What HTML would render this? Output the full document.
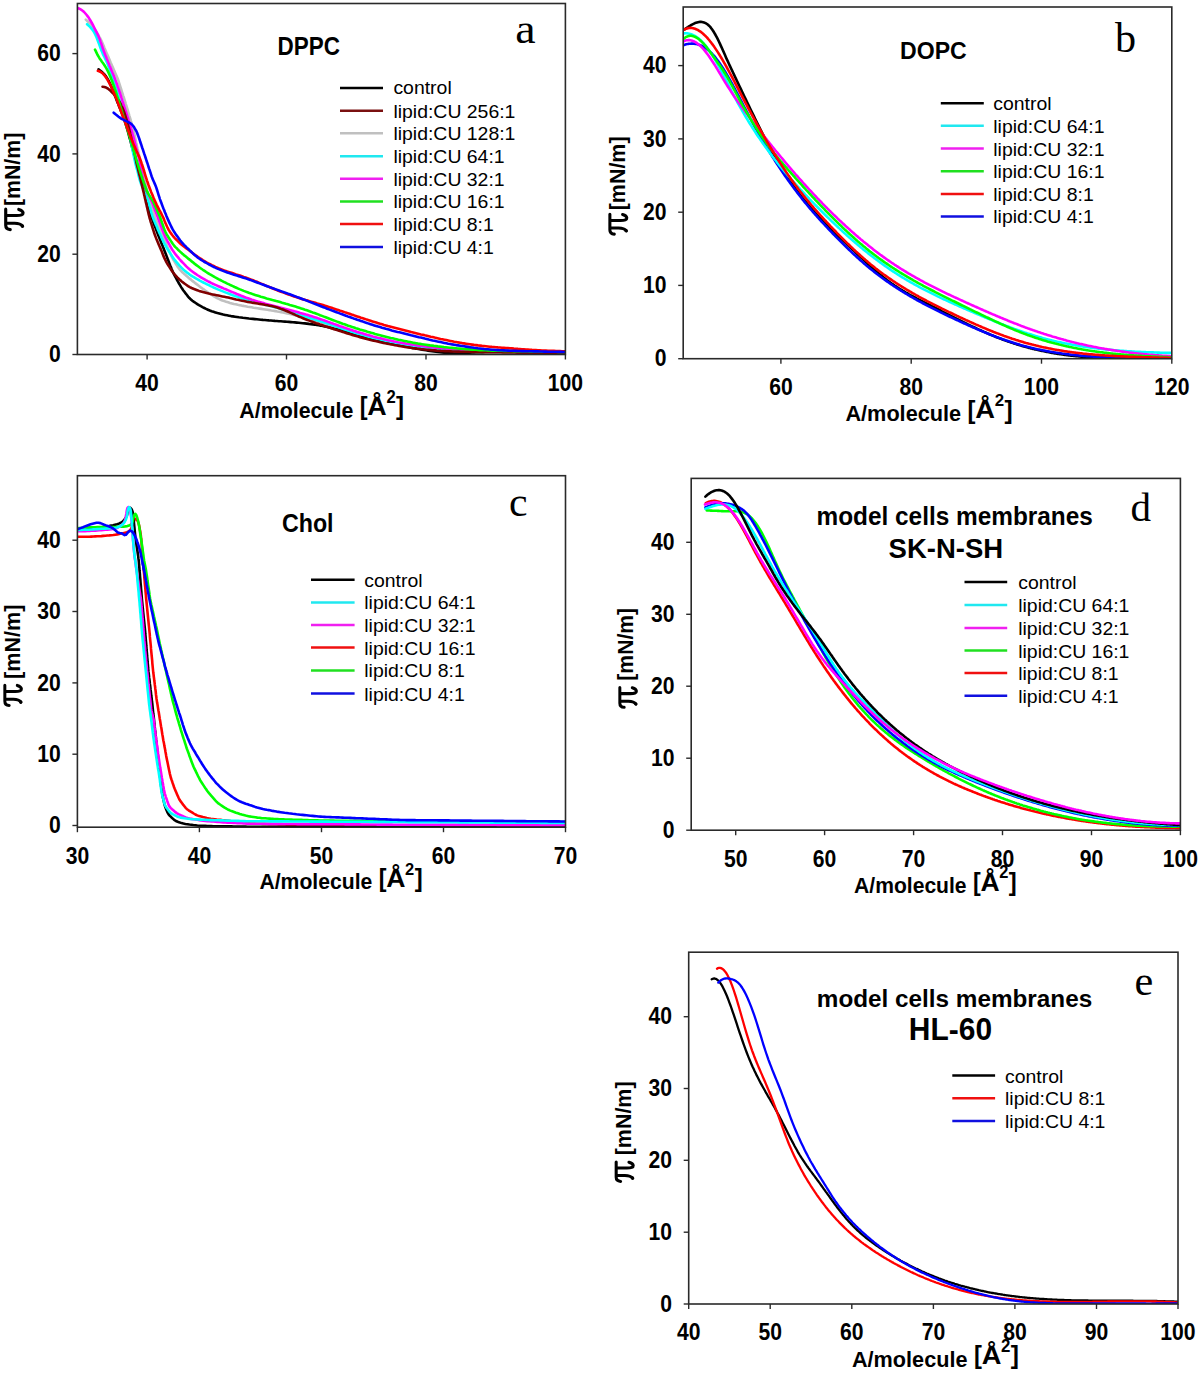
<!DOCTYPE html>
<html><head><meta charset="utf-8"><style>
html,body{margin:0;padding:0;background:#fff;}
svg{display:block;}
text{font-family:"Liberation Sans", sans-serif;fill:#000;}
</style></head><body>
<svg width="1200" height="1376" viewBox="0 0 1200 1376">
<rect width="1200" height="1376" fill="#fff"/>
<clipPath id="clipa"><rect x="77.4" y="3.5" width="488.0" height="351.0"/></clipPath>
<g clip-path="url(#clipa)" fill="none" stroke-width="2.6" stroke-linejoin="round" stroke-linecap="round">
<path d="M85.8,19.6 L87.3,21.0 L88.7,22.3 L90.2,23.7 L91.5,25.2 L92.8,26.7 L94.0,28.3 L95.2,29.9 L96.3,31.6 L97.3,33.3 L98.3,35.0 L99.3,36.8 L100.3,38.5 L101.2,40.3 L102.0,42.1 L102.8,44.0 L103.6,45.8 L104.3,47.7 L105.1,49.5 L105.9,51.4 L106.7,53.2 L107.5,55.1 L108.3,56.9 L109.1,58.7 L109.9,60.6 L110.6,62.4 L111.4,64.3 L112.2,66.1 L113.0,67.9 L113.8,69.8 L114.6,71.6 L115.4,73.5 L116.2,75.3 L117.0,77.1 L117.8,79.0 L118.5,80.9 L119.1,82.8 L119.7,84.7 L120.3,86.6 L120.9,88.5 L121.5,90.4 L122.1,92.3 L122.7,94.2 L123.3,96.1 L124.0,98.0 L124.6,100.0 L125.2,101.9 L125.7,103.8 L126.3,105.7 L126.9,107.6 L127.5,109.5 L128.1,111.5 L128.7,113.4 L129.2,115.3 L129.8,117.2 L130.4,119.1 L130.9,121.1 L131.5,123.0 L132.1,124.9 L132.6,126.8 L133.1,128.8 L133.6,130.7 L134.1,132.7 L134.5,134.6 L134.9,136.6 L135.3,138.5 L135.7,140.5 L136.1,142.5 L136.6,144.4 L137.0,146.4 L137.4,148.3 L137.9,150.3 L138.4,152.2 L138.8,154.2 L139.3,156.1 L139.7,158.1 L140.2,160.0 L140.6,162.0 L141.0,164.0 L141.5,165.9 L141.9,167.9 L142.3,169.8 L142.7,171.8 L143.1,173.8 L143.5,175.7 L144.0,177.7 L144.4,179.6 L144.9,181.6 L145.4,183.5 L145.9,185.5 L146.4,187.4 L146.9,189.4 L147.4,191.3 L147.9,193.2 L148.4,195.2 L148.9,197.1 L149.4,199.1 L149.9,201.0 L150.5,202.9 L151.0,204.8 L151.6,206.8 L152.2,208.7 L152.8,210.6 L153.4,212.5 L154.0,214.4 L154.6,216.3 L155.3,218.2 L156.1,220.0 L156.8,221.9 L157.6,223.7 L158.4,225.6 L159.2,227.4 L160.0,229.3 L160.8,231.1 L161.5,233.0 L162.3,234.8 L163.1,236.6 L163.9,238.5 L164.7,240.3 L165.4,242.2 L166.2,244.0 L167.0,245.9 L167.8,247.7 L168.6,249.6 L169.4,251.4 L170.2,253.2 L171.1,255.0 L171.9,256.9 L172.8,258.6 L173.7,260.4 L174.8,262.1 L175.8,263.8 L176.9,265.5 L178.0,267.2 L179.2,268.8 L180.5,270.3 L181.8,271.7 L183.3,273.1 L184.8,274.4 L186.3,275.8 L187.8,277.1 L189.3,278.4 L190.9,279.6 L192.4,280.9 L194.0,282.1 L195.6,283.4 L197.2,284.6 L198.7,285.8 L200.3,287.1 L202.0,288.2 L203.6,289.4 L205.2,290.6 L206.9,291.7 L208.5,292.8 L210.2,293.9 L211.9,295.0 L213.6,296.1 L215.3,297.1 L217.0,298.0 L218.8,298.9 L220.6,299.7 L222.4,300.5 L224.3,301.1 L226.2,301.8 L228.1,302.3 L230.0,302.9 L231.9,303.4 L233.9,303.9 L235.8,304.3 L237.8,304.8 L239.7,305.2 L241.7,305.6 L243.7,305.9 L245.6,306.3 L247.6,306.7 L249.6,307.0 L251.6,307.3 L253.5,307.7 L255.5,308.0 L257.5,308.3 L259.5,308.6 L261.5,308.9 L263.4,309.2 L265.4,309.5 L267.4,309.8 L269.4,310.1 L271.4,310.5 L273.3,310.8 L275.3,311.1 L277.3,311.5 L279.2,311.8 L281.2,312.2 L283.2,312.6 L285.1,313.0 L287.1,313.4 L289.1,313.8 L291.0,314.3 L293.0,314.7 L294.9,315.2 L296.9,315.7 L298.8,316.2 L300.7,316.7 L302.7,317.2 L304.6,317.7 L306.5,318.2 L308.5,318.8 L310.4,319.3 L312.3,319.9 L314.3,320.4 L316.2,321.0 L318.1,321.5 L320.0,322.1 L322.0,322.6 L323.9,323.2 L325.8,323.8 L327.7,324.3 L329.6,324.9 L331.6,325.5 L333.5,326.0 L335.4,326.6 L337.3,327.2 L339.2,327.8 L341.2,328.3 L343.1,328.9 L345.0,329.5 L346.9,330.1 L348.9,330.6 L350.8,331.2 L352.7,331.8 L354.6,332.3 L356.6,332.9 L358.5,333.4 L360.4,333.9 L362.3,334.5 L364.3,335.0 L366.2,335.5 L368.2,336.0 L370.1,336.5 L372.0,337.0 L374.0,337.5 L375.9,338.0 L377.9,338.5 L379.8,338.9 L381.8,339.4 L383.7,339.9 L385.7,340.4 L387.6,340.9 L389.5,341.3 L391.5,341.8 L393.4,342.3 L395.4,342.7 L397.4,343.1 L399.3,343.6 L401.3,344.0 L403.2,344.4 L405.2,344.7 L407.2,345.1 L409.1,345.5 L411.1,345.8 L413.1,346.2 L415.1,346.5 L417.0,346.8 L419.0,347.1 L421.0,347.4 L423.0,347.8 L425.0,348.1 L426.9,348.3 L428.9,348.6 L430.9,348.9 L432.9,349.1 L434.9,349.4 L436.9,349.6 L438.9,349.8 L440.9,350.1 L442.9,350.3 L444.8,350.5 L446.8,350.7 L448.8,350.9 L450.8,351.0 L452.8,351.2 L454.8,351.4 L456.8,351.5 L458.8,351.7 L460.8,351.8 L462.8,352.0 L464.8,352.1 L466.8,352.2 L468.8,352.3 L470.8,352.4 L472.8,352.5 L474.8,352.5 L476.8,352.6 L478.8,352.7 L480.8,352.8 L482.8,352.9 L484.8,352.9 L486.8,353.0 L488.8,353.1 L490.8,353.1 L492.9,353.2 L494.9,353.3 L496.9,353.3 L498.9,353.4 L500.9,353.4 L502.9,353.5 L504.9,353.5 L506.9,353.5 L508.9,353.5 L510.9,353.6 L512.9,353.6 L514.9,353.6 L516.9,353.6 L518.9,353.6 L520.9,353.7 L522.9,353.7 L524.9,353.7 L526.9,353.7 L528.9,353.7 L530.9,353.7 L532.9,353.8 L534.9,353.8 L536.9,353.8 L538.9,353.8 L540.9,353.8 L543.0,353.8 L545.0,353.8 L547.0,353.9 L549.0,353.9 L551.0,353.9 L553.0,353.9 L555.0,353.9 L557.0,353.9 L559.0,354.0 L561.0,354.0 L563.0,354.0 L565.0,354.0" stroke="#c0c0c0" stroke-width="2.6"/>
<path d="M98.5,69.3 L100.1,70.5 L101.7,71.7 L103.1,73.1 L104.5,74.5 L105.7,76.1 L106.8,77.7 L107.8,79.4 L108.8,81.2 L109.7,83.0 L110.5,84.8 L111.3,86.6 L112.1,88.5 L112.9,90.3 L113.6,92.2 L114.3,94.1 L115.0,95.9 L115.8,97.8 L116.5,99.7 L117.2,101.6 L118.0,103.4 L118.7,105.3 L119.4,107.2 L120.2,109.0 L120.9,110.9 L121.7,112.7 L122.4,114.6 L123.1,116.5 L123.8,118.4 L124.5,120.2 L125.1,122.2 L125.7,124.1 L126.3,126.0 L126.8,127.9 L127.4,129.8 L128.0,131.8 L128.5,133.7 L129.0,135.6 L129.5,137.6 L130.1,139.5 L130.6,141.4 L131.1,143.4 L131.6,145.3 L132.1,147.3 L132.7,149.2 L133.2,151.1 L133.7,153.1 L134.2,155.0 L134.8,156.9 L135.3,158.9 L135.9,160.8 L136.5,162.7 L137.0,164.6 L137.6,166.6 L138.2,168.5 L138.7,170.4 L139.3,172.3 L139.9,174.2 L140.5,176.2 L141.1,178.1 L141.6,180.0 L142.2,181.9 L142.7,183.9 L143.2,185.8 L143.7,187.8 L144.2,189.7 L144.6,191.7 L145.1,193.6 L145.6,195.6 L146.1,197.5 L146.6,199.4 L147.1,201.4 L147.6,203.3 L148.1,205.3 L148.7,207.2 L149.2,209.1 L149.7,211.1 L150.3,213.0 L150.8,214.9 L151.4,216.8 L152.1,218.7 L152.7,220.6 L153.4,222.5 L154.1,224.4 L154.8,226.2 L155.6,228.1 L156.3,230.0 L157.0,231.9 L157.7,233.7 L158.4,235.6 L159.2,237.5 L159.9,239.3 L160.7,241.2 L161.4,243.1 L162.2,244.9 L162.9,246.8 L163.7,248.6 L164.4,250.5 L165.1,252.4 L165.9,254.2 L166.6,256.1 L167.3,258.0 L168.0,259.9 L168.8,261.7 L169.5,263.6 L170.2,265.5 L171.0,267.3 L171.7,269.2 L172.5,271.0 L173.3,272.9 L174.2,274.7 L175.1,276.4 L176.1,278.2 L177.0,280.0 L178.0,281.7 L179.0,283.5 L180.0,285.2 L181.0,286.9 L182.1,288.6 L183.2,290.2 L184.4,291.8 L185.6,293.4 L186.9,295.0 L188.1,296.6 L189.4,298.1 L190.9,299.4 L192.4,300.7 L194.0,301.9 L195.7,303.0 L197.3,304.1 L199.0,305.2 L200.8,306.2 L202.5,307.1 L204.3,308.0 L206.1,308.9 L207.9,309.7 L209.8,310.5 L211.6,311.2 L213.5,311.8 L215.4,312.4 L217.4,313.0 L219.3,313.5 L221.2,314.0 L223.2,314.5 L225.1,314.9 L227.1,315.3 L229.0,315.7 L231.0,316.1 L233.0,316.4 L235.0,316.7 L237.0,317.0 L238.9,317.3 L240.9,317.5 L242.9,317.8 L244.9,318.0 L246.9,318.2 L248.9,318.5 L250.9,318.7 L252.9,318.9 L254.9,319.1 L256.9,319.3 L258.9,319.5 L260.9,319.7 L262.9,319.9 L264.9,320.0 L266.9,320.2 L268.9,320.4 L270.9,320.5 L272.9,320.7 L274.9,320.9 L276.9,321.0 L278.9,321.2 L280.9,321.3 L282.9,321.5 L284.9,321.6 L286.9,321.8 L288.9,321.9 L290.9,322.1 L292.9,322.3 L294.8,322.4 L296.8,322.6 L298.8,322.8 L300.8,323.0 L302.8,323.2 L304.8,323.4 L306.8,323.6 L308.8,323.9 L310.8,324.1 L312.8,324.4 L314.8,324.6 L316.7,325.0 L318.7,325.3 L320.7,325.6 L322.7,326.0 L324.6,326.4 L326.6,326.8 L328.5,327.3 L330.5,327.7 L332.4,328.2 L334.4,328.7 L336.3,329.1 L338.3,329.6 L340.2,330.1 L342.2,330.7 L344.1,331.2 L346.0,331.7 L348.0,332.2 L349.9,332.7 L351.8,333.2 L353.8,333.8 L355.7,334.3 L357.7,334.8 L359.6,335.3 L361.5,335.8 L363.5,336.3 L365.4,336.8 L367.4,337.3 L369.3,337.8 L371.3,338.3 L373.2,338.8 L375.1,339.3 L377.1,339.8 L379.0,340.3 L381.0,340.7 L382.9,341.2 L384.9,341.7 L386.8,342.2 L388.8,342.7 L390.7,343.1 L392.7,343.6 L394.6,344.1 L396.6,344.5 L398.5,345.0 L400.5,345.4 L402.4,345.9 L404.4,346.3 L406.4,346.7 L408.3,347.1 L410.3,347.5 L412.3,347.9 L414.2,348.3 L416.2,348.6 L418.2,349.0 L420.1,349.3 L422.1,349.7 L424.1,350.0 L426.1,350.3 L428.1,350.6 L430.0,350.9 L432.0,351.2 L434.0,351.5 L436.0,351.7 L438.0,352.0 L440.0,352.2 L442.0,352.4 L444.0,352.6 L446.0,352.8 L448.0,353.0 L450.0,353.2 L452.0,353.3 L454.0,353.5 L456.0,353.6 L458.0,353.8 L460.0,353.9 L462.0,354.0 L464.0,354.1 L466.0,354.2 L468.0,354.3 L470.0,354.4 L472.0,354.5 L474.0,354.6 L476.0,354.7 L478.0,354.7 L480.0,354.8 L482.0,354.9 L484.0,355.0" stroke="#000000" stroke-width="2.6"/>
<path d="M87.1,24.2 L88.6,25.6 L90.0,26.9 L91.3,28.4 L92.6,30.0 L93.7,31.6 L94.7,33.3 L95.6,35.1 L96.4,36.9 L97.1,38.8 L97.8,40.7 L98.5,42.6 L99.2,44.4 L99.9,46.3 L100.6,48.2 L101.3,50.1 L102.1,51.9 L102.8,53.8 L103.7,55.6 L104.6,57.4 L105.4,59.2 L106.3,61.0 L107.1,62.8 L107.9,64.7 L108.6,66.5 L109.3,68.4 L110.0,70.3 L110.7,72.2 L111.3,74.1 L112.0,76.0 L112.6,77.9 L113.3,79.8 L113.9,81.7 L114.6,83.6 L115.2,85.5 L115.8,87.4 L116.4,89.3 L117.0,91.2 L117.6,93.1 L118.1,95.0 L118.7,97.0 L119.2,98.9 L119.8,100.8 L120.4,102.7 L120.9,104.7 L121.5,106.6 L122.0,108.5 L122.6,110.4 L123.1,112.4 L123.7,114.3 L124.3,116.2 L124.9,118.1 L125.5,120.0 L126.1,122.0 L126.6,123.9 L127.2,125.8 L127.8,127.7 L128.4,129.6 L129.0,131.5 L129.5,133.5 L129.9,135.4 L130.3,137.4 L130.6,139.4 L131.0,141.3 L131.3,143.3 L131.7,145.3 L132.0,147.3 L132.4,149.2 L132.8,151.2 L133.2,153.2 L133.6,155.1 L134.0,157.1 L134.4,159.0 L134.9,161.0 L135.3,162.9 L135.8,164.9 L136.3,166.8 L136.8,168.8 L137.4,170.7 L137.9,172.6 L138.3,174.6 L138.8,176.5 L139.3,178.5 L139.9,180.4 L140.5,182.3 L141.2,184.2 L141.9,186.0 L142.7,187.9 L143.5,189.7 L144.3,191.5 L145.1,193.4 L145.9,195.2 L146.6,197.1 L147.4,199.0 L148.0,200.8 L148.6,202.7 L149.2,204.7 L149.7,206.6 L150.3,208.5 L150.8,210.5 L151.3,212.4 L151.9,214.3 L152.5,216.2 L153.2,218.1 L153.9,220.0 L154.7,221.8 L155.5,223.7 L156.3,225.5 L157.1,227.3 L157.8,229.2 L158.6,231.0 L159.4,232.9 L160.3,234.7 L161.1,236.5 L161.9,238.3 L162.8,240.1 L163.6,242.0 L164.5,243.8 L165.5,245.5 L166.5,247.3 L167.5,249.0 L168.5,250.7 L169.6,252.4 L170.7,254.1 L171.8,255.8 L172.9,257.4 L174.0,259.0 L175.3,260.6 L176.5,262.2 L177.8,263.7 L179.1,265.2 L180.5,266.7 L181.9,268.1 L183.3,269.5 L184.8,270.8 L186.4,272.1 L188.0,273.3 L189.6,274.5 L191.2,275.6 L192.9,276.7 L194.6,277.7 L196.3,278.7 L198.1,279.7 L199.8,280.7 L201.6,281.6 L203.4,282.5 L205.2,283.4 L207.0,284.3 L208.8,285.2 L210.6,286.1 L212.4,286.9 L214.2,287.8 L216.1,288.6 L217.9,289.4 L219.7,290.1 L221.6,290.9 L223.5,291.6 L225.3,292.4 L227.2,293.1 L229.1,293.8 L230.9,294.5 L232.8,295.2 L234.7,295.9 L236.6,296.5 L238.5,297.1 L240.4,297.8 L242.3,298.4 L244.2,299.0 L246.1,299.6 L248.1,300.1 L250.0,300.7 L251.9,301.2 L253.9,301.7 L255.8,302.2 L257.7,302.7 L259.7,303.2 L261.6,303.7 L263.6,304.2 L265.5,304.7 L267.4,305.2 L269.4,305.7 L271.3,306.2 L273.3,306.7 L275.2,307.2 L277.1,307.8 L279.1,308.3 L281.0,308.9 L282.9,309.4 L284.8,310.0 L286.7,310.6 L288.6,311.2 L290.6,311.8 L292.5,312.4 L294.4,313.0 L296.3,313.6 L298.2,314.2 L300.1,314.9 L302.0,315.5 L303.9,316.1 L305.8,316.7 L307.7,317.3 L309.6,317.9 L311.6,318.5 L313.5,319.1 L315.4,319.7 L317.3,320.3 L319.2,320.8 L321.1,321.5 L323.0,322.1 L324.9,322.7 L326.8,323.3 L328.7,323.9 L330.6,324.6 L332.5,325.2 L334.4,325.9 L336.3,326.6 L338.2,327.2 L340.1,327.9 L342.0,328.5 L343.9,329.2 L345.8,329.8 L347.7,330.4 L349.6,331.1 L351.5,331.7 L353.4,332.3 L355.3,332.9 L357.2,333.4 L359.2,334.0 L361.1,334.6 L363.0,335.1 L364.9,335.6 L366.9,336.2 L368.8,336.7 L370.8,337.2 L372.7,337.7 L374.6,338.2 L376.6,338.7 L378.5,339.1 L380.5,339.6 L382.4,340.1 L384.4,340.5 L386.3,340.9 L388.3,341.3 L390.3,341.7 L392.2,342.1 L394.2,342.5 L396.2,342.9 L398.1,343.2 L400.1,343.6 L402.1,344.0 L404.1,344.3 L406.0,344.6 L408.0,345.0 L410.0,345.3 L412.0,345.6 L413.9,345.9 L415.9,346.2 L417.9,346.5 L419.9,346.8 L421.9,347.0 L423.9,347.3 L425.8,347.5 L427.8,347.7 L429.8,347.9 L431.8,348.1 L433.8,348.3 L435.8,348.5 L437.8,348.7 L439.8,348.8 L441.8,349.0 L443.8,349.1 L445.8,349.3 L447.8,349.4 L449.8,349.5 L451.8,349.7 L453.8,349.8 L455.8,349.9 L457.8,350.0 L459.8,350.1 L461.8,350.2 L463.8,350.3 L465.8,350.4 L467.8,350.4 L469.8,350.5 L471.8,350.6 L473.8,350.7 L475.8,350.7 L477.8,350.8 L479.8,350.8 L481.8,350.9 L483.8,350.9 L485.8,351.0 L487.8,351.0 L489.9,351.1 L491.9,351.1 L493.9,351.2 L495.9,351.2 L497.9,351.2 L499.9,351.3 L501.9,351.3 L503.9,351.4 L505.9,351.4 L507.9,351.4 L509.9,351.5 L511.9,351.5 L513.9,351.6 L515.9,351.6 L517.9,351.6 L519.9,351.7 L521.9,351.7 L523.9,351.8 L525.9,351.8 L527.9,351.8 L529.9,351.9 L531.9,351.9 L533.9,351.9 L535.9,352.0 L537.9,352.0 L540.0,352.0 L542.0,352.1 L544.0,352.1 L546.0,352.2 L548.0,352.2 L550.0,352.2 L552.0,352.3 L554.0,352.3 L556.0,352.3 L558.0,352.4 L560.0,352.4 L562.0,352.4 L564.0,352.5 L565.0,352.5" stroke="#00ffff" stroke-width="2.6"/>
<path d="M77.5,7.9 L79.3,8.7 L81.0,9.6 L82.6,10.7 L84.1,12.0 L85.4,13.5 L86.7,15.0 L87.9,16.6 L89.1,18.3 L90.1,20.0 L91.1,21.7 L92.1,23.5 L93.0,25.2 L93.9,27.0 L94.8,28.8 L95.7,30.6 L96.6,32.4 L97.5,34.2 L98.4,36.0 L99.1,37.8 L99.9,39.7 L100.5,41.6 L101.2,43.5 L101.8,45.4 L102.4,47.3 L103.1,49.2 L103.8,51.1 L104.5,53.0 L105.2,54.8 L106.0,56.7 L106.7,58.5 L107.5,60.4 L108.2,62.3 L109.0,64.1 L109.7,66.0 L110.5,67.8 L111.3,69.7 L112.0,71.5 L112.8,73.4 L113.6,75.2 L114.3,77.1 L115.0,79.0 L115.7,80.9 L116.4,82.7 L117.1,84.6 L117.7,86.5 L118.4,88.4 L119.0,90.3 L119.7,92.2 L120.3,94.1 L120.9,96.0 L121.5,98.0 L122.1,99.9 L122.7,101.8 L123.3,103.7 L123.9,105.6 L124.5,107.5 L125.1,109.4 L125.7,111.3 L126.4,113.2 L127.0,115.1 L127.6,117.1 L128.2,119.0 L128.7,120.9 L129.3,122.8 L129.9,124.7 L130.5,126.7 L131.0,128.6 L131.6,130.5 L132.1,132.4 L132.6,134.4 L133.2,136.3 L133.7,138.3 L134.2,140.2 L134.7,142.1 L135.2,144.1 L135.7,146.0 L136.2,148.0 L136.7,149.9 L137.2,151.8 L137.7,153.8 L138.2,155.7 L138.7,157.7 L139.1,159.6 L139.6,161.6 L140.0,163.6 L140.3,165.5 L140.7,167.5 L141.1,169.5 L141.5,171.4 L141.8,173.4 L142.2,175.4 L142.7,177.3 L143.1,179.3 L143.6,181.2 L144.2,183.2 L144.7,185.1 L145.2,187.0 L145.9,188.9 L146.6,190.8 L147.4,192.6 L148.3,194.4 L149.2,196.2 L150.1,197.9 L151.0,199.8 L151.8,201.6 L152.5,203.4 L153.2,205.3 L153.9,207.2 L154.6,209.1 L155.3,211.0 L156.1,212.8 L156.8,214.7 L157.5,216.6 L158.2,218.5 L158.9,220.3 L159.6,222.2 L160.3,224.1 L161.0,226.0 L161.7,227.9 L162.4,229.7 L163.1,231.6 L163.8,233.5 L164.6,235.3 L165.4,237.2 L166.3,238.9 L167.2,240.7 L168.2,242.5 L169.2,244.2 L170.1,246.0 L171.1,247.7 L172.1,249.5 L173.2,251.1 L174.4,252.8 L175.6,254.4 L176.8,255.9 L178.1,257.4 L179.4,259.0 L180.7,260.5 L182.1,262.0 L183.5,263.4 L184.9,264.8 L186.3,266.3 L187.7,267.7 L189.2,269.0 L190.7,270.3 L192.3,271.5 L193.9,272.7 L195.6,273.8 L197.2,275.0 L198.9,276.0 L200.6,277.1 L202.3,278.1 L204.1,279.1 L205.8,280.1 L207.6,281.1 L209.4,282.0 L211.1,282.9 L212.9,283.8 L214.8,284.6 L216.6,285.4 L218.4,286.2 L220.3,287.0 L222.1,287.8 L224.0,288.6 L225.8,289.3 L227.7,290.1 L229.5,290.9 L231.4,291.7 L233.2,292.4 L235.1,293.2 L236.9,294.0 L238.8,294.7 L240.6,295.5 L242.5,296.2 L244.4,297.0 L246.2,297.7 L248.1,298.3 L250.0,299.0 L251.9,299.7 L253.8,300.3 L255.7,300.9 L257.6,301.5 L259.5,302.0 L261.5,302.6 L263.4,303.1 L265.3,303.7 L267.3,304.2 L269.2,304.7 L271.1,305.2 L273.1,305.7 L275.0,306.2 L277.0,306.7 L278.9,307.2 L280.9,307.7 L282.8,308.2 L284.7,308.7 L286.7,309.2 L288.6,309.7 L290.6,310.2 L292.5,310.7 L294.4,311.3 L296.4,311.8 L298.3,312.3 L300.2,312.9 L302.2,313.4 L304.1,314.0 L306.0,314.6 L307.9,315.1 L309.8,315.7 L311.8,316.3 L313.7,316.9 L315.6,317.5 L317.5,318.1 L319.4,318.8 L321.3,319.4 L323.2,320.1 L325.1,320.7 L327.0,321.4 L328.8,322.1 L330.7,322.8 L332.6,323.4 L334.5,324.1 L336.4,324.8 L338.3,325.5 L340.2,326.2 L342.1,326.8 L344.0,327.5 L345.8,328.1 L347.7,328.8 L349.6,329.4 L351.6,330.1 L353.5,330.7 L355.4,331.3 L357.3,331.9 L359.2,332.5 L361.1,333.1 L363.0,333.6 L365.0,334.2 L366.9,334.8 L368.8,335.3 L370.7,335.8 L372.7,336.4 L374.6,336.9 L376.6,337.4 L378.5,337.9 L380.4,338.3 L382.4,338.8 L384.3,339.3 L386.3,339.7 L388.3,340.2 L390.2,340.6 L392.2,341.0 L394.1,341.4 L396.1,341.8 L398.1,342.2 L400.0,342.5 L402.0,342.9 L404.0,343.2 L406.0,343.6 L408.0,343.9 L409.9,344.2 L411.9,344.5 L413.9,344.8 L415.9,345.1 L417.9,345.4 L419.9,345.7 L421.8,345.9 L423.8,346.2 L425.8,346.4 L427.8,346.7 L429.8,346.9 L431.8,347.1 L433.8,347.4 L435.8,347.6 L437.8,347.8 L439.8,348.0 L441.8,348.2 L443.8,348.3 L445.8,348.5 L447.8,348.7 L449.8,348.8 L451.8,348.9 L453.8,349.1 L455.8,349.2 L457.8,349.3 L459.8,349.4 L461.8,349.5 L463.8,349.6 L465.8,349.7 L467.8,349.8 L469.8,349.9 L471.8,350.0 L473.8,350.1 L475.8,350.2 L477.8,350.2 L479.8,350.3 L481.8,350.4 L483.8,350.4 L485.8,350.5 L487.8,350.5 L489.8,350.6 L491.8,350.6 L493.8,350.7 L495.8,350.7 L497.8,350.7 L499.8,350.8 L501.8,350.8 L503.8,350.9 L505.9,350.9 L507.9,351.0 L509.9,351.0 L511.9,351.1 L513.9,351.1 L515.9,351.1 L517.9,351.2 L519.9,351.2 L521.9,351.3 L523.9,351.3 L525.9,351.4 L527.9,351.4 L529.9,351.5 L531.9,351.5 L533.9,351.6 L535.9,351.6 L537.9,351.7 L539.9,351.7 L541.9,351.8 L543.9,351.8 L546.0,351.8 L548.0,351.9 L550.0,351.9 L552.0,352.0 L554.0,352.0 L556.0,352.1 L558.0,352.1 L560.0,352.2 L562.0,352.2 L564.0,352.3 L565.0,352.3" stroke="#ff00ff" stroke-width="2.6"/>
<path d="M102.5,86.7 L104.4,87.0 L106.1,87.6 L107.8,88.5 L109.3,89.7 L110.8,91.0 L112.2,92.5 L113.6,93.9 L114.9,95.4 L116.2,97.0 L117.4,98.5 L118.5,100.2 L119.6,101.9 L120.5,103.6 L121.3,105.5 L122.2,107.3 L123.0,109.1 L123.7,111.0 L124.4,112.8 L125.0,114.7 L125.6,116.6 L126.2,118.6 L126.8,120.5 L127.4,122.4 L127.9,124.3 L128.4,126.3 L128.9,128.2 L129.4,130.1 L129.9,132.1 L130.3,134.0 L130.8,136.0 L131.3,137.9 L131.7,139.9 L132.2,141.8 L132.6,143.8 L133.0,145.8 L133.4,147.7 L133.8,149.7 L134.2,151.7 L134.6,153.6 L135.0,155.6 L135.4,157.5 L135.8,159.5 L136.2,161.5 L136.6,163.4 L137.1,165.4 L137.6,167.3 L138.1,169.3 L138.5,171.2 L139.0,173.1 L139.5,175.1 L140.0,177.0 L140.5,179.0 L140.9,180.9 L141.4,182.9 L141.9,184.8 L142.3,186.8 L142.8,188.7 L143.2,190.7 L143.7,192.6 L144.1,194.6 L144.6,196.5 L145.0,198.5 L145.5,200.4 L145.9,202.4 L146.4,204.3 L146.8,206.3 L147.3,208.2 L147.7,210.2 L148.2,212.2 L148.6,214.1 L149.1,216.0 L149.6,218.0 L150.2,219.9 L150.7,221.8 L151.3,223.7 L151.9,225.7 L152.5,227.6 L153.1,229.5 L153.7,231.4 L154.3,233.3 L155.0,235.2 L155.7,237.1 L156.4,238.9 L157.2,240.8 L157.9,242.6 L158.7,244.5 L159.5,246.3 L160.3,248.1 L161.1,250.0 L161.9,251.8 L162.6,253.7 L163.3,255.6 L164.1,257.4 L164.9,259.2 L165.8,261.0 L166.8,262.8 L167.8,264.5 L168.9,266.2 L169.9,267.9 L171.0,269.6 L172.1,271.2 L173.3,272.8 L174.6,274.4 L175.9,275.8 L177.3,277.3 L178.7,278.7 L180.2,280.1 L181.7,281.4 L183.2,282.6 L184.8,283.8 L186.5,285.0 L188.1,286.1 L189.8,287.1 L191.6,288.0 L193.4,288.8 L195.3,289.5 L197.2,290.2 L199.1,290.9 L201.0,291.5 L202.9,292.1 L204.8,292.6 L206.7,293.1 L208.7,293.6 L210.6,294.0 L212.6,294.4 L214.6,294.8 L216.5,295.2 L218.5,295.6 L220.4,296.0 L222.4,296.4 L224.4,296.8 L226.3,297.2 L228.3,297.6 L230.2,298.1 L232.2,298.5 L234.1,298.9 L236.1,299.4 L238.1,299.8 L240.0,300.3 L242.0,300.7 L243.9,301.1 L245.9,301.5 L247.8,301.9 L249.8,302.2 L251.8,302.6 L253.8,302.9 L255.7,303.2 L257.7,303.5 L259.7,303.9 L261.7,304.2 L263.6,304.5 L265.6,304.9 L267.6,305.3 L269.5,305.7 L271.5,306.1 L273.4,306.6 L275.3,307.1 L277.2,307.6 L279.1,308.2 L281.0,308.9 L282.9,309.5 L284.7,310.3 L286.5,311.0 L288.4,311.8 L290.2,312.6 L292.0,313.4 L293.9,314.2 L295.7,315.1 L297.5,315.9 L299.3,316.7 L301.2,317.4 L303.0,318.2 L304.9,319.0 L306.7,319.7 L308.6,320.4 L310.5,321.1 L312.4,321.8 L314.2,322.5 L316.1,323.2 L318.0,323.8 L319.9,324.5 L321.8,325.1 L323.7,325.7 L325.6,326.4 L327.5,327.0 L329.4,327.6 L331.3,328.2 L333.2,328.9 L335.1,329.5 L337.0,330.1 L339.0,330.7 L340.9,331.3 L342.8,331.9 L344.7,332.6 L346.6,333.2 L348.5,333.8 L350.4,334.3 L352.3,334.9 L354.2,335.5 L356.2,336.1 L358.1,336.6 L360.0,337.2 L361.9,337.7 L363.9,338.2 L365.8,338.7 L367.8,339.2 L369.7,339.7 L371.6,340.2 L373.6,340.7 L375.5,341.1 L377.5,341.6 L379.4,342.0 L381.4,342.5 L383.4,342.9 L385.3,343.3 L387.3,343.7 L389.2,344.1 L391.2,344.5 L393.2,344.8 L395.1,345.2 L397.1,345.5 L399.1,345.9 L401.1,346.2 L403.0,346.5 L405.0,346.9 L407.0,347.2 L409.0,347.5 L411.0,347.8 L412.9,348.1 L414.9,348.3 L416.9,348.6 L418.9,348.8 L420.9,349.1 L422.9,349.3 L424.9,349.5 L426.9,349.7 L428.8,349.9 L430.8,350.1 L432.8,350.3 L434.8,350.4 L436.8,350.6 L438.8,350.7 L440.8,350.9 L442.8,351.0 L444.8,351.1 L446.8,351.2 L448.8,351.3 L450.8,351.4 L452.8,351.5 L454.8,351.5 L456.8,351.6 L458.8,351.6 L460.8,351.7 L462.8,351.7 L464.8,351.8 L466.8,351.8 L468.8,351.8 L470.8,351.9 L472.9,351.9 L474.9,351.9 L476.9,352.0 L478.9,352.0 L480.9,352.0 L482.9,352.1 L484.9,352.1 L486.9,352.1 L488.9,352.2 L490.9,352.2 L492.9,352.2 L494.9,352.3 L496.9,352.3 L498.9,352.3 L500.9,352.3 L502.9,352.4 L504.9,352.4 L506.9,352.4 L508.9,352.5 L510.9,352.5 L512.9,352.5 L514.9,352.5 L516.9,352.6 L518.9,352.6 L520.9,352.6 L522.9,352.6 L524.9,352.6 L526.9,352.7 L528.9,352.7 L530.9,352.7 L532.9,352.7 L535.0,352.7 L537.0,352.7 L539.0,352.8 L541.0,352.8 L543.0,352.8 L545.0,352.8 L547.0,352.8 L549.0,352.9 L551.0,352.9 L553.0,352.9 L555.0,352.9 L557.0,352.9 L559.0,352.9 L561.0,353.0 L563.0,353.0 L565.0,353.0" stroke="#800000" stroke-width="2.6"/>
<path d="M95.0,49.6 L95.9,51.4 L96.7,53.2 L97.6,55.0 L98.6,56.7 L99.6,58.4 L100.8,60.1 L101.9,61.7 L103.1,63.3 L104.3,65.0 L105.3,66.6 L106.4,68.4 L107.3,70.1 L108.2,71.9 L109.0,73.7 L109.8,75.6 L110.6,77.4 L111.3,79.3 L112.1,81.1 L112.7,83.0 L113.4,84.9 L114.1,86.8 L114.7,88.7 L115.4,90.6 L116.0,92.5 L116.6,94.4 L117.2,96.3 L117.8,98.2 L118.4,100.1 L119.0,102.1 L119.6,104.0 L120.2,105.9 L120.8,107.8 L121.4,109.7 L122.0,111.6 L122.6,113.6 L123.1,115.5 L123.7,117.4 L124.3,119.3 L124.9,121.2 L125.5,123.1 L126.1,125.1 L126.7,127.0 L127.3,128.9 L127.9,130.8 L128.5,132.7 L129.0,134.6 L129.6,136.5 L130.2,138.5 L130.8,140.4 L131.4,142.3 L131.9,144.2 L132.5,146.2 L133.0,148.1 L133.6,150.0 L134.1,151.9 L134.7,153.9 L135.3,155.8 L135.8,157.7 L136.4,159.6 L137.0,161.5 L137.6,163.5 L138.2,165.4 L138.8,167.3 L139.4,169.2 L140.0,171.1 L140.6,173.0 L141.2,174.9 L141.8,176.8 L142.4,178.7 L143.1,180.6 L143.7,182.5 L144.4,184.4 L145.1,186.3 L145.8,188.2 L146.5,190.0 L147.3,191.9 L148.2,193.6 L149.2,195.3 L150.3,197.0 L151.4,198.7 L152.4,200.4 L153.4,202.2 L154.2,204.0 L155.0,205.8 L155.9,207.6 L156.7,209.5 L157.5,211.3 L158.3,213.1 L159.1,214.9 L159.9,216.8 L160.6,218.7 L161.3,220.6 L161.9,222.5 L162.6,224.4 L163.2,226.3 L163.9,228.1 L164.6,230.0 L165.4,231.8 L166.3,233.6 L167.3,235.3 L168.3,237.0 L169.4,238.7 L170.5,240.4 L171.6,242.1 L172.7,243.7 L173.9,245.3 L175.2,246.8 L176.6,248.2 L178.0,249.7 L179.5,251.1 L180.9,252.4 L182.4,253.8 L183.9,255.1 L185.5,256.3 L187.0,257.6 L188.6,258.9 L190.2,260.1 L191.7,261.4 L193.3,262.6 L194.8,263.9 L196.4,265.1 L198.0,266.3 L199.6,267.5 L201.3,268.7 L202.9,269.8 L204.6,270.9 L206.2,272.0 L207.9,273.1 L209.6,274.2 L211.4,275.2 L213.1,276.2 L214.8,277.2 L216.6,278.1 L218.4,279.1 L220.2,280.0 L221.9,280.9 L223.7,281.8 L225.5,282.7 L227.3,283.6 L229.1,284.4 L230.9,285.3 L232.8,286.1 L234.6,287.0 L236.4,287.8 L238.2,288.6 L240.1,289.4 L241.9,290.1 L243.8,290.9 L245.7,291.6 L247.5,292.3 L249.4,293.0 L251.3,293.6 L253.2,294.3 L255.1,294.9 L257.0,295.5 L258.9,296.1 L260.8,296.7 L262.8,297.2 L264.7,297.8 L266.6,298.4 L268.5,298.9 L270.5,299.4 L272.4,300.0 L274.3,300.5 L276.3,301.1 L278.2,301.6 L280.1,302.1 L282.1,302.7 L284.0,303.2 L285.9,303.8 L287.8,304.3 L289.8,304.9 L291.7,305.4 L293.6,306.0 L295.5,306.6 L297.4,307.2 L299.3,307.8 L301.2,308.4 L303.1,309.0 L305.0,309.7 L306.9,310.3 L308.8,311.0 L310.7,311.7 L312.6,312.4 L314.5,313.0 L316.4,313.7 L318.2,314.4 L320.1,315.2 L322.0,315.9 L323.9,316.6 L325.7,317.3 L327.6,318.0 L329.5,318.8 L331.3,319.5 L333.2,320.2 L335.1,320.9 L337.0,321.6 L338.8,322.3 L340.7,323.0 L342.6,323.7 L344.5,324.3 L346.4,325.0 L348.3,325.7 L350.2,326.3 L352.1,326.9 L354.0,327.5 L355.9,328.2 L357.8,328.8 L359.7,329.4 L361.6,329.9 L363.6,330.5 L365.5,331.1 L367.4,331.7 L369.3,332.2 L371.2,332.8 L373.2,333.3 L375.1,333.9 L377.0,334.4 L379.0,334.9 L380.9,335.4 L382.8,335.9 L384.8,336.4 L386.7,336.9 L388.7,337.4 L390.6,337.9 L392.6,338.3 L394.5,338.8 L396.5,339.2 L398.4,339.7 L400.4,340.1 L402.4,340.5 L404.3,340.9 L406.3,341.3 L408.2,341.7 L410.2,342.1 L412.2,342.5 L414.1,342.9 L416.1,343.2 L418.1,343.6 L420.1,343.9 L422.0,344.2 L424.0,344.5 L426.0,344.8 L428.0,345.1 L430.0,345.4 L432.0,345.6 L433.9,345.9 L435.9,346.1 L437.9,346.4 L439.9,346.6 L441.9,346.8 L443.9,347.1 L445.9,347.3 L447.9,347.5 L449.9,347.7 L451.9,347.9 L453.9,348.1 L455.9,348.3 L457.9,348.5 L459.8,348.6 L461.8,348.8 L463.8,349.0 L465.8,349.1 L467.8,349.3 L469.8,349.4 L471.8,349.6 L473.8,349.7 L475.8,349.8 L477.8,349.9 L479.8,350.1 L481.8,350.2 L483.8,350.2 L485.8,350.3 L487.8,350.4 L489.9,350.5 L491.9,350.6 L493.9,350.6 L495.9,350.7 L497.9,350.7 L499.9,350.8 L501.9,350.8 L503.9,350.9 L505.9,350.9 L507.9,351.0 L509.9,351.0 L511.9,351.0 L513.9,351.1 L515.9,351.1 L517.9,351.1 L519.9,351.2 L521.9,351.2 L523.9,351.3 L525.9,351.3 L527.9,351.3 L529.9,351.4 L531.9,351.4 L533.9,351.4 L535.9,351.5 L537.9,351.5 L539.9,351.5 L542.0,351.6 L544.0,351.6 L546.0,351.7 L548.0,351.7 L550.0,351.7 L552.0,351.8 L554.0,351.8 L556.0,351.8 L558.0,351.9 L560.0,351.9 L562.0,351.9 L564.0,352.0 L565.0,352.0" stroke="#00ff00" stroke-width="2.6"/>
<path d="M97.9,70.8 L99.7,71.5 L101.4,72.4 L102.9,73.6 L104.2,75.0 L105.4,76.6 L106.5,78.2 L107.6,79.9 L108.5,81.7 L109.5,83.4 L110.4,85.2 L111.3,87.0 L112.1,88.8 L113.0,90.7 L113.8,92.5 L114.6,94.3 L115.3,96.2 L116.1,98.1 L116.8,99.9 L117.5,101.8 L118.2,103.7 L118.9,105.6 L119.6,107.4 L120.3,109.3 L121.0,111.2 L121.7,113.1 L122.4,115.0 L123.1,116.9 L123.8,118.7 L124.5,120.6 L125.2,122.5 L125.9,124.4 L126.6,126.2 L127.3,128.1 L128.0,130.0 L128.7,131.9 L129.4,133.8 L130.1,135.6 L130.8,137.5 L131.6,139.4 L132.3,141.2 L133.0,143.1 L133.8,145.0 L134.6,146.8 L135.4,148.6 L136.2,150.5 L137.1,152.3 L137.9,154.1 L138.8,155.9 L139.6,157.7 L140.3,159.6 L141.0,161.5 L141.6,163.4 L142.3,165.3 L142.9,167.2 L143.5,169.1 L144.1,171.0 L144.6,173.0 L145.2,174.9 L145.8,176.8 L146.4,178.7 L147.0,180.6 L147.7,182.5 L148.3,184.4 L149.0,186.3 L149.7,188.2 L150.4,190.0 L151.1,191.9 L151.9,193.8 L152.7,195.6 L153.4,197.5 L154.2,199.3 L155.0,201.2 L155.9,203.0 L156.7,204.8 L157.6,206.6 L158.5,208.4 L159.4,210.2 L160.4,211.9 L161.3,213.7 L162.2,215.5 L163.1,217.3 L163.9,219.1 L164.6,221.0 L165.4,222.9 L166.2,224.7 L167.0,226.5 L167.9,228.3 L168.8,230.1 L169.9,231.8 L171.0,233.4 L172.2,235.0 L173.5,236.6 L174.8,238.1 L176.2,239.5 L177.6,240.9 L179.0,242.3 L180.5,243.7 L182.0,245.0 L183.6,246.3 L185.2,247.5 L186.8,248.7 L188.4,249.8 L190.0,251.0 L191.6,252.3 L193.2,253.5 L194.8,254.7 L196.4,255.9 L198.0,257.1 L199.7,258.2 L201.4,259.2 L203.1,260.3 L204.8,261.3 L206.5,262.3 L208.3,263.3 L210.1,264.2 L211.8,265.1 L213.6,266.0 L215.4,266.9 L217.3,267.7 L219.1,268.5 L221.0,269.2 L222.8,269.9 L224.7,270.6 L226.6,271.3 L228.5,271.9 L230.4,272.5 L232.3,273.1 L234.2,273.7 L236.1,274.4 L238.0,275.0 L240.0,275.6 L241.9,276.2 L243.7,276.9 L245.6,277.5 L247.5,278.2 L249.4,278.9 L251.3,279.6 L253.1,280.3 L255.0,281.1 L256.9,281.8 L258.7,282.6 L260.6,283.4 L262.4,284.1 L264.3,284.9 L266.1,285.7 L268.0,286.4 L269.8,287.2 L271.7,288.0 L273.5,288.7 L275.4,289.5 L277.3,290.2 L279.1,291.0 L281.0,291.7 L282.9,292.4 L284.8,293.1 L286.6,293.8 L288.5,294.5 L290.4,295.1 L292.3,295.8 L294.2,296.5 L296.1,297.1 L298.0,297.7 L299.9,298.3 L301.8,298.9 L303.7,299.5 L305.7,300.1 L307.6,300.6 L309.5,301.2 L311.4,301.8 L313.4,302.3 L315.3,302.8 L317.2,303.4 L319.1,303.9 L321.1,304.5 L323.0,305.1 L324.9,305.7 L326.8,306.3 L328.7,306.9 L330.6,307.5 L332.5,308.1 L334.4,308.8 L336.3,309.4 L338.2,310.0 L340.1,310.7 L342.0,311.3 L343.9,311.9 L345.8,312.6 L347.7,313.2 L349.6,313.8 L351.5,314.5 L353.4,315.1 L355.3,315.8 L357.2,316.4 L359.1,317.0 L361.0,317.7 L362.9,318.3 L364.9,318.9 L366.8,319.6 L368.7,320.2 L370.6,320.8 L372.5,321.4 L374.4,322.0 L376.3,322.6 L378.2,323.2 L380.2,323.8 L382.1,324.3 L384.0,324.9 L385.9,325.4 L387.9,326.0 L389.8,326.5 L391.7,327.0 L393.7,327.5 L395.6,328.0 L397.6,328.5 L399.5,329.0 L401.4,329.5 L403.4,330.0 L405.3,330.5 L407.3,331.0 L409.2,331.5 L411.2,332.0 L413.1,332.4 L415.1,332.9 L417.0,333.4 L419.0,333.9 L420.9,334.4 L422.9,334.8 L424.8,335.3 L426.8,335.7 L428.7,336.2 L430.7,336.7 L432.6,337.1 L434.6,337.6 L436.5,338.0 L438.5,338.4 L440.5,338.9 L442.4,339.3 L444.4,339.7 L446.3,340.1 L448.3,340.5 L450.3,340.9 L452.2,341.3 L454.2,341.7 L456.2,342.0 L458.2,342.4 L460.1,342.7 L462.1,343.1 L464.1,343.4 L466.1,343.7 L468.0,344.0 L470.0,344.3 L472.0,344.6 L474.0,344.9 L476.0,345.1 L478.0,345.4 L480.0,345.6 L482.0,345.9 L484.0,346.1 L485.9,346.3 L487.9,346.5 L489.9,346.7 L491.9,346.9 L493.9,347.0 L495.9,347.2 L497.9,347.4 L499.9,347.5 L501.9,347.7 L503.9,347.8 L505.9,348.0 L507.9,348.1 L509.9,348.3 L511.9,348.4 L513.9,348.6 L515.9,348.7 L517.9,348.9 L519.9,349.0 L521.9,349.2 L523.9,349.3 L525.9,349.5 L527.9,349.6 L529.9,349.7 L531.9,349.9 L533.9,350.0 L535.9,350.1 L537.9,350.2 L539.9,350.3 L542.0,350.5 L544.0,350.5 L546.0,350.6 L548.0,350.7 L550.0,350.8 L552.0,350.9 L554.0,350.9 L556.0,351.0 L558.0,351.1 L560.0,351.1 L562.0,351.2 L564.0,351.3 L565.0,351.3" stroke="#ff0000" stroke-width="2.6"/>
<path d="M113.7,112.7 L115.2,114.0 L116.8,115.3 L118.3,116.5 L119.9,117.7 L121.6,118.8 L123.3,119.7 L125.1,120.6 L126.9,121.4 L128.7,122.3 L130.4,123.3 L131.9,124.5 L133.2,126.0 L134.3,127.6 L135.3,129.3 L136.3,131.0 L137.1,132.8 L137.8,134.7 L138.5,136.6 L139.2,138.5 L139.8,140.4 L140.4,142.3 L141.1,144.2 L141.7,146.1 L142.3,148.0 L143.0,149.9 L143.6,151.8 L144.2,153.7 L144.9,155.6 L145.5,157.5 L146.1,159.4 L146.7,161.3 L147.4,163.2 L148.0,165.1 L148.6,167.0 L149.2,168.9 L149.9,170.8 L150.5,172.7 L151.1,174.6 L151.7,176.5 L152.4,178.4 L153.2,180.2 L154.0,182.1 L154.8,183.9 L155.6,185.7 L156.3,187.6 L156.9,189.5 L157.5,191.4 L158.1,193.3 L158.7,195.3 L159.3,197.2 L159.9,199.1 L160.6,201.0 L161.3,202.8 L162.0,204.7 L162.7,206.6 L163.4,208.5 L164.2,210.3 L164.9,212.2 L165.7,214.0 L166.4,215.9 L167.2,217.8 L168.0,219.6 L168.8,221.4 L169.6,223.2 L170.5,225.0 L171.4,226.8 L172.3,228.6 L173.3,230.4 L174.3,232.1 L175.4,233.7 L176.6,235.4 L177.8,237.0 L178.9,238.6 L180.1,240.2 L181.4,241.8 L182.7,243.3 L184.0,244.8 L185.4,246.2 L186.8,247.6 L188.3,249.0 L189.7,250.4 L191.2,251.8 L192.6,253.1 L194.1,254.5 L195.6,255.8 L197.2,257.1 L198.8,258.3 L200.4,259.4 L202.1,260.5 L203.8,261.5 L205.6,262.5 L207.3,263.5 L209.0,264.5 L210.8,265.4 L212.6,266.4 L214.4,267.2 L216.2,268.1 L218.0,268.9 L219.9,269.6 L221.7,270.4 L223.6,271.1 L225.5,271.8 L227.3,272.5 L229.2,273.1 L231.1,273.7 L233.0,274.4 L235.0,275.0 L236.9,275.6 L238.8,276.2 L240.7,276.8 L242.6,277.4 L244.5,278.0 L246.4,278.6 L248.3,279.3 L250.2,279.9 L252.1,280.6 L253.9,281.3 L255.8,282.0 L257.7,282.7 L259.6,283.4 L261.4,284.1 L263.3,284.8 L265.2,285.5 L267.1,286.2 L269.0,286.9 L270.8,287.6 L272.7,288.2 L274.6,288.9 L276.5,289.6 L278.4,290.3 L280.3,290.9 L282.2,291.6 L284.1,292.3 L286.0,292.9 L287.8,293.6 L289.7,294.3 L291.6,295.0 L293.5,295.7 L295.4,296.4 L297.2,297.1 L299.1,297.8 L301.0,298.5 L302.9,299.2 L304.7,299.9 L306.6,300.6 L308.5,301.4 L310.3,302.1 L312.2,302.8 L314.1,303.6 L315.9,304.3 L317.8,305.0 L319.7,305.7 L321.5,306.5 L323.4,307.2 L325.3,307.9 L327.1,308.7 L329.0,309.4 L330.9,310.1 L332.7,310.8 L334.6,311.5 L336.5,312.2 L338.4,312.9 L340.2,313.6 L342.1,314.3 L344.0,315.0 L345.9,315.7 L347.8,316.4 L349.7,317.0 L351.6,317.7 L353.5,318.4 L355.4,319.0 L357.2,319.7 L359.1,320.3 L361.0,321.0 L362.9,321.6 L364.8,322.3 L366.7,322.9 L368.6,323.6 L370.5,324.2 L372.4,324.8 L374.3,325.4 L376.3,326.0 L378.2,326.6 L380.1,327.1 L382.0,327.7 L384.0,328.2 L385.9,328.8 L387.8,329.3 L389.7,329.8 L391.7,330.4 L393.6,330.9 L395.6,331.4 L397.5,331.9 L399.4,332.3 L401.4,332.8 L403.3,333.3 L405.3,333.8 L407.2,334.3 L409.2,334.8 L411.1,335.3 L413.1,335.7 L415.0,336.2 L417.0,336.7 L418.9,337.2 L420.9,337.6 L422.8,338.1 L424.8,338.6 L426.7,339.0 L428.7,339.5 L430.6,339.9 L432.6,340.4 L434.5,340.8 L436.5,341.3 L438.4,341.7 L440.4,342.1 L442.4,342.5 L444.3,342.9 L446.3,343.3 L448.2,343.7 L450.2,344.0 L452.2,344.4 L454.2,344.7 L456.1,345.1 L458.1,345.4 L460.1,345.7 L462.1,346.0 L464.1,346.3 L466.0,346.6 L468.0,346.9 L470.0,347.2 L472.0,347.5 L474.0,347.8 L476.0,348.0 L477.9,348.3 L479.9,348.5 L481.9,348.7 L483.9,349.0 L485.9,349.2 L487.9,349.3 L489.9,349.5 L491.9,349.7 L493.9,349.8 L495.9,350.0 L497.9,350.1 L499.9,350.2 L501.9,350.3 L503.9,350.4 L505.9,350.5 L507.9,350.6 L509.9,350.7 L511.9,350.8 L513.9,350.8 L515.9,350.9 L517.9,351.0 L519.9,351.0 L521.9,351.1 L523.9,351.1 L525.9,351.2 L527.9,351.2 L529.9,351.3 L531.9,351.3 L533.9,351.4 L535.9,351.4 L537.9,351.4 L540.0,351.5 L542.0,351.5 L544.0,351.6 L546.0,351.6 L548.0,351.7 L550.0,351.7 L552.0,351.7 L554.0,351.8 L556.0,351.8 L558.0,351.9 L560.0,351.9 L562.0,351.9 L564.0,352.0 L565.0,352.0" stroke="#0000ff" stroke-width="2.6"/>
</g>
<rect x="77.4" y="3.5" width="488.0" height="351.0" fill="none" stroke="#2a2a2a" stroke-width="1.6"/>
<line x1="147.1" y1="354.5" x2="147.1" y2="359.5" stroke="#2a2a2a" stroke-width="1.4"/>
<text transform="translate(147.1,390.9) scale(0.92,1)" font-size="23" font-weight="bold" text-anchor="middle">40</text>
<line x1="286.5" y1="354.5" x2="286.5" y2="359.5" stroke="#2a2a2a" stroke-width="1.4"/>
<text transform="translate(286.5,390.9) scale(0.92,1)" font-size="23" font-weight="bold" text-anchor="middle">60</text>
<line x1="426.0" y1="354.5" x2="426.0" y2="359.5" stroke="#2a2a2a" stroke-width="1.4"/>
<text transform="translate(426.0,390.9) scale(0.92,1)" font-size="23" font-weight="bold" text-anchor="middle">80</text>
<line x1="565.4" y1="354.5" x2="565.4" y2="359.5" stroke="#2a2a2a" stroke-width="1.4"/>
<text transform="translate(565.4,390.9) scale(0.92,1)" font-size="23" font-weight="bold" text-anchor="middle">100</text>
<line x1="72.4" y1="354.5" x2="77.4" y2="354.5" stroke="#2a2a2a" stroke-width="1.4"/>
<text transform="translate(60.8,362.1) scale(0.92,1)" font-size="23" font-weight="bold" text-anchor="end">0</text>
<line x1="72.4" y1="254.2" x2="77.4" y2="254.2" stroke="#2a2a2a" stroke-width="1.4"/>
<text transform="translate(60.8,261.8) scale(0.92,1)" font-size="23" font-weight="bold" text-anchor="end">20</text>
<line x1="72.4" y1="153.9" x2="77.4" y2="153.9" stroke="#2a2a2a" stroke-width="1.4"/>
<text transform="translate(60.8,161.5) scale(0.92,1)" font-size="23" font-weight="bold" text-anchor="end">40</text>
<line x1="72.4" y1="53.6" x2="77.4" y2="53.6" stroke="#2a2a2a" stroke-width="1.4"/>
<text transform="translate(60.8,61.2) scale(0.92,1)" font-size="23" font-weight="bold" text-anchor="end">60</text>
<text transform="translate(277.54,54.75) scale(0.9009,1)" style="font-size:24.93px;font-weight:bold;font-family:'Liberation Sans', sans-serif">DPPC</text>
<text transform="translate(515.30,42.67) scale(1.0677,1)" style="font-size:42.92px;font-weight:normal;font-family:'Liberation Serif', serif">a</text>
<line x1="340.0" y1="87.9" x2="383.0" y2="87.9" stroke="#000" stroke-width="2.5"/>
<text transform="translate(393.40,93.70) scale(1.010,1)" style="font-size:19.25px">control</text>
<line x1="340.0" y1="110.8" x2="383.0" y2="110.8" stroke="#7a1010" stroke-width="2.5"/>
<text transform="translate(393.40,117.80) scale(1.010,1)" style="font-size:19.25px">lipid:CU 256:1</text>
<line x1="340.0" y1="133.3" x2="383.0" y2="133.3" stroke="#c0c0c0" stroke-width="2.5"/>
<text transform="translate(393.40,140.30) scale(1.010,1)" style="font-size:19.25px">lipid:CU 128:1</text>
<line x1="340.0" y1="156.3" x2="383.0" y2="156.3" stroke="#20e8f0" stroke-width="2.5"/>
<text transform="translate(393.40,163.30) scale(1.010,1)" style="font-size:19.25px">lipid:CU 64:1</text>
<line x1="340.0" y1="178.8" x2="383.0" y2="178.8" stroke="#f020f0" stroke-width="2.5"/>
<text transform="translate(393.40,185.80) scale(1.010,1)" style="font-size:19.25px">lipid:CU 32:1</text>
<line x1="340.0" y1="201.4" x2="383.0" y2="201.4" stroke="#20e020" stroke-width="2.5"/>
<text transform="translate(393.40,208.40) scale(1.010,1)" style="font-size:19.25px">lipid:CU 16:1</text>
<line x1="340.0" y1="223.9" x2="383.0" y2="223.9" stroke="#f01010" stroke-width="2.5"/>
<text transform="translate(393.40,230.90) scale(1.010,1)" style="font-size:19.25px">lipid:CU 8:1</text>
<line x1="340.0" y1="246.9" x2="383.0" y2="246.9" stroke="#1010e0" stroke-width="2.5"/>
<text transform="translate(393.40,253.90) scale(1.010,1)" style="font-size:19.25px">lipid:CU 4:1</text>
<text transform="translate(19.51,205.97) rotate(-90) scale(0.9940,1)" style="font-size:21.39px;font-weight:bold">[mN/m]</text>
<g transform="matrix(0,-1.0194,1.0101,0,4.00,230.00)"><path d="M0.4,6.2 C0.6,3.2 2.2,1.7 4.6,1.7 L20.4,1.7 M6.6,1.8 L6.6,10.5 C6.6,14.8 5.6,17 3.6,18.4 M14.2,1.8 L14.2,12.5 C14.2,17 15,19 16.8,18.9 C18.6,18.7 19.6,16.8 20.2,14.6" fill="none" stroke="#000" stroke-width="3.1" stroke-linecap="round"/><circle cx="3.9" cy="18.2" r="1.7" fill="#000"/></g>
<text transform="translate(239.37,417.57) scale(0.9886,1)" style="font-size:21.61px;font-weight:bold;font-family:'Liberation Sans', sans-serif">A/molecule</text>
<text transform="translate(359.71,415.23) scale(0.8821,1)" style="font-size:26.52px;font-weight:bold;font-family:'Liberation Sans', sans-serif">[</text>
<text transform="translate(367.33,415.00) scale(1.0710,1)" style="font-size:25.08px;font-weight:bold;font-family:'Liberation Sans', sans-serif">Å</text>
<text transform="translate(386.42,402.70) scale(0.9563,1)" style="font-size:17.43px;font-weight:bold;font-family:'Liberation Sans', sans-serif">2</text>
<text transform="translate(396.06,415.23) scale(0.9105,1)" style="font-size:26.52px;font-weight:bold;font-family:'Liberation Sans', sans-serif">]</text>
<clipPath id="clipb"><rect x="683.2" y="7.0" width="488.6" height="351.7"/></clipPath>
<g clip-path="url(#clipb)" fill="none" stroke-width="2.6" stroke-linejoin="round" stroke-linecap="round">
<path d="M684.0,29.8 L685.0,29.1 L686.0,28.4 L687.0,27.7 L688.0,27.1 L689.0,26.4 L690.0,25.8 L691.0,25.2 L692.0,24.6 L693.0,24.1 L694.0,23.6 L695.0,23.1 L696.0,22.8 L697.0,22.5 L698.0,22.2 L699.0,22.0 L700.0,21.9 L701.0,21.9 L702.0,22.0 L703.0,22.2 L704.0,22.5 L705.0,22.9 L706.0,23.4 L707.0,24.0 L708.0,24.8 L709.0,25.7 L710.0,26.7 L711.0,27.9 L712.0,29.3 L713.0,30.7 L714.0,32.3 L715.0,34.0 L716.0,35.8 L717.0,37.7 L718.0,39.7 L719.0,41.8 L720.0,43.9 L721.0,46.1 L722.0,48.3 L723.0,50.6 L724.0,52.8 L725.0,55.1 L726.0,57.4 L727.0,59.6 L728.0,61.8 L729.0,64.0 L730.0,66.1 L731.0,68.3 L732.0,70.4 L733.0,72.5 L734.0,74.6 L735.0,76.8 L736.0,78.9 L737.0,81.0 L738.0,83.1 L739.0,85.2 L740.0,87.3 L741.0,89.4 L742.0,91.5 L743.0,93.6 L744.0,95.7 L745.0,97.8 L746.0,99.9 L747.0,102.0 L748.0,104.1 L749.0,106.1 L750.0,108.2 L751.0,110.3 L752.0,112.3 L753.0,114.4 L754.0,116.4 L755.0,118.5 L756.0,120.5 L757.0,122.5 L758.0,124.6 L759.0,126.6 L760.0,128.6 L761.0,130.5 L762.0,132.5 L763.0,134.5 L764.0,136.4 L765.0,138.4 L766.0,140.3 L767.0,142.2 L768.0,144.1 L769.0,145.9 L770.0,147.8 L771.0,149.6 L772.0,151.5 L773.0,153.3 L774.0,155.1 L775.0,156.8 L776.0,158.6 L777.0,160.3 L778.0,162.0 L779.0,163.7 L780.0,165.4 L781.0,167.1 L782.0,168.7 L783.0,170.3 L784.0,171.9 L785.0,173.4 L786.0,175.0 L787.0,176.5 L788.0,178.0 L789.0,179.5 L790.0,181.0 L791.0,182.4 L792.0,183.9 L793.0,185.3 L794.0,186.7 L795.0,188.0 L796.0,189.4 L797.0,190.8 L798.0,192.1 L799.0,193.4 L800.0,194.7 L801.0,196.0 L802.0,197.3 L803.0,198.5 L804.0,199.7 L805.0,201.0 L806.0,202.2 L807.0,203.4 L808.0,204.6 L809.0,205.7 L810.0,206.9 L811.0,208.1 L812.0,209.2 L813.0,210.3 L814.0,211.4 L815.0,212.5 L816.0,213.6 L817.0,214.7 L818.0,215.8 L819.0,216.9 L820.0,217.9 L821.0,219.0 L822.0,220.0 L823.0,221.1 L824.0,222.1 L825.0,223.1 L826.0,224.1 L827.0,225.1 L828.0,226.1 L829.0,227.1 L830.0,228.1 L831.0,229.1 L832.0,230.0 L833.0,231.0 L834.0,232.0 L835.0,233.0 L836.0,233.9 L837.0,234.9 L838.0,235.8 L839.0,236.8 L840.0,237.7 L841.0,238.7 L842.0,239.6 L843.0,240.6 L844.0,241.5 L845.0,242.4 L846.0,243.4 L847.0,244.3 L848.0,245.3 L849.0,246.2 L850.0,247.1 L851.0,248.1 L852.0,249.0 L853.0,250.0 L854.0,250.9 L855.0,251.9 L856.0,252.8 L857.0,253.8 L858.0,254.7 L859.0,255.6 L860.0,256.6 L861.0,257.5 L862.0,258.4 L863.0,259.4 L864.0,260.3 L865.0,261.2 L866.0,262.2 L867.0,263.1 L868.0,264.0 L869.0,264.9 L870.0,265.8 L871.0,266.7 L872.0,267.6 L873.0,268.5 L874.0,269.4 L875.0,270.2 L876.0,271.1 L877.0,272.0 L878.0,272.8 L879.0,273.7 L880.0,274.5 L881.0,275.3 L882.0,276.1 L883.0,276.9 L884.0,277.7 L885.0,278.5 L886.0,279.3 L887.0,280.1 L888.0,280.8 L889.0,281.6 L890.0,282.3 L891.0,283.0 L892.0,283.7 L893.0,284.4 L894.0,285.1 L895.0,285.8 L896.0,286.4 L897.0,287.1 L898.0,287.7 L899.0,288.4 L900.0,289.0 L901.0,289.6 L902.0,290.2 L903.0,290.8 L904.0,291.4 L905.0,292.0 L906.0,292.6 L907.0,293.1 L908.0,293.7 L909.0,294.3 L910.0,294.8 L911.0,295.4 L912.0,295.9 L913.0,296.4 L914.0,297.0 L915.0,297.5 L916.0,298.0 L917.0,298.6 L918.0,299.1 L919.0,299.6 L920.0,300.1 L921.0,300.6 L922.0,301.1 L923.0,301.6 L924.0,302.1 L925.0,302.6 L926.0,303.1 L927.0,303.6 L928.0,304.1 L929.0,304.6 L930.0,305.1 L931.0,305.6 L932.0,306.2 L933.0,306.7 L934.0,307.2 L935.0,307.7 L936.0,308.2 L937.0,308.7 L938.0,309.2 L939.0,309.7 L940.0,310.2 L941.0,310.7 L942.0,311.3 L943.0,311.8 L944.0,312.3 L945.0,312.8 L946.0,313.3 L947.0,313.8 L948.0,314.3 L949.0,314.8 L950.0,315.3 L951.0,315.9 L952.0,316.4 L953.0,316.9 L954.0,317.4 L955.0,317.9 L956.0,318.4 L957.0,318.9 L958.0,319.4 L959.0,319.9 L960.0,320.4 L961.0,320.9 L962.0,321.4 L963.0,321.9 L964.0,322.4 L965.0,322.9 L966.0,323.4 L967.0,323.9 L968.0,324.4 L969.0,324.8 L970.0,325.3 L971.0,325.8 L972.0,326.3 L973.0,326.8 L974.0,327.2 L975.0,327.7 L976.0,328.2 L977.0,328.7 L978.0,329.1 L979.0,329.6 L980.0,330.0 L981.0,330.5 L982.0,331.0 L983.0,331.4 L984.0,331.9 L985.0,332.3 L986.0,332.7 L987.0,333.2 L988.0,333.6 L989.0,334.0 L990.0,334.5 L991.0,334.9 L992.0,335.3 L993.0,335.7 L994.0,336.1 L995.0,336.5 L996.0,337.0 L997.0,337.4 L998.0,337.7 L999.0,338.1 L1000.0,338.5 L1001.0,338.9 L1002.0,339.3 L1003.0,339.7 L1004.0,340.0 L1005.0,340.4 L1006.0,340.8 L1007.0,341.1 L1008.0,341.5 L1009.0,341.8 L1010.0,342.1 L1011.0,342.5 L1012.0,342.8 L1013.0,343.1 L1014.0,343.5 L1015.0,343.8 L1016.0,344.1 L1017.0,344.4 L1018.0,344.7 L1019.0,345.0 L1020.0,345.3 L1021.0,345.6 L1022.0,345.9 L1023.0,346.2 L1024.0,346.5 L1025.0,346.8 L1026.0,347.0 L1027.0,347.3 L1028.0,347.6 L1029.0,347.9 L1030.0,348.1 L1031.0,348.4 L1032.0,348.6 L1033.0,348.9 L1034.0,349.1 L1035.0,349.4 L1036.0,349.6 L1037.0,349.8 L1038.0,350.0 L1039.0,350.3 L1040.0,350.5 L1041.0,350.7 L1042.0,350.9 L1043.0,351.1 L1044.0,351.3 L1045.0,351.5 L1046.0,351.7 L1047.0,351.9 L1048.0,352.1 L1049.0,352.3 L1050.0,352.5 L1051.0,352.7 L1052.0,352.9 L1053.0,353.0 L1054.0,353.2 L1055.0,353.4 L1056.0,353.5 L1057.0,353.7 L1058.0,353.9 L1059.0,354.0 L1060.0,354.2 L1061.0,354.3 L1062.0,354.4 L1063.0,354.6 L1064.0,354.7 L1065.0,354.9 L1066.0,355.0 L1067.0,355.1 L1068.0,355.2 L1069.0,355.4 L1070.0,355.5 L1071.0,355.6 L1072.0,355.7 L1073.0,355.8 L1074.0,355.9 L1075.0,356.0 L1076.0,356.1 L1077.0,356.2 L1078.0,356.3 L1079.0,356.4 L1080.0,356.5 L1081.0,356.6 L1082.0,356.6 L1083.0,356.7 L1084.0,356.8 L1085.0,356.9 L1086.0,356.9 L1087.0,357.0 L1088.0,357.1 L1089.0,357.1 L1090.0,357.2 L1091.0,357.2 L1092.0,357.3 L1093.0,357.3 L1094.0,357.4 L1095.0,357.4 L1096.0,357.5 L1097.0,357.5 L1098.0,357.6 L1099.0,357.6 L1100.0,357.6 L1101.0,357.7 L1102.0,357.7 L1103.0,357.7 L1104.0,357.8 L1105.0,357.8 L1106.0,357.8 L1107.0,357.9 L1108.0,357.9 L1109.0,357.9 L1110.0,357.9 L1111.0,357.9 L1112.0,358.0 L1113.0,358.0 L1114.0,358.0 L1115.0,358.0 L1116.0,358.0 L1117.0,358.0 L1118.0,358.1 L1119.0,358.1 L1120.0,358.1 L1121.0,358.1 L1122.0,358.1 L1123.0,358.1 L1124.0,358.1 L1125.0,358.1 L1126.0,358.1 L1127.0,358.1 L1128.0,358.2 L1129.0,358.2 L1130.0,358.2 L1131.0,358.2 L1132.0,358.2 L1133.0,358.2 L1134.0,358.2 L1135.0,358.2 L1136.0,358.2 L1137.0,358.2 L1138.0,358.2 L1139.0,358.2 L1140.0,358.2 L1141.0,358.2 L1142.0,358.2 L1143.0,358.3 L1144.0,358.3 L1145.0,358.3 L1146.0,358.3 L1147.0,358.3 L1148.0,358.3 L1149.0,358.3 L1150.0,358.3 L1151.0,358.3 L1152.0,358.4 L1153.0,358.4 L1154.0,358.4 L1155.0,358.4 L1156.0,358.4 L1157.0,358.5 L1158.0,358.5 L1159.0,358.5 L1160.0,358.5 L1161.0,358.6 L1162.0,358.6 L1163.0,358.6 L1164.0,358.6 L1165.0,358.7 L1166.0,358.7 L1167.0,358.7 L1168.0,358.8 L1169.0,358.8 L1170.0,358.9 L1171.0,358.9 L1172.0,359.0" stroke="#000000" stroke-width="2.6"/>
<path d="M683.3,45.3 L684.3,44.9 L685.3,44.6 L686.3,44.3 L687.3,44.1 L688.3,43.9 L689.3,43.8 L690.3,43.7 L691.3,43.6 L692.3,43.6 L693.3,43.6 L694.3,43.7 L695.3,43.9 L696.3,44.1 L697.3,44.3 L698.3,44.6 L699.3,44.9 L700.3,45.3 L701.3,45.7 L702.3,46.2 L703.3,46.7 L704.3,47.3 L705.3,48.0 L706.3,48.7 L707.3,49.4 L708.3,50.2 L709.3,51.1 L710.3,52.0 L711.3,53.0 L712.3,54.0 L713.3,55.1 L714.3,56.2 L715.3,57.4 L716.3,58.7 L717.3,60.0 L718.3,61.3 L719.3,62.7 L720.3,64.2 L721.3,65.7 L722.3,67.2 L723.3,68.8 L724.3,70.4 L725.3,72.0 L726.3,73.7 L727.3,75.4 L728.3,77.1 L729.3,78.8 L730.3,80.6 L731.3,82.4 L732.3,84.2 L733.3,86.1 L734.3,87.9 L735.3,89.8 L736.3,91.7 L737.3,93.5 L738.3,95.4 L739.3,97.4 L740.3,99.3 L741.3,101.2 L742.3,103.1 L743.3,105.0 L744.3,107.0 L745.3,108.9 L746.3,110.8 L747.3,112.7 L748.3,114.6 L749.3,116.5 L750.3,118.4 L751.3,120.2 L752.3,122.1 L753.3,123.9 L754.3,125.8 L755.3,127.6 L756.3,129.4 L757.3,131.2 L758.3,133.0 L759.3,134.7 L760.3,136.5 L761.3,138.2 L762.3,139.9 L763.3,141.6 L764.3,143.3 L765.3,145.0 L766.3,146.7 L767.3,148.4 L768.3,150.0 L769.3,151.6 L770.3,153.3 L771.3,154.9 L772.3,156.5 L773.3,158.1 L774.3,159.6 L775.3,161.2 L776.3,162.7 L777.3,164.3 L778.3,165.8 L779.3,167.3 L780.3,168.8 L781.3,170.3 L782.3,171.8 L783.3,173.3 L784.3,174.7 L785.3,176.2 L786.3,177.6 L787.3,179.0 L788.3,180.4 L789.3,181.8 L790.3,183.2 L791.3,184.6 L792.3,186.0 L793.3,187.3 L794.3,188.7 L795.3,190.0 L796.3,191.3 L797.3,192.6 L798.3,193.9 L799.3,195.2 L800.3,196.5 L801.3,197.8 L802.3,199.1 L803.3,200.3 L804.3,201.6 L805.3,202.8 L806.3,204.0 L807.3,205.2 L808.3,206.4 L809.3,207.6 L810.3,208.8 L811.3,210.0 L812.3,211.1 L813.3,212.3 L814.3,213.4 L815.3,214.6 L816.3,215.7 L817.3,216.8 L818.3,218.0 L819.3,219.1 L820.3,220.2 L821.3,221.3 L822.3,222.4 L823.3,223.4 L824.3,224.5 L825.3,225.6 L826.3,226.6 L827.3,227.7 L828.3,228.8 L829.3,229.8 L830.3,230.9 L831.3,231.9 L832.3,233.0 L833.3,234.0 L834.3,235.0 L835.3,236.1 L836.3,237.1 L837.3,238.1 L838.3,239.1 L839.3,240.1 L840.3,241.1 L841.3,242.1 L842.3,243.1 L843.3,244.1 L844.3,245.1 L845.3,246.1 L846.3,247.1 L847.3,248.1 L848.3,249.0 L849.3,250.0 L850.3,250.9 L851.3,251.9 L852.3,252.8 L853.3,253.8 L854.3,254.7 L855.3,255.6 L856.3,256.5 L857.3,257.5 L858.3,258.4 L859.3,259.3 L860.3,260.2 L861.3,261.0 L862.3,261.9 L863.3,262.8 L864.3,263.7 L865.3,264.5 L866.3,265.4 L867.3,266.2 L868.3,267.1 L869.3,267.9 L870.3,268.7 L871.3,269.5 L872.3,270.3 L873.3,271.1 L874.3,271.9 L875.3,272.7 L876.3,273.5 L877.3,274.3 L878.3,275.0 L879.3,275.8 L880.3,276.5 L881.3,277.3 L882.3,278.0 L883.3,278.8 L884.3,279.5 L885.3,280.2 L886.3,280.9 L887.3,281.6 L888.3,282.3 L889.3,283.0 L890.3,283.7 L891.3,284.4 L892.3,285.0 L893.3,285.7 L894.3,286.4 L895.3,287.0 L896.3,287.7 L897.3,288.3 L898.3,289.0 L899.3,289.6 L900.3,290.2 L901.3,290.9 L902.3,291.5 L903.3,292.1 L904.3,292.7 L905.3,293.3 L906.3,293.9 L907.3,294.5 L908.3,295.1 L909.3,295.7 L910.3,296.3 L911.3,296.9 L912.3,297.4 L913.3,298.0 L914.3,298.6 L915.3,299.1 L916.3,299.7 L917.3,300.3 L918.3,300.8 L919.3,301.4 L920.3,301.9 L921.3,302.4 L922.3,303.0 L923.3,303.5 L924.3,304.0 L925.3,304.6 L926.3,305.1 L927.3,305.6 L928.3,306.1 L929.3,306.7 L930.3,307.2 L931.3,307.7 L932.3,308.2 L933.3,308.7 L934.3,309.2 L935.3,309.7 L936.3,310.2 L937.3,310.7 L938.3,311.2 L939.3,311.7 L940.3,312.2 L941.3,312.6 L942.3,313.1 L943.3,313.6 L944.3,314.1 L945.3,314.6 L946.3,315.1 L947.3,315.5 L948.3,316.0 L949.3,316.5 L950.3,317.0 L951.3,317.4 L952.3,317.9 L953.3,318.4 L954.3,318.8 L955.3,319.3 L956.3,319.8 L957.3,320.2 L958.3,320.7 L959.3,321.2 L960.3,321.6 L961.3,322.1 L962.3,322.6 L963.3,323.0 L964.3,323.5 L965.3,323.9 L966.3,324.4 L967.3,324.8 L968.3,325.3 L969.3,325.7 L970.3,326.2 L971.3,326.6 L972.3,327.0 L973.3,327.5 L974.3,327.9 L975.3,328.3 L976.3,328.8 L977.3,329.2 L978.3,329.6 L979.3,330.1 L980.3,330.5 L981.3,330.9 L982.3,331.3 L983.3,331.7 L984.3,332.1 L985.3,332.6 L986.3,333.0 L987.3,333.4 L988.3,333.8 L989.3,334.2 L990.3,334.6 L991.3,335.0 L992.3,335.3 L993.3,335.7 L994.3,336.1 L995.3,336.5 L996.3,336.9 L997.3,337.2 L998.3,337.6 L999.3,338.0 L1000.3,338.3 L1001.3,338.7 L1002.3,339.1 L1003.3,339.4 L1004.3,339.8 L1005.3,340.1 L1006.3,340.5 L1007.3,340.8 L1008.3,341.1 L1009.3,341.5 L1010.3,341.8 L1011.3,342.1 L1012.3,342.4 L1013.3,342.8 L1014.3,343.1 L1015.3,343.4 L1016.3,343.7 L1017.3,344.0 L1018.3,344.3 L1019.3,344.6 L1020.3,344.9 L1021.3,345.2 L1022.3,345.4 L1023.3,345.7 L1024.3,346.0 L1025.3,346.2 L1026.3,346.5 L1027.3,346.8 L1028.3,347.0 L1029.3,347.3 L1030.3,347.5 L1031.3,347.8 L1032.3,348.0 L1033.3,348.2 L1034.3,348.5 L1035.3,348.7 L1036.3,348.9 L1037.3,349.2 L1038.3,349.4 L1039.3,349.6 L1040.3,349.8 L1041.3,350.0 L1042.3,350.2 L1043.3,350.4 L1044.3,350.6 L1045.3,350.8 L1046.3,351.0 L1047.3,351.2 L1048.3,351.4 L1049.3,351.5 L1050.3,351.7 L1051.3,351.9 L1052.3,352.0 L1053.3,352.2 L1054.3,352.4 L1055.3,352.5 L1056.3,352.7 L1057.3,352.8 L1058.3,353.0 L1059.3,353.1 L1060.3,353.3 L1061.3,353.4 L1062.3,353.6 L1063.3,353.7 L1064.3,353.8 L1065.3,354.0 L1066.3,354.1 L1067.3,354.2 L1068.3,354.3 L1069.3,354.5 L1070.3,354.6 L1071.3,354.7 L1072.3,354.8 L1073.3,354.9 L1074.3,355.0 L1075.3,355.1 L1076.3,355.2 L1077.3,355.3 L1078.3,355.4 L1079.3,355.5 L1080.3,355.6 L1081.3,355.7 L1082.3,355.8 L1083.3,355.9 L1084.3,356.0 L1085.3,356.0 L1086.3,356.1 L1087.3,356.2 L1088.3,356.3 L1089.3,356.3 L1090.3,356.4 L1091.3,356.5 L1092.3,356.5 L1093.3,356.6 L1094.3,356.7 L1095.3,356.7 L1096.3,356.8 L1097.3,356.8 L1098.3,356.9 L1099.3,357.0 L1100.3,357.0 L1101.3,357.1 L1102.3,357.1 L1103.3,357.2 L1104.3,357.2 L1105.3,357.2 L1106.3,357.3 L1107.3,357.3 L1108.3,357.4 L1109.3,357.4 L1110.3,357.4 L1111.3,357.5 L1112.3,357.5 L1113.3,357.5 L1114.3,357.6 L1115.3,357.6 L1116.3,357.6 L1117.3,357.7 L1118.3,357.7 L1119.3,357.7 L1120.3,357.7 L1121.3,357.8 L1122.3,357.8 L1123.3,357.8 L1124.3,357.8 L1125.3,357.9 L1126.3,357.9 L1127.3,357.9 L1128.3,357.9 L1129.3,357.9 L1130.3,357.9 L1131.3,358.0 L1132.3,358.0 L1133.3,358.0 L1134.3,358.0 L1135.3,358.0 L1136.3,358.0 L1137.3,358.0 L1138.3,358.0 L1139.3,358.1 L1140.3,358.1 L1141.3,358.1 L1142.3,358.1 L1143.3,358.1 L1144.3,358.1 L1145.3,358.1 L1146.3,358.1 L1147.3,358.1 L1148.3,358.1 L1149.3,358.2 L1150.3,358.2 L1151.3,358.2 L1152.3,358.2 L1153.3,358.2 L1154.3,358.2 L1155.3,358.2 L1156.3,358.2 L1157.3,358.2 L1158.3,358.2 L1159.3,358.2 L1160.3,358.3 L1161.3,358.3 L1162.3,358.3 L1163.3,358.3 L1164.3,358.3 L1165.3,358.3 L1166.3,358.3 L1167.3,358.3 L1168.3,358.3 L1169.3,358.4 L1170.3,358.4 L1171.3,358.4" stroke="#0000ff" stroke-width="2.6"/>
<path d="M683.3,33.6 L684.3,33.4 L685.3,33.3 L686.3,33.3 L687.3,33.4 L688.3,33.5 L689.3,33.7 L690.3,33.9 L691.3,34.2 L692.3,34.6 L693.3,35.1 L694.3,35.6 L695.3,36.2 L696.3,36.8 L697.3,37.5 L698.3,38.3 L699.3,39.1 L700.3,40.0 L701.3,41.0 L702.3,42.0 L703.3,43.1 L704.3,44.2 L705.3,45.4 L706.3,46.6 L707.3,47.9 L708.3,49.3 L709.3,50.7 L710.3,52.1 L711.3,53.6 L712.3,55.2 L713.3,56.7 L714.3,58.4 L715.3,60.1 L716.3,61.8 L717.3,63.5 L718.3,65.3 L719.3,67.2 L720.3,69.0 L721.3,70.9 L722.3,72.8 L723.3,74.8 L724.3,76.7 L725.3,78.7 L726.3,80.6 L727.3,82.6 L728.3,84.6 L729.3,86.6 L730.3,88.5 L731.3,90.5 L732.3,92.5 L733.3,94.4 L734.3,96.3 L735.3,98.2 L736.3,100.1 L737.3,102.0 L738.3,103.8 L739.3,105.6 L740.3,107.4 L741.3,109.2 L742.3,110.9 L743.3,112.7 L744.3,114.4 L745.3,116.1 L746.3,117.8 L747.3,119.4 L748.3,121.1 L749.3,122.7 L750.3,124.3 L751.3,125.9 L752.3,127.5 L753.3,129.1 L754.3,130.6 L755.3,132.1 L756.3,133.7 L757.3,135.2 L758.3,136.7 L759.3,138.1 L760.3,139.6 L761.3,141.1 L762.3,142.5 L763.3,143.9 L764.3,145.3 L765.3,146.7 L766.3,148.1 L767.3,149.5 L768.3,150.8 L769.3,152.2 L770.3,153.5 L771.3,154.9 L772.3,156.2 L773.3,157.5 L774.3,158.8 L775.3,160.0 L776.3,161.3 L777.3,162.6 L778.3,163.8 L779.3,165.1 L780.3,166.3 L781.3,167.5 L782.3,168.7 L783.3,170.0 L784.3,171.1 L785.3,172.3 L786.3,173.5 L787.3,174.7 L788.3,175.8 L789.3,177.0 L790.3,178.1 L791.3,179.3 L792.3,180.4 L793.3,181.5 L794.3,182.7 L795.3,183.8 L796.3,184.9 L797.3,186.0 L798.3,187.1 L799.3,188.2 L800.3,189.3 L801.3,190.3 L802.3,191.4 L803.3,192.5 L804.3,193.5 L805.3,194.6 L806.3,195.6 L807.3,196.7 L808.3,197.7 L809.3,198.8 L810.3,199.8 L811.3,200.9 L812.3,201.9 L813.3,202.9 L814.3,203.9 L815.3,205.0 L816.3,206.0 L817.3,207.0 L818.3,208.0 L819.3,209.0 L820.3,210.0 L821.3,211.0 L822.3,212.0 L823.3,213.0 L824.3,214.0 L825.3,215.0 L826.3,216.0 L827.3,217.0 L828.3,217.9 L829.3,218.9 L830.3,219.9 L831.3,220.8 L832.3,221.8 L833.3,222.7 L834.3,223.7 L835.3,224.6 L836.3,225.6 L837.3,226.5 L838.3,227.5 L839.3,228.4 L840.3,229.3 L841.3,230.2 L842.3,231.2 L843.3,232.1 L844.3,233.0 L845.3,233.9 L846.3,234.8 L847.3,235.7 L848.3,236.6 L849.3,237.5 L850.3,238.3 L851.3,239.2 L852.3,240.1 L853.3,241.0 L854.3,241.8 L855.3,242.7 L856.3,243.5 L857.3,244.4 L858.3,245.2 L859.3,246.1 L860.3,246.9 L861.3,247.7 L862.3,248.6 L863.3,249.4 L864.3,250.2 L865.3,251.0 L866.3,251.8 L867.3,252.6 L868.3,253.4 L869.3,254.2 L870.3,255.0 L871.3,255.8 L872.3,256.5 L873.3,257.3 L874.3,258.1 L875.3,258.8 L876.3,259.6 L877.3,260.3 L878.3,261.1 L879.3,261.8 L880.3,262.6 L881.3,263.3 L882.3,264.0 L883.3,264.7 L884.3,265.4 L885.3,266.1 L886.3,266.8 L887.3,267.5 L888.3,268.2 L889.3,268.9 L890.3,269.6 L891.3,270.3 L892.3,270.9 L893.3,271.6 L894.3,272.2 L895.3,272.9 L896.3,273.5 L897.3,274.2 L898.3,274.8 L899.3,275.4 L900.3,276.1 L901.3,276.7 L902.3,277.3 L903.3,277.9 L904.3,278.5 L905.3,279.1 L906.3,279.7 L907.3,280.3 L908.3,280.9 L909.3,281.5 L910.3,282.0 L911.3,282.6 L912.3,283.2 L913.3,283.7 L914.3,284.3 L915.3,284.8 L916.3,285.4 L917.3,285.9 L918.3,286.5 L919.3,287.0 L920.3,287.6 L921.3,288.1 L922.3,288.6 L923.3,289.2 L924.3,289.7 L925.3,290.2 L926.3,290.7 L927.3,291.2 L928.3,291.7 L929.3,292.2 L930.3,292.7 L931.3,293.2 L932.3,293.7 L933.3,294.2 L934.3,294.7 L935.3,295.2 L936.3,295.7 L937.3,296.2 L938.3,296.6 L939.3,297.1 L940.3,297.6 L941.3,298.1 L942.3,298.5 L943.3,299.0 L944.3,299.5 L945.3,299.9 L946.3,300.4 L947.3,300.9 L948.3,301.3 L949.3,301.8 L950.3,302.2 L951.3,302.7 L952.3,303.1 L953.3,303.6 L954.3,304.0 L955.3,304.5 L956.3,304.9 L957.3,305.4 L958.3,305.8 L959.3,306.3 L960.3,306.7 L961.3,307.1 L962.3,307.6 L963.3,308.0 L964.3,308.5 L965.3,308.9 L966.3,309.3 L967.3,309.8 L968.3,310.2 L969.3,310.6 L970.3,311.1 L971.3,311.5 L972.3,311.9 L973.3,312.4 L974.3,312.8 L975.3,313.2 L976.3,313.7 L977.3,314.1 L978.3,314.5 L979.3,314.9 L980.3,315.4 L981.3,315.8 L982.3,316.2 L983.3,316.6 L984.3,317.0 L985.3,317.5 L986.3,317.9 L987.3,318.3 L988.3,318.7 L989.3,319.1 L990.3,319.5 L991.3,319.9 L992.3,320.4 L993.3,320.8 L994.3,321.2 L995.3,321.6 L996.3,322.0 L997.3,322.4 L998.3,322.8 L999.3,323.2 L1000.3,323.6 L1001.3,324.0 L1002.3,324.3 L1003.3,324.7 L1004.3,325.1 L1005.3,325.5 L1006.3,325.9 L1007.3,326.3 L1008.3,326.6 L1009.3,327.0 L1010.3,327.4 L1011.3,327.8 L1012.3,328.1 L1013.3,328.5 L1014.3,328.9 L1015.3,329.2 L1016.3,329.6 L1017.3,329.9 L1018.3,330.3 L1019.3,330.6 L1020.3,331.0 L1021.3,331.3 L1022.3,331.7 L1023.3,332.0 L1024.3,332.4 L1025.3,332.7 L1026.3,333.0 L1027.3,333.4 L1028.3,333.7 L1029.3,334.0 L1030.3,334.3 L1031.3,334.6 L1032.3,334.9 L1033.3,335.3 L1034.3,335.6 L1035.3,335.9 L1036.3,336.2 L1037.3,336.5 L1038.3,336.8 L1039.3,337.0 L1040.3,337.3 L1041.3,337.6 L1042.3,337.9 L1043.3,338.2 L1044.3,338.4 L1045.3,338.7 L1046.3,339.0 L1047.3,339.2 L1048.3,339.5 L1049.3,339.7 L1050.3,340.0 L1051.3,340.2 L1052.3,340.5 L1053.3,340.7 L1054.3,341.0 L1055.3,341.2 L1056.3,341.4 L1057.3,341.7 L1058.3,341.9 L1059.3,342.1 L1060.3,342.3 L1061.3,342.5 L1062.3,342.8 L1063.3,343.0 L1064.3,343.2 L1065.3,343.4 L1066.3,343.6 L1067.3,343.8 L1068.3,344.0 L1069.3,344.2 L1070.3,344.3 L1071.3,344.5 L1072.3,344.7 L1073.3,344.9 L1074.3,345.1 L1075.3,345.3 L1076.3,345.4 L1077.3,345.6 L1078.3,345.8 L1079.3,345.9 L1080.3,346.1 L1081.3,346.2 L1082.3,346.4 L1083.3,346.6 L1084.3,346.7 L1085.3,346.9 L1086.3,347.0 L1087.3,347.1 L1088.3,347.3 L1089.3,347.4 L1090.3,347.6 L1091.3,347.7 L1092.3,347.8 L1093.3,348.0 L1094.3,348.1 L1095.3,348.2 L1096.3,348.3 L1097.3,348.5 L1098.3,348.6 L1099.3,348.7 L1100.3,348.8 L1101.3,348.9 L1102.3,349.0 L1103.3,349.1 L1104.3,349.3 L1105.3,349.4 L1106.3,349.5 L1107.3,349.6 L1108.3,349.7 L1109.3,349.8 L1110.3,349.8 L1111.3,349.9 L1112.3,350.0 L1113.3,350.1 L1114.3,350.2 L1115.3,350.3 L1116.3,350.4 L1117.3,350.5 L1118.3,350.5 L1119.3,350.6 L1120.3,350.7 L1121.3,350.8 L1122.3,350.8 L1123.3,350.9 L1124.3,351.0 L1125.3,351.1 L1126.3,351.1 L1127.3,351.2 L1128.3,351.2 L1129.3,351.3 L1130.3,351.4 L1131.3,351.4 L1132.3,351.5 L1133.3,351.5 L1134.3,351.6 L1135.3,351.7 L1136.3,351.7 L1137.3,351.8 L1138.3,351.8 L1139.3,351.9 L1140.3,351.9 L1141.3,352.0 L1142.3,352.0 L1143.3,352.1 L1144.3,352.1 L1145.3,352.1 L1146.3,352.2 L1147.3,352.2 L1148.3,352.3 L1149.3,352.3 L1150.3,352.3 L1151.3,352.4 L1152.3,352.4 L1153.3,352.4 L1154.3,352.5 L1155.3,352.5 L1156.3,352.5 L1157.3,352.6 L1158.3,352.6 L1159.3,352.6 L1160.3,352.7 L1161.3,352.7 L1162.3,352.7 L1163.3,352.8 L1164.3,352.8 L1165.3,352.8 L1166.3,352.8 L1167.3,352.9 L1168.3,352.9 L1169.3,352.9 L1170.3,352.9 L1171.3,353.0" stroke="#00ffff" stroke-width="2.6"/>
<path d="M683.3,41.5 L684.3,41.0 L685.3,40.6 L686.3,40.3 L687.3,40.2 L688.3,40.1 L689.3,40.1 L690.3,40.2 L691.3,40.4 L692.3,40.7 L693.3,41.1 L694.3,41.5 L695.3,42.1 L696.3,42.7 L697.3,43.4 L698.3,44.2 L699.3,45.0 L700.3,45.9 L701.3,46.9 L702.3,47.9 L703.3,49.0 L704.3,50.2 L705.3,51.4 L706.3,52.7 L707.3,54.0 L708.3,55.3 L709.3,56.7 L710.3,58.2 L711.3,59.7 L712.3,61.2 L713.3,62.7 L714.3,64.3 L715.3,65.9 L716.3,67.5 L717.3,69.2 L718.3,70.9 L719.3,72.5 L720.3,74.2 L721.3,75.9 L722.3,77.5 L723.3,79.2 L724.3,80.8 L725.3,82.5 L726.3,84.1 L727.3,85.7 L728.3,87.3 L729.3,88.9 L730.3,90.4 L731.3,92.0 L732.3,93.5 L733.3,95.0 L734.3,96.5 L735.3,97.9 L736.3,99.4 L737.3,100.8 L738.3,102.2 L739.3,103.6 L740.3,105.0 L741.3,106.4 L742.3,107.8 L743.3,109.2 L744.3,110.5 L745.3,111.9 L746.3,113.2 L747.3,114.5 L748.3,115.9 L749.3,117.2 L750.3,118.5 L751.3,119.8 L752.3,121.1 L753.3,122.4 L754.3,123.7 L755.3,125.0 L756.3,126.3 L757.3,127.6 L758.3,128.9 L759.3,130.2 L760.3,131.5 L761.3,132.8 L762.3,134.0 L763.3,135.3 L764.3,136.6 L765.3,137.8 L766.3,139.1 L767.3,140.4 L768.3,141.6 L769.3,142.9 L770.3,144.1 L771.3,145.3 L772.3,146.6 L773.3,147.8 L774.3,149.0 L775.3,150.3 L776.3,151.5 L777.3,152.7 L778.3,153.9 L779.3,155.1 L780.3,156.3 L781.3,157.5 L782.3,158.7 L783.3,159.9 L784.3,161.1 L785.3,162.3 L786.3,163.5 L787.3,164.7 L788.3,165.8 L789.3,167.0 L790.3,168.2 L791.3,169.3 L792.3,170.5 L793.3,171.7 L794.3,172.8 L795.3,174.0 L796.3,175.1 L797.3,176.2 L798.3,177.4 L799.3,178.5 L800.3,179.6 L801.3,180.7 L802.3,181.9 L803.3,183.0 L804.3,184.1 L805.3,185.2 L806.3,186.3 L807.3,187.4 L808.3,188.5 L809.3,189.6 L810.3,190.6 L811.3,191.7 L812.3,192.8 L813.3,193.9 L814.3,194.9 L815.3,196.0 L816.3,197.0 L817.3,198.1 L818.3,199.1 L819.3,200.2 L820.3,201.2 L821.3,202.2 L822.3,203.3 L823.3,204.3 L824.3,205.3 L825.3,206.3 L826.3,207.3 L827.3,208.4 L828.3,209.4 L829.3,210.4 L830.3,211.3 L831.3,212.3 L832.3,213.3 L833.3,214.3 L834.3,215.3 L835.3,216.2 L836.3,217.2 L837.3,218.2 L838.3,219.1 L839.3,220.1 L840.3,221.0 L841.3,221.9 L842.3,222.9 L843.3,223.8 L844.3,224.7 L845.3,225.7 L846.3,226.6 L847.3,227.5 L848.3,228.4 L849.3,229.3 L850.3,230.2 L851.3,231.1 L852.3,232.0 L853.3,232.8 L854.3,233.7 L855.3,234.6 L856.3,235.5 L857.3,236.3 L858.3,237.2 L859.3,238.0 L860.3,238.9 L861.3,239.7 L862.3,240.5 L863.3,241.4 L864.3,242.2 L865.3,243.0 L866.3,243.8 L867.3,244.6 L868.3,245.4 L869.3,246.2 L870.3,247.0 L871.3,247.8 L872.3,248.6 L873.3,249.4 L874.3,250.2 L875.3,250.9 L876.3,251.7 L877.3,252.4 L878.3,253.2 L879.3,253.9 L880.3,254.7 L881.3,255.4 L882.3,256.1 L883.3,256.9 L884.3,257.6 L885.3,258.3 L886.3,259.0 L887.3,259.7 L888.3,260.4 L889.3,261.1 L890.3,261.8 L891.3,262.5 L892.3,263.1 L893.3,263.8 L894.3,264.5 L895.3,265.1 L896.3,265.8 L897.3,266.4 L898.3,267.1 L899.3,267.7 L900.3,268.4 L901.3,269.0 L902.3,269.6 L903.3,270.2 L904.3,270.8 L905.3,271.4 L906.3,272.1 L907.3,272.7 L908.3,273.3 L909.3,273.8 L910.3,274.4 L911.3,275.0 L912.3,275.6 L913.3,276.2 L914.3,276.7 L915.3,277.3 L916.3,277.9 L917.3,278.4 L918.3,279.0 L919.3,279.5 L920.3,280.1 L921.3,280.6 L922.3,281.2 L923.3,281.7 L924.3,282.3 L925.3,282.8 L926.3,283.3 L927.3,283.8 L928.3,284.4 L929.3,284.9 L930.3,285.4 L931.3,285.9 L932.3,286.4 L933.3,286.9 L934.3,287.4 L935.3,287.9 L936.3,288.4 L937.3,288.9 L938.3,289.4 L939.3,289.9 L940.3,290.4 L941.3,290.9 L942.3,291.4 L943.3,291.9 L944.3,292.3 L945.3,292.8 L946.3,293.3 L947.3,293.8 L948.3,294.3 L949.3,294.7 L950.3,295.2 L951.3,295.7 L952.3,296.1 L953.3,296.6 L954.3,297.1 L955.3,297.5 L956.3,298.0 L957.3,298.4 L958.3,298.9 L959.3,299.4 L960.3,299.8 L961.3,300.3 L962.3,300.7 L963.3,301.2 L964.3,301.6 L965.3,302.1 L966.3,302.6 L967.3,303.0 L968.3,303.5 L969.3,303.9 L970.3,304.4 L971.3,304.8 L972.3,305.3 L973.3,305.7 L974.3,306.2 L975.3,306.6 L976.3,307.0 L977.3,307.5 L978.3,307.9 L979.3,308.4 L980.3,308.8 L981.3,309.3 L982.3,309.7 L983.3,310.2 L984.3,310.6 L985.3,311.0 L986.3,311.5 L987.3,311.9 L988.3,312.3 L989.3,312.8 L990.3,313.2 L991.3,313.6 L992.3,314.1 L993.3,314.5 L994.3,314.9 L995.3,315.3 L996.3,315.8 L997.3,316.2 L998.3,316.6 L999.3,317.0 L1000.3,317.5 L1001.3,317.9 L1002.3,318.3 L1003.3,318.7 L1004.3,319.1 L1005.3,319.5 L1006.3,319.9 L1007.3,320.3 L1008.3,320.8 L1009.3,321.2 L1010.3,321.6 L1011.3,322.0 L1012.3,322.4 L1013.3,322.8 L1014.3,323.2 L1015.3,323.5 L1016.3,323.9 L1017.3,324.3 L1018.3,324.7 L1019.3,325.1 L1020.3,325.5 L1021.3,325.9 L1022.3,326.2 L1023.3,326.6 L1024.3,327.0 L1025.3,327.4 L1026.3,327.7 L1027.3,328.1 L1028.3,328.5 L1029.3,328.8 L1030.3,329.2 L1031.3,329.5 L1032.3,329.9 L1033.3,330.3 L1034.3,330.6 L1035.3,330.9 L1036.3,331.3 L1037.3,331.6 L1038.3,332.0 L1039.3,332.3 L1040.3,332.6 L1041.3,333.0 L1042.3,333.3 L1043.3,333.6 L1044.3,334.0 L1045.3,334.3 L1046.3,334.6 L1047.3,334.9 L1048.3,335.2 L1049.3,335.5 L1050.3,335.8 L1051.3,336.1 L1052.3,336.5 L1053.3,336.8 L1054.3,337.0 L1055.3,337.3 L1056.3,337.6 L1057.3,337.9 L1058.3,338.2 L1059.3,338.5 L1060.3,338.8 L1061.3,339.1 L1062.3,339.3 L1063.3,339.6 L1064.3,339.9 L1065.3,340.1 L1066.3,340.4 L1067.3,340.7 L1068.3,340.9 L1069.3,341.2 L1070.3,341.5 L1071.3,341.7 L1072.3,342.0 L1073.3,342.2 L1074.3,342.5 L1075.3,342.7 L1076.3,342.9 L1077.3,343.2 L1078.3,343.4 L1079.3,343.7 L1080.3,343.9 L1081.3,344.1 L1082.3,344.3 L1083.3,344.6 L1084.3,344.8 L1085.3,345.0 L1086.3,345.2 L1087.3,345.5 L1088.3,345.7 L1089.3,345.9 L1090.3,346.1 L1091.3,346.3 L1092.3,346.5 L1093.3,346.7 L1094.3,346.9 L1095.3,347.1 L1096.3,347.3 L1097.3,347.5 L1098.3,347.7 L1099.3,347.9 L1100.3,348.1 L1101.3,348.2 L1102.3,348.4 L1103.3,348.6 L1104.3,348.8 L1105.3,349.0 L1106.3,349.1 L1107.3,349.3 L1108.3,349.5 L1109.3,349.6 L1110.3,349.8 L1111.3,350.0 L1112.3,350.1 L1113.3,350.3 L1114.3,350.4 L1115.3,350.6 L1116.3,350.8 L1117.3,350.9 L1118.3,351.0 L1119.3,351.2 L1120.3,351.3 L1121.3,351.5 L1122.3,351.6 L1123.3,351.8 L1124.3,351.9 L1125.3,352.0 L1126.3,352.2 L1127.3,352.3 L1128.3,352.4 L1129.3,352.6 L1130.3,352.7 L1131.3,352.8 L1132.3,352.9 L1133.3,353.0 L1134.3,353.2 L1135.3,353.3 L1136.3,353.4 L1137.3,353.5 L1138.3,353.6 L1139.3,353.7 L1140.3,353.8 L1141.3,353.9 L1142.3,354.0 L1143.3,354.1 L1144.3,354.2 L1145.3,354.3 L1146.3,354.4 L1147.3,354.5 L1148.3,354.6 L1149.3,354.7 L1150.3,354.8 L1151.3,354.9 L1152.3,354.9 L1153.3,355.0 L1154.3,355.1 L1155.3,355.2 L1156.3,355.3 L1157.3,355.3 L1158.3,355.4 L1159.3,355.5 L1160.3,355.6 L1161.3,355.6 L1162.3,355.7 L1163.3,355.8 L1164.3,355.8 L1165.3,355.9 L1166.3,355.9 L1167.3,356.0 L1168.3,356.1 L1169.3,356.1 L1170.3,356.2 L1171.3,356.2" stroke="#ff00ff" stroke-width="2.6"/>
<path d="M683.3,39.1 L684.3,38.3 L685.3,37.5 L686.3,36.9 L687.3,36.5 L688.3,36.1 L689.3,35.9 L690.3,35.8 L691.3,35.8 L692.3,36.0 L693.3,36.2 L694.3,36.6 L695.3,37.0 L696.3,37.5 L697.3,38.1 L698.3,38.8 L699.3,39.6 L700.3,40.5 L701.3,41.4 L702.3,42.4 L703.3,43.4 L704.3,44.6 L705.3,45.7 L706.3,46.9 L707.3,48.2 L708.3,49.5 L709.3,50.8 L710.3,52.2 L711.3,53.5 L712.3,54.9 L713.3,56.4 L714.3,57.8 L715.3,59.2 L716.3,60.6 L717.3,62.0 L718.3,63.4 L719.3,64.7 L720.3,66.1 L721.3,67.6 L722.3,69.0 L723.3,70.6 L724.3,72.2 L725.3,73.8 L726.3,75.5 L727.3,77.2 L728.3,79.0 L729.3,80.7 L730.3,82.6 L731.3,84.4 L732.3,86.2 L733.3,88.1 L734.3,90.0 L735.3,91.9 L736.3,93.7 L737.3,95.6 L738.3,97.5 L739.3,99.3 L740.3,101.2 L741.3,103.0 L742.3,104.8 L743.3,106.6 L744.3,108.3 L745.3,110.1 L746.3,111.8 L747.3,113.5 L748.3,115.2 L749.3,116.9 L750.3,118.6 L751.3,120.2 L752.3,121.9 L753.3,123.5 L754.3,125.1 L755.3,126.6 L756.3,128.2 L757.3,129.8 L758.3,131.3 L759.3,132.8 L760.3,134.3 L761.3,135.8 L762.3,137.2 L763.3,138.7 L764.3,140.1 L765.3,141.5 L766.3,142.9 L767.3,144.3 L768.3,145.6 L769.3,147.0 L770.3,148.3 L771.3,149.6 L772.3,150.9 L773.3,152.2 L774.3,153.5 L775.3,154.7 L776.3,155.9 L777.3,157.2 L778.3,158.4 L779.3,159.6 L780.3,160.8 L781.3,161.9 L782.3,163.1 L783.3,164.3 L784.3,165.4 L785.3,166.6 L786.3,167.7 L787.3,168.9 L788.3,170.0 L789.3,171.1 L790.3,172.2 L791.3,173.4 L792.3,174.5 L793.3,175.6 L794.3,176.7 L795.3,177.9 L796.3,179.0 L797.3,180.1 L798.3,181.2 L799.3,182.3 L800.3,183.4 L801.3,184.5 L802.3,185.7 L803.3,186.8 L804.3,187.9 L805.3,189.0 L806.3,190.1 L807.3,191.1 L808.3,192.2 L809.3,193.3 L810.3,194.4 L811.3,195.5 L812.3,196.6 L813.3,197.6 L814.3,198.7 L815.3,199.8 L816.3,200.8 L817.3,201.9 L818.3,203.0 L819.3,204.0 L820.3,205.1 L821.3,206.1 L822.3,207.2 L823.3,208.2 L824.3,209.2 L825.3,210.3 L826.3,211.3 L827.3,212.3 L828.3,213.3 L829.3,214.4 L830.3,215.4 L831.3,216.4 L832.3,217.4 L833.3,218.4 L834.3,219.4 L835.3,220.4 L836.3,221.3 L837.3,222.3 L838.3,223.3 L839.3,224.3 L840.3,225.2 L841.3,226.2 L842.3,227.2 L843.3,228.1 L844.3,229.1 L845.3,230.0 L846.3,230.9 L847.3,231.9 L848.3,232.8 L849.3,233.7 L850.3,234.6 L851.3,235.5 L852.3,236.4 L853.3,237.3 L854.3,238.2 L855.3,239.1 L856.3,240.0 L857.3,240.9 L858.3,241.7 L859.3,242.6 L860.3,243.5 L861.3,244.3 L862.3,245.1 L863.3,246.0 L864.3,246.8 L865.3,247.6 L866.3,248.5 L867.3,249.3 L868.3,250.1 L869.3,250.9 L870.3,251.7 L871.3,252.4 L872.3,253.2 L873.3,254.0 L874.3,254.8 L875.3,255.5 L876.3,256.3 L877.3,257.0 L878.3,257.8 L879.3,258.5 L880.3,259.2 L881.3,259.9 L882.3,260.6 L883.3,261.4 L884.3,262.1 L885.3,262.8 L886.3,263.4 L887.3,264.1 L888.3,264.8 L889.3,265.5 L890.3,266.2 L891.3,266.8 L892.3,267.5 L893.3,268.1 L894.3,268.8 L895.3,269.4 L896.3,270.1 L897.3,270.7 L898.3,271.3 L899.3,272.0 L900.3,272.6 L901.3,273.2 L902.3,273.8 L903.3,274.4 L904.3,275.0 L905.3,275.6 L906.3,276.2 L907.3,276.8 L908.3,277.4 L909.3,278.0 L910.3,278.5 L911.3,279.1 L912.3,279.7 L913.3,280.3 L914.3,280.8 L915.3,281.4 L916.3,282.0 L917.3,282.5 L918.3,283.1 L919.3,283.6 L920.3,284.2 L921.3,284.7 L922.3,285.2 L923.3,285.8 L924.3,286.3 L925.3,286.8 L926.3,287.4 L927.3,287.9 L928.3,288.4 L929.3,289.0 L930.3,289.5 L931.3,290.0 L932.3,290.5 L933.3,291.0 L934.3,291.5 L935.3,292.1 L936.3,292.6 L937.3,293.1 L938.3,293.6 L939.3,294.1 L940.3,294.6 L941.3,295.1 L942.3,295.6 L943.3,296.1 L944.3,296.6 L945.3,297.1 L946.3,297.6 L947.3,298.1 L948.3,298.6 L949.3,299.1 L950.3,299.6 L951.3,300.1 L952.3,300.6 L953.3,301.0 L954.3,301.5 L955.3,302.0 L956.3,302.5 L957.3,303.0 L958.3,303.5 L959.3,304.0 L960.3,304.5 L961.3,305.0 L962.3,305.5 L963.3,305.9 L964.3,306.4 L965.3,306.9 L966.3,307.4 L967.3,307.9 L968.3,308.4 L969.3,308.9 L970.3,309.4 L971.3,309.8 L972.3,310.3 L973.3,310.8 L974.3,311.3 L975.3,311.8 L976.3,312.3 L977.3,312.7 L978.3,313.2 L979.3,313.7 L980.3,314.2 L981.3,314.7 L982.3,315.1 L983.3,315.6 L984.3,316.1 L985.3,316.6 L986.3,317.1 L987.3,317.5 L988.3,318.0 L989.3,318.5 L990.3,319.0 L991.3,319.4 L992.3,319.9 L993.3,320.4 L994.3,320.8 L995.3,321.3 L996.3,321.8 L997.3,322.2 L998.3,322.7 L999.3,323.2 L1000.3,323.6 L1001.3,324.1 L1002.3,324.5 L1003.3,325.0 L1004.3,325.4 L1005.3,325.9 L1006.3,326.3 L1007.3,326.8 L1008.3,327.2 L1009.3,327.7 L1010.3,328.1 L1011.3,328.5 L1012.3,328.9 L1013.3,329.4 L1014.3,329.8 L1015.3,330.2 L1016.3,330.6 L1017.3,331.0 L1018.3,331.4 L1019.3,331.8 L1020.3,332.2 L1021.3,332.6 L1022.3,333.0 L1023.3,333.4 L1024.3,333.8 L1025.3,334.1 L1026.3,334.5 L1027.3,334.9 L1028.3,335.2 L1029.3,335.6 L1030.3,335.9 L1031.3,336.3 L1032.3,336.6 L1033.3,337.0 L1034.3,337.3 L1035.3,337.7 L1036.3,338.0 L1037.3,338.3 L1038.3,338.6 L1039.3,339.0 L1040.3,339.3 L1041.3,339.6 L1042.3,339.9 L1043.3,340.2 L1044.3,340.5 L1045.3,340.8 L1046.3,341.1 L1047.3,341.4 L1048.3,341.7 L1049.3,341.9 L1050.3,342.2 L1051.3,342.5 L1052.3,342.8 L1053.3,343.0 L1054.3,343.3 L1055.3,343.6 L1056.3,343.8 L1057.3,344.1 L1058.3,344.3 L1059.3,344.6 L1060.3,344.8 L1061.3,345.0 L1062.3,345.3 L1063.3,345.5 L1064.3,345.8 L1065.3,346.0 L1066.3,346.2 L1067.3,346.4 L1068.3,346.6 L1069.3,346.9 L1070.3,347.1 L1071.3,347.3 L1072.3,347.5 L1073.3,347.7 L1074.3,347.9 L1075.3,348.1 L1076.3,348.3 L1077.3,348.5 L1078.3,348.7 L1079.3,348.9 L1080.3,349.0 L1081.3,349.2 L1082.3,349.4 L1083.3,349.6 L1084.3,349.7 L1085.3,349.9 L1086.3,350.1 L1087.3,350.2 L1088.3,350.4 L1089.3,350.6 L1090.3,350.7 L1091.3,350.9 L1092.3,351.0 L1093.3,351.2 L1094.3,351.3 L1095.3,351.5 L1096.3,351.6 L1097.3,351.7 L1098.3,351.9 L1099.3,352.0 L1100.3,352.2 L1101.3,352.3 L1102.3,352.4 L1103.3,352.5 L1104.3,352.7 L1105.3,352.8 L1106.3,352.9 L1107.3,353.0 L1108.3,353.1 L1109.3,353.2 L1110.3,353.4 L1111.3,353.5 L1112.3,353.6 L1113.3,353.7 L1114.3,353.8 L1115.3,353.9 L1116.3,354.0 L1117.3,354.1 L1118.3,354.2 L1119.3,354.3 L1120.3,354.4 L1121.3,354.5 L1122.3,354.5 L1123.3,354.6 L1124.3,354.7 L1125.3,354.8 L1126.3,354.9 L1127.3,355.0 L1128.3,355.0 L1129.3,355.1 L1130.3,355.2 L1131.3,355.3 L1132.3,355.3 L1133.3,355.4 L1134.3,355.5 L1135.3,355.5 L1136.3,355.6 L1137.3,355.7 L1138.3,355.7 L1139.3,355.8 L1140.3,355.9 L1141.3,355.9 L1142.3,356.0 L1143.3,356.0 L1144.3,356.1 L1145.3,356.2 L1146.3,356.2 L1147.3,356.3 L1148.3,356.3 L1149.3,356.4 L1150.3,356.4 L1151.3,356.5 L1152.3,356.5 L1153.3,356.6 L1154.3,356.6 L1155.3,356.6 L1156.3,356.7 L1157.3,356.7 L1158.3,356.8 L1159.3,356.8 L1160.3,356.9 L1161.3,356.9 L1162.3,356.9 L1163.3,357.0 L1164.3,357.0 L1165.3,357.1 L1166.3,357.1 L1167.3,357.1 L1168.3,357.2 L1169.3,357.2 L1170.3,357.2 L1171.3,357.3" stroke="#00ff00" stroke-width="2.6"/>
<path d="M682.1,30.8 L683.1,30.2 L684.1,29.6 L685.1,29.1 L686.1,28.7 L687.1,28.4 L688.1,28.1 L689.1,28.0 L690.1,27.9 L691.1,27.9 L692.1,28.0 L693.1,28.2 L694.1,28.5 L695.1,28.8 L696.1,29.2 L697.1,29.6 L698.1,30.2 L699.1,30.8 L700.1,31.4 L701.1,32.1 L702.1,32.9 L703.1,33.8 L704.1,34.7 L705.1,35.6 L706.1,36.7 L707.1,37.7 L708.1,38.9 L709.1,40.0 L710.1,41.3 L711.1,42.5 L712.1,43.9 L713.1,45.2 L714.1,46.6 L715.1,48.1 L716.1,49.6 L717.1,51.1 L718.1,52.6 L719.1,54.2 L720.1,55.8 L721.1,57.5 L722.1,59.2 L723.1,60.9 L724.1,62.6 L725.1,64.4 L726.1,66.2 L727.1,68.0 L728.1,69.8 L729.1,71.6 L730.1,73.5 L731.1,75.4 L732.1,77.2 L733.1,79.1 L734.1,81.0 L735.1,83.0 L736.1,84.9 L737.1,86.8 L738.1,88.7 L739.1,90.6 L740.1,92.6 L741.1,94.5 L742.1,96.4 L743.1,98.3 L744.1,100.2 L745.1,102.1 L746.1,104.0 L747.1,105.9 L748.1,107.8 L749.1,109.7 L750.1,111.5 L751.1,113.4 L752.1,115.2 L753.1,117.0 L754.1,118.9 L755.1,120.7 L756.1,122.5 L757.1,124.3 L758.1,126.1 L759.1,127.9 L760.1,129.6 L761.1,131.4 L762.1,133.2 L763.1,134.9 L764.1,136.6 L765.1,138.4 L766.1,140.1 L767.1,141.8 L768.1,143.5 L769.1,145.1 L770.1,146.8 L771.1,148.5 L772.1,150.1 L773.1,151.8 L774.1,153.4 L775.1,155.0 L776.1,156.6 L777.1,158.2 L778.1,159.8 L779.1,161.3 L780.1,162.9 L781.1,164.4 L782.1,166.0 L783.1,167.5 L784.1,169.0 L785.1,170.5 L786.1,172.0 L787.1,173.4 L788.1,174.9 L789.1,176.3 L790.1,177.7 L791.1,179.2 L792.1,180.6 L793.1,181.9 L794.1,183.3 L795.1,184.7 L796.1,186.0 L797.1,187.3 L798.1,188.7 L799.1,190.0 L800.1,191.3 L801.1,192.5 L802.1,193.8 L803.1,195.1 L804.1,196.3 L805.1,197.6 L806.1,198.8 L807.1,200.0 L808.1,201.2 L809.1,202.4 L810.1,203.6 L811.1,204.8 L812.1,205.9 L813.1,207.1 L814.1,208.3 L815.1,209.4 L816.1,210.5 L817.1,211.7 L818.1,212.8 L819.1,213.9 L820.1,215.0 L821.1,216.1 L822.1,217.2 L823.1,218.3 L824.1,219.4 L825.1,220.5 L826.1,221.5 L827.1,222.6 L828.1,223.7 L829.1,224.7 L830.1,225.8 L831.1,226.8 L832.1,227.9 L833.1,228.9 L834.1,230.0 L835.1,231.0 L836.1,232.0 L837.1,233.1 L838.1,234.1 L839.1,235.1 L840.1,236.1 L841.1,237.1 L842.1,238.1 L843.1,239.1 L844.1,240.1 L845.1,241.1 L846.1,242.1 L847.1,243.1 L848.1,244.0 L849.1,245.0 L850.1,246.0 L851.1,246.9 L852.1,247.9 L853.1,248.8 L854.1,249.8 L855.1,250.7 L856.1,251.6 L857.1,252.5 L858.1,253.4 L859.1,254.3 L860.1,255.2 L861.1,256.1 L862.1,257.0 L863.1,257.9 L864.1,258.8 L865.1,259.6 L866.1,260.5 L867.1,261.3 L868.1,262.2 L869.1,263.0 L870.1,263.9 L871.1,264.7 L872.1,265.5 L873.1,266.3 L874.1,267.1 L875.1,267.9 L876.1,268.7 L877.1,269.4 L878.1,270.2 L879.1,271.0 L880.1,271.7 L881.1,272.5 L882.1,273.2 L883.1,274.0 L884.1,274.7 L885.1,275.4 L886.1,276.1 L887.1,276.8 L888.1,277.5 L889.1,278.2 L890.1,278.9 L891.1,279.6 L892.1,280.3 L893.1,281.0 L894.1,281.6 L895.1,282.3 L896.1,283.0 L897.1,283.6 L898.1,284.3 L899.1,284.9 L900.1,285.5 L901.1,286.2 L902.1,286.8 L903.1,287.4 L904.1,288.0 L905.1,288.6 L906.1,289.3 L907.1,289.9 L908.1,290.5 L909.1,291.0 L910.1,291.6 L911.1,292.2 L912.1,292.8 L913.1,293.4 L914.1,293.9 L915.1,294.5 L916.1,295.1 L917.1,295.6 L918.1,296.2 L919.1,296.8 L920.1,297.3 L921.1,297.8 L922.1,298.4 L923.1,298.9 L924.1,299.5 L925.1,300.0 L926.1,300.5 L927.1,301.1 L928.1,301.6 L929.1,302.1 L930.1,302.6 L931.1,303.1 L932.1,303.6 L933.1,304.2 L934.1,304.7 L935.1,305.2 L936.1,305.7 L937.1,306.2 L938.1,306.7 L939.1,307.2 L940.1,307.7 L941.1,308.2 L942.1,308.7 L943.1,309.1 L944.1,309.6 L945.1,310.1 L946.1,310.6 L947.1,311.1 L948.1,311.6 L949.1,312.1 L950.1,312.5 L951.1,313.0 L952.1,313.5 L953.1,314.0 L954.1,314.5 L955.1,314.9 L956.1,315.4 L957.1,315.9 L958.1,316.3 L959.1,316.8 L960.1,317.3 L961.1,317.8 L962.1,318.2 L963.1,318.7 L964.1,319.1 L965.1,319.6 L966.1,320.1 L967.1,320.5 L968.1,321.0 L969.1,321.4 L970.1,321.9 L971.1,322.3 L972.1,322.8 L973.1,323.2 L974.1,323.7 L975.1,324.1 L976.1,324.6 L977.1,325.0 L978.1,325.4 L979.1,325.9 L980.1,326.3 L981.1,326.7 L982.1,327.2 L983.1,327.6 L984.1,328.0 L985.1,328.4 L986.1,328.8 L987.1,329.3 L988.1,329.7 L989.1,330.1 L990.1,330.5 L991.1,330.9 L992.1,331.3 L993.1,331.7 L994.1,332.1 L995.1,332.5 L996.1,332.9 L997.1,333.3 L998.1,333.6 L999.1,334.0 L1000.1,334.4 L1001.1,334.8 L1002.1,335.1 L1003.1,335.5 L1004.1,335.9 L1005.1,336.2 L1006.1,336.6 L1007.1,336.9 L1008.1,337.3 L1009.1,337.6 L1010.1,338.0 L1011.1,338.3 L1012.1,338.7 L1013.1,339.0 L1014.1,339.3 L1015.1,339.6 L1016.1,340.0 L1017.1,340.3 L1018.1,340.6 L1019.1,340.9 L1020.1,341.2 L1021.1,341.5 L1022.1,341.8 L1023.1,342.1 L1024.1,342.4 L1025.1,342.7 L1026.1,343.0 L1027.1,343.2 L1028.1,343.5 L1029.1,343.8 L1030.1,344.0 L1031.1,344.3 L1032.1,344.6 L1033.1,344.8 L1034.1,345.1 L1035.1,345.3 L1036.1,345.6 L1037.1,345.8 L1038.1,346.0 L1039.1,346.3 L1040.1,346.5 L1041.1,346.7 L1042.1,347.0 L1043.1,347.2 L1044.1,347.4 L1045.1,347.6 L1046.1,347.8 L1047.1,348.0 L1048.1,348.2 L1049.1,348.4 L1050.1,348.6 L1051.1,348.8 L1052.1,349.0 L1053.1,349.2 L1054.1,349.4 L1055.1,349.6 L1056.1,349.7 L1057.1,349.9 L1058.1,350.1 L1059.1,350.3 L1060.1,350.4 L1061.1,350.6 L1062.1,350.8 L1063.1,350.9 L1064.1,351.1 L1065.1,351.2 L1066.1,351.4 L1067.1,351.5 L1068.1,351.7 L1069.1,351.8 L1070.1,352.0 L1071.1,352.1 L1072.1,352.2 L1073.1,352.4 L1074.1,352.5 L1075.1,352.6 L1076.1,352.7 L1077.1,352.9 L1078.1,353.0 L1079.1,353.1 L1080.1,353.2 L1081.1,353.3 L1082.1,353.4 L1083.1,353.6 L1084.1,353.7 L1085.1,353.8 L1086.1,353.9 L1087.1,354.0 L1088.1,354.1 L1089.1,354.2 L1090.1,354.3 L1091.1,354.3 L1092.1,354.4 L1093.1,354.5 L1094.1,354.6 L1095.1,354.7 L1096.1,354.8 L1097.1,354.9 L1098.1,354.9 L1099.1,355.0 L1100.1,355.1 L1101.1,355.2 L1102.1,355.2 L1103.1,355.3 L1104.1,355.4 L1105.1,355.5 L1106.1,355.5 L1107.1,355.6 L1108.1,355.6 L1109.1,355.7 L1110.1,355.8 L1111.1,355.8 L1112.1,355.9 L1113.1,355.9 L1114.1,356.0 L1115.1,356.1 L1116.1,356.1 L1117.1,356.2 L1118.1,356.2 L1119.1,356.3 L1120.1,356.3 L1121.1,356.4 L1122.1,356.4 L1123.1,356.4 L1124.1,356.5 L1125.1,356.5 L1126.1,356.6 L1127.1,356.6 L1128.1,356.7 L1129.1,356.7 L1130.1,356.7 L1131.1,356.8 L1132.1,356.8 L1133.1,356.9 L1134.1,356.9 L1135.1,356.9 L1136.1,357.0 L1137.1,357.0 L1138.1,357.0 L1139.1,357.1 L1140.1,357.1 L1141.1,357.1 L1142.1,357.2 L1143.1,357.2 L1144.1,357.2 L1145.1,357.3 L1146.1,357.3 L1147.1,357.3 L1148.1,357.3 L1149.1,357.4 L1150.1,357.4 L1151.1,357.4 L1152.1,357.5 L1153.1,357.5 L1154.1,357.5 L1155.1,357.5 L1156.1,357.6 L1157.1,357.6 L1158.1,357.6 L1159.1,357.7 L1160.1,357.7 L1161.1,357.7 L1162.1,357.7 L1163.1,357.8 L1164.1,357.8 L1165.1,357.8 L1166.1,357.9 L1167.1,357.9 L1168.1,357.9 L1169.1,358.0 L1170.1,358.0 L1171.1,358.0" stroke="#ff0000" stroke-width="2.6"/>
</g>
<rect x="683.2" y="7.0" width="488.6" height="351.7" fill="none" stroke="#2a2a2a" stroke-width="1.6"/>
<line x1="780.9" y1="358.7" x2="780.9" y2="363.7" stroke="#2a2a2a" stroke-width="1.4"/>
<text transform="translate(780.9,395.1) scale(0.92,1)" font-size="23" font-weight="bold" text-anchor="middle">60</text>
<line x1="911.2" y1="358.7" x2="911.2" y2="363.7" stroke="#2a2a2a" stroke-width="1.4"/>
<text transform="translate(911.2,395.1) scale(0.92,1)" font-size="23" font-weight="bold" text-anchor="middle">80</text>
<line x1="1041.5" y1="358.7" x2="1041.5" y2="363.7" stroke="#2a2a2a" stroke-width="1.4"/>
<text transform="translate(1041.5,395.1) scale(0.92,1)" font-size="23" font-weight="bold" text-anchor="middle">100</text>
<line x1="1171.8" y1="358.7" x2="1171.8" y2="363.7" stroke="#2a2a2a" stroke-width="1.4"/>
<text transform="translate(1171.8,395.1) scale(0.92,1)" font-size="23" font-weight="bold" text-anchor="middle">120</text>
<line x1="678.2" y1="358.7" x2="683.2" y2="358.7" stroke="#2a2a2a" stroke-width="1.4"/>
<text transform="translate(666.6,366.3) scale(0.92,1)" font-size="23" font-weight="bold" text-anchor="end">0</text>
<line x1="678.2" y1="285.4" x2="683.2" y2="285.4" stroke="#2a2a2a" stroke-width="1.4"/>
<text transform="translate(666.6,293.0) scale(0.92,1)" font-size="23" font-weight="bold" text-anchor="end">10</text>
<line x1="678.2" y1="212.2" x2="683.2" y2="212.2" stroke="#2a2a2a" stroke-width="1.4"/>
<text transform="translate(666.6,219.8) scale(0.92,1)" font-size="23" font-weight="bold" text-anchor="end">20</text>
<line x1="678.2" y1="138.9" x2="683.2" y2="138.9" stroke="#2a2a2a" stroke-width="1.4"/>
<text transform="translate(666.6,146.5) scale(0.92,1)" font-size="23" font-weight="bold" text-anchor="end">30</text>
<line x1="678.2" y1="65.6" x2="683.2" y2="65.6" stroke="#2a2a2a" stroke-width="1.4"/>
<text transform="translate(666.6,73.2) scale(0.92,1)" font-size="23" font-weight="bold" text-anchor="end">40</text>
<text transform="translate(900.10,59.45) scale(0.9309,1)" style="font-size:24.79px;font-weight:bold;font-family:'Liberation Sans', sans-serif">DOPC</text>
<text transform="translate(1115.00,52.28) scale(0.9977,1)" style="font-size:42.27px;font-weight:normal;font-family:'Liberation Serif', serif">b</text>
<line x1="940.8" y1="103.2" x2="983.8" y2="103.2" stroke="#000" stroke-width="2.5"/>
<text transform="translate(993.30,110.20) scale(1.010,1)" style="font-size:19.25px">control</text>
<line x1="940.8" y1="125.8" x2="983.8" y2="125.8" stroke="#20e8f0" stroke-width="2.5"/>
<text transform="translate(993.30,132.80) scale(1.010,1)" style="font-size:19.25px">lipid:CU 64:1</text>
<line x1="940.8" y1="148.6" x2="983.8" y2="148.6" stroke="#f020f0" stroke-width="2.5"/>
<text transform="translate(993.30,155.60) scale(1.010,1)" style="font-size:19.25px">lipid:CU 32:1</text>
<line x1="940.8" y1="171.3" x2="983.8" y2="171.3" stroke="#20e020" stroke-width="2.5"/>
<text transform="translate(993.30,178.30) scale(1.010,1)" style="font-size:19.25px">lipid:CU 16:1</text>
<line x1="940.8" y1="193.9" x2="983.8" y2="193.9" stroke="#f01010" stroke-width="2.5"/>
<text transform="translate(993.30,200.90) scale(1.010,1)" style="font-size:19.25px">lipid:CU 8:1</text>
<line x1="940.8" y1="216.4" x2="983.8" y2="216.4" stroke="#1010e0" stroke-width="2.5"/>
<text transform="translate(993.30,223.40) scale(1.010,1)" style="font-size:19.25px">lipid:CU 4:1</text>
<text transform="translate(624.61,210.28) rotate(-90) scale(1.0024,1)" style="font-size:21.39px;font-weight:bold">[mN/m]</text>
<g transform="matrix(0,-0.9903,0.9848,0,608.20,234.50)"><path d="M0.4,6.2 C0.6,3.2 2.2,1.7 4.6,1.7 L20.4,1.7 M6.6,1.8 L6.6,10.5 C6.6,14.8 5.6,17 3.6,18.4 M14.2,1.8 L14.2,12.5 C14.2,17 15,19 16.8,18.9 C18.6,18.7 19.6,16.8 20.2,14.6" fill="none" stroke="#000" stroke-width="3.1" stroke-linecap="round"/><circle cx="3.9" cy="18.2" r="1.7" fill="#000"/></g>
<text transform="translate(845.46,420.97) scale(1.0035,1)" style="font-size:21.61px;font-weight:bold;font-family:'Liberation Sans', sans-serif">A/molecule</text>
<text transform="translate(967.62,418.63) scale(0.8953,1)" style="font-size:26.52px;font-weight:bold;font-family:'Liberation Sans', sans-serif">[</text>
<text transform="translate(975.35,418.40) scale(1.0871,1)" style="font-size:25.08px;font-weight:bold;font-family:'Liberation Sans', sans-serif">Å</text>
<text transform="translate(994.72,406.10) scale(0.9707,1)" style="font-size:17.43px;font-weight:bold;font-family:'Liberation Sans', sans-serif">2</text>
<text transform="translate(1004.51,418.63) scale(0.9242,1)" style="font-size:26.52px;font-weight:bold;font-family:'Liberation Sans', sans-serif">]</text>
<clipPath id="clipc"><rect x="77.4" y="475.7" width="488.1" height="351.5"/></clipPath>
<g clip-path="url(#clipc)" fill="none" stroke-width="2.6" stroke-linejoin="round" stroke-linecap="round">
<path d="M77.3,536.7 L79.3,536.7 L81.3,536.7 L83.3,536.7 L85.3,536.7 L87.3,536.7 L89.3,536.7 L91.3,536.6 L93.3,536.5 L95.3,536.4 L97.3,536.3 L99.3,536.2 L101.3,536.1 L103.3,535.9 L105.3,535.7 L107.3,535.5 L109.3,535.4 L111.3,535.2 L113.3,535.0 L115.3,534.7 L117.3,534.4 L119.2,534.0 L121.2,533.6 L123.1,533.2 L125.1,532.7 L127.0,532.2 L128.7,531.3 L130.2,530.1 L131.2,528.4 L132.0,526.6 L132.7,524.7 L133.4,522.8 L134.0,520.9 L134.8,519.3 L135.9,518.8 L137.0,519.8 L137.9,521.5 L138.6,523.4 L139.1,525.3 L139.5,527.3 L139.8,529.2 L140.2,531.2 L140.5,533.2 L140.8,535.2 L141.0,537.2 L141.3,539.2 L141.4,541.1 L141.6,543.1 L141.7,545.1 L141.9,547.1 L142.0,549.1 L142.2,551.1 L142.3,553.1 L142.5,555.1 L142.6,557.1 L142.8,559.1 L143.0,561.1 L143.1,563.1 L143.3,565.1 L143.5,567.1 L143.7,569.1 L143.8,571.1 L144.0,573.1 L144.2,575.1 L144.3,577.1 L144.5,579.1 L144.7,581.1 L144.8,583.1 L145.0,585.1 L145.2,587.1 L145.4,589.1 L145.5,591.1 L145.7,593.1 L145.9,595.0 L146.0,597.0 L146.2,599.0 L146.4,601.0 L146.6,603.0 L146.8,605.0 L147.0,607.0 L147.2,609.0 L147.4,611.0 L147.6,613.0 L147.8,615.0 L148.0,617.0 L148.2,619.0 L148.4,621.0 L148.6,623.0 L148.8,625.0 L149.0,626.9 L149.2,628.9 L149.4,630.9 L149.6,632.9 L149.8,634.9 L149.9,636.9 L150.1,638.9 L150.3,640.9 L150.5,642.9 L150.7,644.9 L150.9,646.9 L151.0,648.9 L151.2,650.9 L151.4,652.9 L151.6,654.9 L151.8,656.9 L152.0,658.9 L152.2,660.9 L152.3,662.8 L152.5,664.8 L152.7,666.8 L152.9,668.8 L153.1,670.8 L153.3,672.8 L153.6,674.8 L153.8,676.8 L154.1,678.8 L154.3,680.8 L154.6,682.8 L154.8,684.7 L155.1,686.7 L155.3,688.7 L155.6,690.7 L155.8,692.7 L156.0,694.7 L156.3,696.7 L156.5,698.7 L156.8,700.6 L157.1,702.6 L157.5,704.6 L157.8,706.6 L158.1,708.5 L158.4,710.5 L158.8,712.5 L159.1,714.5 L159.4,716.4 L159.7,718.4 L160.1,720.4 L160.4,722.4 L160.7,724.4 L161.0,726.3 L161.4,728.3 L161.7,730.3 L162.0,732.3 L162.3,734.2 L162.7,736.2 L163.0,738.2 L163.3,740.2 L163.7,742.1 L164.1,744.1 L164.4,746.1 L164.8,748.0 L165.2,750.0 L165.5,752.0 L165.9,754.0 L166.2,755.9 L166.6,757.9 L167.0,759.9 L167.4,761.8 L167.8,763.8 L168.2,765.7 L168.6,767.7 L169.0,769.7 L169.4,771.6 L169.8,773.6 L170.3,775.5 L170.8,777.5 L171.4,779.4 L172.1,781.3 L172.7,783.2 L173.4,785.1 L174.0,787.0 L174.7,788.8 L175.5,790.7 L176.3,792.5 L177.1,794.4 L177.9,796.2 L178.7,798.0 L179.6,799.8 L180.7,801.4 L181.9,803.0 L183.1,804.6 L184.4,806.2 L185.6,807.8 L187.0,809.2 L188.6,810.3 L190.3,811.4 L192.0,812.4 L193.7,813.5 L195.4,814.5 L197.2,815.4 L199.1,816.1 L201.0,816.6 L202.9,817.1 L204.9,817.5 L206.8,818.0 L208.8,818.4 L210.8,818.8 L212.8,819.0 L214.7,819.2 L216.7,819.5 L218.7,819.7 L220.7,819.9 L222.7,820.2 L224.7,820.4 L226.7,820.6 L228.7,820.8 L230.7,821.1 L232.7,821.3 L234.6,821.6 L236.6,821.8 L238.6,822.1 L240.6,822.3 L242.6,822.6 L244.6,822.8 L246.6,823.1 L248.6,823.3 L250.5,823.5 L252.5,823.6 L254.5,823.6 L256.6,823.7 L258.6,823.8 L260.6,823.8 L262.6,823.9 L264.6,823.9 L266.6,824.0 L268.6,824.1 L270.6,824.1 L272.6,824.2 L274.6,824.2 L276.6,824.3 L278.6,824.4 L280.6,824.4 L282.6,824.5 L284.6,824.5 L286.6,824.6 L288.6,824.7 L290.6,824.7 L292.6,824.8 L294.6,824.8 L296.6,824.9 L298.6,825.0 L300.6,825.0 L302.6,825.0 L304.6,825.0 L306.6,825.1 L308.6,825.1 L310.6,825.1 L312.6,825.1 L314.6,825.1 L316.6,825.2 L318.6,825.2 L320.6,825.2 L322.6,825.2 L324.6,825.2 L326.6,825.3 L328.6,825.3 L330.6,825.3 L332.6,825.3 L334.6,825.3 L336.7,825.4 L338.7,825.4 L340.7,825.4 L342.7,825.4 L344.7,825.4 L346.7,825.5 L348.7,825.5 L350.7,825.5 L352.7,825.5 L354.7,825.5 L356.7,825.6 L358.7,825.6 L360.7,825.6 L362.7,825.6 L364.7,825.6 L366.7,825.7 L368.7,825.7 L370.7,825.7 L372.7,825.7 L374.7,825.7 L376.7,825.8 L378.7,825.8 L380.7,825.8 L382.7,825.8 L384.7,825.8 L386.7,825.9 L388.7,825.9 L390.7,825.9 L392.7,825.9 L394.7,825.9 L396.7,826.0 L398.7,826.0 L400.7,826.0 L402.8,826.0 L404.8,826.0 L406.8,826.0 L408.8,826.0 L410.8,826.0 L412.8,826.0 L414.8,826.0 L416.8,826.1 L418.8,826.1 L420.8,826.1 L422.8,826.1 L424.8,826.1 L426.8,826.1 L428.8,826.1 L430.8,826.1 L432.8,826.1 L434.8,826.1 L436.8,826.1 L438.8,826.1 L440.8,826.1 L442.8,826.1 L444.8,826.1 L446.8,826.1 L448.8,826.1 L450.8,826.2 L452.8,826.2 L454.8,826.2 L456.8,826.2 L458.8,826.2 L460.8,826.2 L462.8,826.2 L464.8,826.2 L466.8,826.2 L468.9,826.2 L470.9,826.2 L472.9,826.2 L474.9,826.2 L476.9,826.2 L478.9,826.2 L480.9,826.2 L482.9,826.3 L484.9,826.3 L486.9,826.3 L488.9,826.3 L490.9,826.3 L492.9,826.3 L494.9,826.3 L496.9,826.3 L498.9,826.3 L500.9,826.3 L502.9,826.3 L504.9,826.3 L506.9,826.3 L508.9,826.3 L510.9,826.3 L512.9,826.3 L514.9,826.3 L516.9,826.4 L518.9,826.4 L520.9,826.4 L522.9,826.4 L524.9,826.4 L526.9,826.4 L528.9,826.4 L530.9,826.4 L533.0,826.4 L535.0,826.4 L537.0,826.4 L539.0,826.4 L541.0,826.4 L543.0,826.4 L545.0,826.4 L547.0,826.4 L549.0,826.5 L551.0,826.5 L553.0,826.5 L555.0,826.5 L557.0,826.5 L559.0,826.5 L561.0,826.5 L563.0,826.5 L565.0,826.5" stroke="#ff0000" stroke-width="2.6"/>
<path d="M77.3,529.5 L79.3,529.3 L81.3,529.2 L83.3,529.0 L85.3,528.9 L87.3,528.7 L89.3,528.5 L91.3,528.4 L93.3,528.2 L95.3,528.0 L97.3,527.8 L99.3,527.6 L101.2,527.3 L103.2,527.0 L105.2,526.7 L107.2,526.3 L109.2,526.0 L111.1,525.6 L113.1,525.3 L115.0,524.8 L117.0,524.3 L118.8,523.6 L120.7,522.8 L122.4,521.8 L123.8,520.5 L125.0,518.9 L126.1,517.3 L126.9,515.5 L127.4,513.6 L127.8,511.6 L128.2,509.7 L128.9,508.1 L130.2,507.8 L131.4,508.9 L132.2,510.6 L132.8,512.5 L133.0,514.4 L133.3,516.4 L133.5,518.4 L133.7,520.4 L133.9,522.4 L134.1,524.4 L134.3,526.4 L134.5,528.4 L134.7,530.4 L134.9,532.4 L135.1,534.4 L135.3,536.4 L135.6,538.4 L135.8,540.3 L136.1,542.3 L136.4,544.3 L136.7,546.3 L137.0,548.3 L137.3,550.2 L137.6,552.2 L137.9,554.2 L138.2,556.2 L138.4,558.2 L138.7,560.2 L138.9,562.2 L139.0,564.2 L139.2,566.2 L139.4,568.2 L139.5,570.2 L139.7,572.2 L139.9,574.1 L140.0,576.1 L140.2,578.1 L140.4,580.1 L140.5,582.1 L140.7,584.1 L140.9,586.1 L141.0,588.1 L141.2,590.1 L141.4,592.1 L141.5,594.1 L141.7,596.1 L141.8,598.1 L142.0,600.1 L142.2,602.1 L142.4,604.1 L142.6,606.1 L142.8,608.1 L143.0,610.1 L143.2,612.1 L143.4,614.1 L143.6,616.1 L143.8,618.1 L144.0,620.1 L144.2,622.0 L144.4,624.0 L144.6,626.0 L144.8,628.0 L145.0,630.0 L145.2,632.0 L145.3,634.0 L145.5,636.0 L145.7,638.0 L145.8,640.0 L146.0,642.0 L146.2,644.0 L146.3,646.0 L146.5,648.0 L146.6,650.0 L146.8,652.0 L147.0,654.0 L147.1,656.0 L147.3,658.0 L147.5,660.0 L147.6,662.0 L147.8,664.0 L148.0,666.0 L148.1,668.0 L148.3,670.0 L148.5,672.0 L148.8,673.9 L149.0,675.9 L149.2,677.9 L149.5,679.9 L149.7,681.9 L149.9,683.9 L150.2,685.9 L150.4,687.9 L150.6,689.9 L150.9,691.9 L151.1,693.8 L151.3,695.8 L151.6,697.8 L151.8,699.8 L152.0,701.8 L152.3,703.8 L152.5,705.8 L152.7,707.8 L152.9,709.8 L153.1,711.8 L153.3,713.8 L153.6,715.8 L153.8,717.7 L154.0,719.7 L154.2,721.7 L154.4,723.7 L154.6,725.7 L154.8,727.7 L155.0,729.7 L155.3,731.7 L155.5,733.7 L155.7,735.7 L155.9,737.7 L156.1,739.7 L156.4,741.7 L156.6,743.6 L156.8,745.6 L157.0,747.6 L157.3,749.6 L157.5,751.6 L157.7,753.6 L157.9,755.6 L158.1,757.6 L158.3,759.6 L158.5,761.6 L158.7,763.6 L158.9,765.6 L159.1,767.6 L159.3,769.6 L159.5,771.5 L159.7,773.5 L159.9,775.5 L160.2,777.5 L160.4,779.5 L160.6,781.5 L160.8,783.5 L161.1,785.5 L161.3,787.5 L161.6,789.5 L161.9,791.4 L162.2,793.4 L162.5,795.4 L162.9,797.4 L163.3,799.3 L163.8,801.3 L164.2,803.2 L164.7,805.2 L165.3,807.1 L166.0,808.9 L166.8,810.8 L167.6,812.6 L168.6,814.3 L169.9,815.8 L171.3,817.2 L172.8,818.6 L174.2,819.9 L175.9,821.0 L177.7,821.8 L179.6,822.4 L181.5,823.1 L183.4,823.6 L185.4,824.0 L187.4,824.2 L189.4,824.5 L191.3,824.7 L193.3,825.0 L195.3,825.2 L197.3,825.5 L199.3,825.7 L201.3,825.8 L203.3,825.9 L205.3,825.9 L207.3,826.0 L209.3,826.1 L211.3,826.1 L213.3,826.2 L215.3,826.2 L217.3,826.3 L219.3,826.3 L221.3,826.3 L223.3,826.3 L225.3,826.4 L227.3,826.4 L229.3,826.4 L231.4,826.4 L233.4,826.5 L235.4,826.5 L237.4,826.5 L239.4,826.6 L241.4,826.6 L243.4,826.6 L245.4,826.6 L247.4,826.7 L249.4,826.7 L251.4,826.7 L253.4,826.7 L255.4,826.7 L257.4,826.7 L259.4,826.7 L261.4,826.7 L263.4,826.7 L265.4,826.7 L267.4,826.7 L269.4,826.7 L271.4,826.7 L273.4,826.7 L275.4,826.7 L277.4,826.7 L279.4,826.7 L281.4,826.7 L283.5,826.7 L285.5,826.7 L287.5,826.7 L289.5,826.7 L291.5,826.7 L293.5,826.7 L295.5,826.7 L297.5,826.7 L299.5,826.7 L301.5,826.7 L303.5,826.8 L305.5,826.8 L307.5,826.8 L309.5,826.8 L311.5,826.8 L313.5,826.8 L315.5,826.8 L317.5,826.8 L319.5,826.8 L321.5,826.8 L323.5,826.8 L325.5,826.8 L327.5,826.8 L329.5,826.8 L331.5,826.8 L333.5,826.8 L335.6,826.8 L337.6,826.8 L339.6,826.8 L341.6,826.8 L343.6,826.8 L345.6,826.8 L347.6,826.8 L349.6,826.8 L351.6,826.8 L353.6,826.8 L355.6,826.8 L357.6,826.8 L359.6,826.8 L361.6,826.8 L363.6,826.8 L365.6,826.8 L367.6,826.8 L369.6,826.8 L371.6,826.8 L373.6,826.8 L375.6,826.8 L377.6,826.8 L379.6,826.8 L381.6,826.8 L383.6,826.8 L385.6,826.8 L387.7,826.8 L389.7,826.8 L391.7,826.8 L393.7,826.8 L395.7,826.8 L397.7,826.8 L399.7,826.8 L401.7,826.8 L403.7,826.8 L405.7,826.8 L407.7,826.9 L409.7,826.9 L411.7,826.9 L413.7,826.9 L415.7,826.9 L417.7,826.9 L419.7,826.9 L421.7,826.9 L423.7,826.9 L425.7,826.9 L427.7,826.9 L429.7,826.9 L431.7,826.9 L433.7,826.9 L435.7,826.9 L437.8,826.9 L439.8,826.9 L441.8,826.9 L443.8,826.9 L445.8,826.9 L447.8,826.9 L449.8,826.9 L451.8,826.9 L453.8,826.9 L455.8,826.9 L457.8,826.9 L459.8,826.9 L461.8,826.9 L463.8,826.9 L465.8,826.9 L467.8,826.9 L469.8,826.9 L471.8,826.9 L473.8,826.9 L475.8,826.9 L477.8,826.9 L479.8,826.9 L481.8,826.9 L483.8,826.9 L485.8,826.9 L487.8,826.9 L489.9,826.9 L491.9,826.9 L493.9,826.9 L495.9,826.9 L497.9,826.9 L499.9,826.9 L501.9,826.9 L503.9,826.9 L505.9,826.9 L507.9,826.9 L509.9,826.9 L511.9,826.9 L513.9,827.0 L515.9,827.0 L517.9,827.0 L519.9,827.0 L521.9,827.0 L523.9,827.0 L525.9,827.0 L527.9,827.0 L529.9,827.0 L531.9,827.0 L533.9,827.0 L535.9,827.0 L537.9,827.0 L540.0,827.0 L542.0,827.0 L544.0,827.0 L546.0,827.0 L548.0,827.0 L550.0,827.0 L552.0,827.0 L554.0,827.0 L556.0,827.0 L558.0,827.0 L560.0,827.0 L562.0,827.0 L564.0,827.0 L565.0,827.0" stroke="#000000" stroke-width="2.6"/>
<path d="M77.3,528.3 L79.3,528.1 L81.3,528.0 L83.3,527.8 L85.3,527.6 L87.3,527.5 L89.3,527.4 L91.3,527.3 L93.3,527.2 L95.3,527.2 L97.3,527.1 L99.3,527.1 L101.3,527.0 L103.3,527.0 L105.3,527.0 L107.3,527.0 L109.3,527.0 L111.3,527.0 L113.3,527.0 L115.3,527.0 L117.3,526.9 L119.3,526.8 L121.3,526.7 L123.3,526.6 L125.3,526.4 L127.3,526.1 L129.1,525.6 L130.7,524.7 L131.8,523.4 L132.5,521.7 L133.0,519.8 L133.5,517.8 L134.0,516.0 L134.5,514.5 L135.2,513.8 L135.9,514.4 L136.6,515.8 L137.2,517.6 L137.7,519.5 L138.2,521.4 L138.6,523.4 L139.0,525.4 L139.3,527.3 L139.6,529.3 L139.9,531.3 L140.2,533.3 L140.5,535.3 L140.8,537.3 L141.1,539.2 L141.4,541.2 L141.7,543.2 L142.0,545.2 L142.3,547.2 L142.6,549.1 L142.8,551.1 L143.1,553.1 L143.4,555.1 L143.6,557.1 L143.9,559.1 L144.2,561.0 L144.6,563.0 L145.0,565.0 L145.4,567.0 L145.8,568.9 L146.1,570.9 L146.4,572.9 L146.7,574.9 L147.0,576.8 L147.3,578.8 L147.5,580.8 L147.8,582.8 L148.1,584.8 L148.4,586.8 L148.7,588.7 L149.0,590.7 L149.3,592.7 L149.5,594.7 L149.8,596.7 L150.1,598.7 L150.5,600.6 L150.9,602.6 L151.3,604.6 L151.8,606.5 L152.2,608.5 L152.6,610.4 L153.1,612.4 L153.5,614.3 L153.9,616.3 L154.4,618.3 L154.8,620.2 L155.2,622.2 L155.7,624.1 L156.1,626.1 L156.6,628.0 L157.0,630.0 L157.4,632.0 L157.8,633.9 L158.2,635.9 L158.6,637.8 L159.0,639.8 L159.4,641.8 L159.8,643.7 L160.3,645.7 L160.7,647.6 L161.1,649.6 L161.6,651.6 L162.0,653.5 L162.5,655.5 L162.9,657.4 L163.3,659.4 L163.8,661.3 L164.2,663.3 L164.6,665.2 L165.1,667.2 L165.5,669.2 L166.0,671.1 L166.4,673.1 L166.8,675.0 L167.3,677.0 L167.7,678.9 L168.2,680.9 L168.6,682.8 L169.1,684.8 L169.5,686.8 L169.9,688.7 L170.4,690.7 L170.8,692.6 L171.3,694.6 L171.7,696.5 L172.2,698.5 L172.6,700.4 L173.1,702.4 L173.7,704.3 L174.2,706.2 L174.7,708.2 L175.2,710.1 L175.7,712.1 L176.2,714.0 L176.8,715.9 L177.3,717.8 L177.9,719.8 L178.5,721.7 L179.0,723.6 L179.6,725.5 L180.2,727.5 L180.7,729.4 L181.3,731.3 L181.9,733.2 L182.5,735.1 L183.1,737.0 L183.7,738.9 L184.4,740.8 L185.0,742.8 L185.6,744.7 L186.2,746.6 L186.8,748.5 L187.5,750.4 L188.2,752.2 L188.9,754.1 L189.5,756.0 L190.2,757.9 L190.9,759.8 L191.6,761.7 L192.3,763.5 L193.0,765.4 L193.8,767.2 L194.7,769.1 L195.6,770.9 L196.4,772.7 L197.3,774.5 L198.2,776.3 L199.1,778.0 L200.0,779.8 L201.0,781.6 L202.1,783.2 L203.2,784.9 L204.3,786.6 L205.4,788.3 L206.6,789.9 L207.7,791.5 L209.0,793.1 L210.3,794.6 L211.6,796.2 L212.9,797.7 L214.2,799.2 L215.5,800.7 L216.9,802.1 L218.4,803.4 L220.0,804.5 L221.7,805.7 L223.4,806.8 L225.1,807.9 L226.8,808.9 L228.5,809.8 L230.3,810.6 L232.2,811.3 L234.1,812.0 L236.0,812.7 L237.9,813.3 L239.8,814.0 L241.7,814.6 L243.6,815.1 L245.6,815.6 L247.5,816.0 L249.5,816.4 L251.5,816.7 L253.5,817.0 L255.4,817.3 L257.4,817.6 L259.4,817.8 L261.4,818.1 L263.4,818.2 L265.4,818.3 L267.4,818.5 L269.4,818.6 L271.4,818.7 L273.4,818.9 L275.4,819.0 L277.4,819.1 L279.4,819.2 L281.4,819.3 L283.4,819.4 L285.4,819.5 L287.4,819.5 L289.4,819.6 L291.4,819.6 L293.4,819.7 L295.4,819.8 L297.4,819.8 L299.4,819.9 L301.4,819.9 L303.4,820.0 L305.4,820.1 L307.4,820.1 L309.4,820.2 L311.4,820.2 L313.5,820.3 L315.5,820.4 L317.5,820.4 L319.5,820.5 L321.5,820.5 L323.5,820.5 L325.5,820.6 L327.5,820.6 L329.5,820.6 L331.5,820.6 L333.5,820.6 L335.5,820.7 L337.5,820.7 L339.5,820.7 L341.5,820.7 L343.5,820.7 L345.5,820.8 L347.5,820.8 L349.5,820.8 L351.5,820.8 L353.5,820.8 L355.5,820.9 L357.5,820.9 L359.5,820.9 L361.6,820.9 L363.6,820.9 L365.6,821.0 L367.6,821.0 L369.6,821.0 L371.6,821.0 L373.6,821.0 L375.6,821.1 L377.6,821.1 L379.6,821.1 L381.6,821.1 L383.6,821.1 L385.6,821.2 L387.6,821.2 L389.6,821.2 L391.6,821.2 L393.6,821.2 L395.6,821.3 L397.6,821.3 L399.6,821.3 L401.6,821.3 L403.6,821.3 L405.6,821.3 L407.7,821.3 L409.7,821.3 L411.7,821.3 L413.7,821.4 L415.7,821.4 L417.7,821.4 L419.7,821.4 L421.7,821.4 L423.7,821.4 L425.7,821.4 L427.7,821.4 L429.7,821.4 L431.7,821.4 L433.7,821.4 L435.7,821.5 L437.7,821.5 L439.7,821.5 L441.7,821.5 L443.7,821.5 L445.7,821.5 L447.7,821.5 L449.7,821.5 L451.8,821.5 L453.8,821.5 L455.8,821.5 L457.8,821.5 L459.8,821.6 L461.8,821.6 L463.8,821.6 L465.8,821.6 L467.8,821.6 L469.8,821.6 L471.8,821.6 L473.8,821.6 L475.8,821.6 L477.8,821.6 L479.8,821.6 L481.8,821.6 L483.8,821.7 L485.8,821.7 L487.8,821.7 L489.8,821.7 L491.8,821.7 L493.8,821.7 L495.8,821.7 L497.9,821.7 L499.9,821.7 L501.9,821.7 L503.9,821.7 L505.9,821.7 L507.9,821.8 L509.9,821.8 L511.9,821.8 L513.9,821.8 L515.9,821.8 L517.9,821.8 L519.9,821.8 L521.9,821.8 L523.9,821.8 L525.9,821.8 L527.9,821.8 L529.9,821.9 L531.9,821.9 L533.9,821.9 L535.9,821.9 L537.9,821.9 L539.9,821.9 L541.9,821.9 L544.0,821.9 L546.0,821.9 L548.0,821.9 L550.0,821.9 L552.0,821.9 L554.0,822.0 L556.0,822.0 L558.0,822.0 L560.0,822.0 L562.0,822.0 L564.0,822.0 L565.0,822.0" stroke="#00ff00" stroke-width="2.6"/>
<path d="M77.3,531.3 L79.3,531.2 L81.3,531.2 L83.3,531.1 L85.3,531.1 L87.3,531.0 L89.3,531.0 L91.3,530.8 L93.3,530.7 L95.3,530.6 L97.3,530.4 L99.3,530.3 L101.3,530.1 L103.3,529.9 L105.3,529.7 L107.3,529.6 L109.3,529.4 L111.3,529.2 L113.3,529.0 L115.2,528.6 L117.1,528.0 L118.8,527.0 L120.5,526.0 L122.1,524.8 L123.4,523.3 L124.4,521.6 L125.1,519.8 L125.6,517.9 L125.9,515.9 L126.3,513.9 L126.6,512.0 L126.9,510.0 L127.4,508.1 L128.3,507.0 L129.3,507.4 L130.0,509.0 L130.4,511.0 L130.6,513.0 L130.9,515.0 L131.1,517.0 L131.4,518.9 L131.6,520.9 L131.7,522.9 L131.9,524.9 L132.0,526.9 L132.2,528.9 L132.3,530.9 L132.5,532.9 L132.6,534.9 L132.8,536.9 L132.9,538.9 L133.1,540.9 L133.3,542.9 L133.5,544.9 L133.6,546.9 L133.8,548.9 L134.0,550.9 L134.2,552.9 L134.4,554.9 L134.6,556.9 L134.9,558.9 L135.2,560.8 L135.5,562.8 L135.8,564.8 L136.0,566.8 L136.3,568.8 L136.6,570.8 L136.9,572.8 L137.2,574.7 L137.5,576.7 L137.8,578.7 L138.1,580.7 L138.4,582.7 L138.7,584.6 L139.0,586.6 L139.3,588.6 L139.6,590.6 L139.9,592.6 L140.2,594.6 L140.5,596.5 L140.8,598.5 L141.0,600.5 L141.2,602.5 L141.4,604.5 L141.5,606.5 L141.7,608.5 L141.9,610.5 L142.0,612.5 L142.2,614.5 L142.4,616.5 L142.5,618.5 L142.7,620.5 L142.9,622.5 L143.0,624.5 L143.2,626.5 L143.3,628.5 L143.5,630.5 L143.7,632.5 L143.8,634.5 L144.0,636.5 L144.2,638.5 L144.3,640.4 L144.5,642.4 L144.7,644.4 L144.9,646.4 L145.1,648.4 L145.2,650.4 L145.4,652.4 L145.6,654.4 L145.8,656.4 L146.0,658.4 L146.1,660.4 L146.3,662.4 L146.5,664.4 L146.7,666.4 L146.9,668.4 L147.0,670.4 L147.3,672.4 L147.5,674.4 L147.7,676.4 L147.9,678.4 L148.1,680.3 L148.3,682.3 L148.5,684.3 L148.8,686.3 L149.0,688.3 L149.2,690.3 L149.4,692.3 L149.6,694.3 L149.8,696.3 L150.0,698.3 L150.3,700.3 L150.5,702.3 L150.7,704.3 L150.9,706.3 L151.1,708.2 L151.4,710.2 L151.8,712.2 L152.3,714.1 L152.8,716.1 L153.3,718.0 L153.7,720.0 L154.0,722.0 L154.2,723.9 L154.5,725.9 L154.7,727.9 L155.0,729.9 L155.2,731.9 L155.5,733.9 L155.7,735.9 L156.0,737.9 L156.2,739.9 L156.5,741.8 L156.8,743.8 L157.0,745.8 L157.3,747.8 L157.6,749.8 L157.9,751.8 L158.1,753.7 L158.4,755.7 L158.7,757.7 L159.0,759.7 L159.3,761.7 L159.6,763.7 L159.9,765.6 L160.2,767.6 L160.6,769.6 L160.9,771.6 L161.2,773.6 L161.5,775.5 L161.8,777.5 L162.2,779.5 L162.5,781.5 L162.9,783.4 L163.2,785.4 L163.6,787.4 L163.9,789.4 L164.3,791.3 L164.7,793.3 L165.3,795.2 L165.9,797.1 L166.6,799.0 L167.2,800.9 L167.9,802.8 L168.5,804.7 L169.4,806.4 L170.6,807.9 L172.1,809.3 L173.6,810.6 L175.1,811.9 L176.7,813.1 L178.4,814.1 L180.2,814.9 L182.1,815.8 L183.9,816.6 L185.7,817.5 L187.6,818.1 L189.5,818.6 L191.5,818.9 L193.5,819.2 L195.4,819.5 L197.4,819.8 L199.4,820.1 L201.4,820.4 L203.4,820.7 L205.4,820.9 L207.4,821.1 L209.4,821.2 L211.4,821.4 L213.4,821.5 L215.4,821.7 L217.4,821.9 L219.3,822.0 L221.3,822.2 L223.3,822.4 L225.3,822.5 L227.3,822.6 L229.3,822.7 L231.3,822.8 L233.3,822.9 L235.3,823.0 L237.4,823.1 L239.4,823.2 L241.4,823.3 L243.4,823.4 L245.4,823.5 L247.4,823.6 L249.4,823.7 L251.4,823.8 L253.4,823.8 L255.4,823.8 L257.4,823.8 L259.4,823.8 L261.4,823.8 L263.4,823.8 L265.4,823.8 L267.4,823.9 L269.4,823.9 L271.4,823.9 L273.4,823.9 L275.4,823.9 L277.4,823.9 L279.4,823.9 L281.4,823.9 L283.4,824.0 L285.4,824.0 L287.4,824.0 L289.4,824.0 L291.4,824.0 L293.4,824.0 L295.5,824.0 L297.5,824.1 L299.5,824.1 L301.5,824.1 L303.5,824.1 L305.5,824.1 L307.5,824.1 L309.5,824.1 L311.5,824.1 L313.5,824.2 L315.5,824.2 L317.5,824.2 L319.5,824.2 L321.5,824.2 L323.5,824.2 L325.5,824.2 L327.5,824.2 L329.5,824.3 L331.5,824.3 L333.5,824.3 L335.5,824.3 L337.5,824.3 L339.5,824.3 L341.5,824.3 L343.5,824.3 L345.6,824.4 L347.6,824.4 L349.6,824.4 L351.6,824.4 L353.6,824.4 L355.6,824.4 L357.6,824.4 L359.6,824.4 L361.6,824.5 L363.6,824.5 L365.6,824.5 L367.6,824.5 L369.6,824.5 L371.6,824.5 L373.6,824.5 L375.6,824.5 L377.6,824.6 L379.6,824.6 L381.6,824.6 L383.6,824.6 L385.6,824.6 L387.6,824.6 L389.6,824.6 L391.6,824.6 L393.7,824.7 L395.7,824.7 L397.7,824.7 L399.7,824.7 L401.7,824.7 L403.7,824.7 L405.7,824.7 L407.7,824.7 L409.7,824.7 L411.7,824.7 L413.7,824.7 L415.7,824.8 L417.7,824.8 L419.7,824.8 L421.7,824.8 L423.7,824.8 L425.7,824.8 L427.7,824.8 L429.7,824.8 L431.7,824.8 L433.7,824.8 L435.7,824.8 L437.7,824.8 L439.7,824.8 L441.7,824.9 L443.8,824.9 L445.8,824.9 L447.8,824.9 L449.8,824.9 L451.8,824.9 L453.8,824.9 L455.8,824.9 L457.8,824.9 L459.8,824.9 L461.8,824.9 L463.8,824.9 L465.8,824.9 L467.8,824.9 L469.8,825.0 L471.8,825.0 L473.8,825.0 L475.8,825.0 L477.8,825.0 L479.8,825.0 L481.8,825.0 L483.8,825.0 L485.8,825.0 L487.8,825.0 L489.8,825.0 L491.9,825.0 L493.9,825.0 L495.9,825.0 L497.9,825.1 L499.9,825.1 L501.9,825.1 L503.9,825.1 L505.9,825.1 L507.9,825.1 L509.9,825.1 L511.9,825.1 L513.9,825.1 L515.9,825.1 L517.9,825.1 L519.9,825.1 L521.9,825.1 L523.9,825.2 L525.9,825.2 L527.9,825.2 L529.9,825.2 L531.9,825.2 L533.9,825.2 L535.9,825.2 L537.9,825.2 L539.9,825.2 L542.0,825.2 L544.0,825.2 L546.0,825.2 L548.0,825.2 L550.0,825.2 L552.0,825.3 L554.0,825.3 L556.0,825.3 L558.0,825.3 L560.0,825.3 L562.0,825.3 L564.0,825.3 L565.0,825.3" stroke="#ff00ff" stroke-width="2.6"/>
<path d="M77.3,530.0 L79.3,529.9 L81.3,529.9 L83.3,529.8 L85.3,529.8 L87.3,529.7 L89.3,529.7 L91.3,529.5 L93.3,529.4 L95.3,529.3 L97.3,529.1 L99.3,529.0 L101.3,528.8 L103.3,528.7 L105.3,528.6 L107.3,528.5 L109.3,528.4 L111.3,528.3 L113.3,528.1 L115.3,527.8 L117.2,527.4 L119.1,526.8 L120.8,525.8 L122.4,524.6 L123.8,523.2 L124.9,521.5 L125.8,519.8 L126.5,517.9 L127.0,516.0 L127.3,514.0 L127.5,512.0 L127.9,510.1 L128.4,508.2 L129.1,507.1 L129.8,507.8 L130.4,509.5 L130.8,511.4 L131.0,513.4 L131.2,515.4 L131.4,517.4 L131.6,519.4 L131.8,521.4 L132.0,523.4 L132.1,525.4 L132.3,527.4 L132.4,529.4 L132.5,531.4 L132.7,533.4 L132.8,535.4 L132.9,537.4 L133.0,539.4 L133.2,541.4 L133.3,543.4 L133.5,545.4 L133.7,547.4 L133.9,549.4 L134.1,551.3 L134.3,553.3 L134.6,555.3 L134.8,557.3 L135.1,559.3 L135.4,561.3 L135.6,563.3 L135.9,565.3 L136.2,567.2 L136.4,569.2 L136.6,571.2 L136.8,573.2 L137.0,575.2 L137.2,577.2 L137.4,579.2 L137.5,581.2 L137.7,583.2 L137.9,585.2 L138.1,587.2 L138.3,589.2 L138.5,591.2 L138.7,593.2 L138.8,595.2 L139.0,597.2 L139.2,599.2 L139.4,601.2 L139.6,603.2 L139.7,605.2 L139.9,607.2 L140.1,609.2 L140.2,611.2 L140.4,613.1 L140.6,615.1 L140.7,617.1 L140.9,619.1 L141.1,621.1 L141.2,623.1 L141.4,625.1 L141.5,627.1 L141.7,629.1 L141.9,631.1 L142.0,633.1 L142.2,635.1 L142.4,637.1 L142.6,639.1 L142.8,641.1 L143.0,643.1 L143.2,645.1 L143.4,647.1 L143.6,649.1 L143.8,651.1 L144.0,653.1 L144.2,655.1 L144.4,657.1 L144.6,659.0 L144.8,661.0 L145.0,663.0 L145.2,665.0 L145.4,667.0 L145.6,669.0 L145.8,671.0 L146.0,673.0 L146.2,675.0 L146.4,677.0 L146.6,679.0 L146.8,681.0 L147.0,683.0 L147.2,685.0 L147.4,687.0 L147.6,689.0 L147.8,691.0 L148.0,692.9 L148.2,694.9 L148.4,696.9 L148.6,698.9 L148.8,700.9 L149.0,702.9 L149.2,704.9 L149.5,706.9 L149.7,708.9 L150.0,710.9 L150.3,712.9 L150.5,714.8 L150.8,716.8 L151.1,718.8 L151.3,720.8 L151.6,722.8 L151.8,724.8 L152.1,726.8 L152.3,728.8 L152.6,730.7 L152.8,732.7 L153.1,734.7 L153.3,736.7 L153.6,738.7 L153.9,740.7 L154.1,742.7 L154.4,744.6 L154.7,746.6 L155.0,748.6 L155.3,750.6 L155.6,752.6 L155.9,754.6 L156.2,756.5 L156.5,758.5 L156.8,760.5 L157.1,762.5 L157.4,764.5 L157.7,766.4 L158.0,768.4 L158.4,770.4 L158.7,772.4 L159.0,774.4 L159.3,776.3 L159.6,778.3 L159.9,780.3 L160.1,782.3 L160.4,784.3 L160.7,786.3 L161.0,788.2 L161.3,790.2 L161.6,792.2 L162.0,794.2 L162.4,796.1 L163.0,798.1 L163.5,800.0 L164.0,801.9 L164.5,803.9 L165.2,805.7 L166.2,807.4 L167.5,809.0 L168.7,810.6 L169.9,812.1 L171.4,813.4 L173.1,814.4 L174.9,815.3 L176.7,816.2 L178.5,817.0 L180.4,817.6 L182.4,817.9 L184.3,818.2 L186.3,818.5 L188.3,818.7 L190.3,819.0 L192.3,819.2 L194.3,819.3 L196.3,819.4 L198.3,819.5 L200.3,819.6 L202.3,819.7 L204.3,819.8 L206.3,819.9 L208.3,820.0 L210.3,820.1 L212.3,820.1 L214.3,820.2 L216.3,820.3 L218.3,820.3 L220.3,820.4 L222.3,820.4 L224.3,820.5 L226.3,820.6 L228.3,820.6 L230.3,820.7 L232.3,820.8 L234.3,820.8 L236.3,820.9 L238.3,820.9 L240.3,821.0 L242.4,821.0 L244.4,821.1 L246.4,821.2 L248.4,821.2 L250.4,821.2 L252.4,821.3 L254.4,821.3 L256.4,821.3 L258.4,821.3 L260.4,821.3 L262.4,821.3 L264.4,821.3 L266.4,821.3 L268.4,821.3 L270.4,821.4 L272.4,821.4 L274.4,821.4 L276.4,821.4 L278.4,821.4 L280.4,821.4 L282.4,821.4 L284.4,821.4 L286.4,821.4 L288.4,821.4 L290.4,821.5 L292.4,821.5 L294.5,821.5 L296.5,821.5 L298.5,821.5 L300.5,821.5 L302.5,821.5 L304.5,821.5 L306.5,821.5 L308.5,821.5 L310.5,821.6 L312.5,821.6 L314.5,821.6 L316.5,821.6 L318.5,821.6 L320.5,821.6 L322.5,821.6 L324.5,821.6 L326.5,821.6 L328.5,821.6 L330.5,821.7 L332.5,821.7 L334.5,821.7 L336.5,821.7 L338.5,821.7 L340.5,821.7 L342.6,821.7 L344.6,821.7 L346.6,821.7 L348.6,821.7 L350.6,821.8 L352.6,821.8 L354.6,821.8 L356.6,821.8 L358.6,821.8 L360.6,821.8 L362.6,821.8 L364.6,821.8 L366.6,821.8 L368.6,821.8 L370.6,821.9 L372.6,821.9 L374.6,821.9 L376.6,821.9 L378.6,821.9 L380.6,821.9 L382.6,821.9 L384.6,821.9 L386.6,821.9 L388.6,821.9 L390.6,822.0 L392.7,822.0 L394.7,822.0 L396.7,822.0 L398.7,822.0 L400.7,822.0 L402.7,822.0 L404.7,822.0 L406.7,822.0 L408.7,822.1 L410.7,822.1 L412.7,822.1 L414.7,822.1 L416.7,822.1 L418.7,822.1 L420.7,822.1 L422.7,822.1 L424.7,822.1 L426.7,822.2 L428.7,822.2 L430.7,822.2 L432.7,822.2 L434.7,822.2 L436.7,822.2 L438.7,822.2 L440.7,822.2 L442.8,822.3 L444.8,822.3 L446.8,822.3 L448.8,822.3 L450.8,822.3 L452.8,822.3 L454.8,822.3 L456.8,822.3 L458.8,822.4 L460.8,822.4 L462.8,822.4 L464.8,822.4 L466.8,822.4 L468.8,822.4 L470.8,822.4 L472.8,822.4 L474.8,822.5 L476.8,822.5 L478.8,822.5 L480.8,822.5 L482.8,822.5 L484.8,822.5 L486.8,822.5 L488.8,822.5 L490.9,822.6 L492.9,822.6 L494.9,822.6 L496.9,822.6 L498.9,822.6 L500.9,822.6 L502.9,822.6 L504.9,822.6 L506.9,822.6 L508.9,822.7 L510.9,822.7 L512.9,822.7 L514.9,822.7 L516.9,822.7 L518.9,822.7 L520.9,822.7 L522.9,822.7 L524.9,822.8 L526.9,822.8 L528.9,822.8 L530.9,822.8 L532.9,822.8 L534.9,822.8 L536.9,822.8 L538.9,822.8 L541.0,822.9 L543.0,822.9 L545.0,822.9 L547.0,822.9 L549.0,822.9 L551.0,822.9 L553.0,822.9 L555.0,822.9 L557.0,823.0 L559.0,823.0 L561.0,823.0 L563.0,823.0 L565.0,823.0" stroke="#00ffff" stroke-width="2.6"/>
<path d="M77.3,529.3 L79.2,528.6 L81.1,527.9 L83.0,527.2 L84.9,526.4 L86.8,525.7 L88.7,525.0 L90.6,524.3 L92.6,523.7 L94.5,523.2 L96.5,522.8 L98.5,522.8 L100.4,523.1 L102.3,523.9 L104.2,524.7 L106.1,525.4 L108.0,526.0 L109.9,526.8 L111.7,527.6 L113.4,528.7 L115.0,529.9 L116.4,531.3 L117.9,532.5 L119.6,533.0 L121.4,533.2 L123.0,534.2 L124.6,535.1 L125.9,534.8 L127.1,533.4 L128.4,531.9 L129.9,530.9 L131.4,531.0 L132.8,532.3 L133.9,534.0 L134.9,535.8 L135.7,537.6 L136.5,539.5 L137.1,541.4 L137.8,543.3 L138.4,545.2 L139.0,547.2 L139.6,549.1 L140.1,551.1 L140.6,553.1 L141.0,555.1 L141.4,557.0 L141.8,559.0 L142.2,561.0 L142.6,563.0 L143.0,565.0 L143.4,567.0 L143.8,569.0 L144.0,570.0" stroke="#0000ff" stroke-width="2.6"/>
<path d="M142.7,563.3 L143.1,565.3 L143.5,567.2 L143.8,569.2 L144.2,571.2 L144.6,573.1 L144.9,575.1 L145.3,577.1 L145.7,579.1 L146.0,581.0 L146.4,583.0 L146.7,585.0 L147.1,587.0 L147.5,588.9 L147.8,590.9 L148.2,592.9 L148.6,594.8 L148.9,596.8 L149.3,598.8 L149.7,600.7 L150.1,602.7 L150.5,604.7 L150.9,606.6 L151.3,608.6 L151.7,610.6 L152.2,612.5 L152.6,614.5 L153.0,616.4 L153.4,618.4 L153.8,620.4 L154.2,622.3 L154.7,624.3 L155.1,626.2 L155.5,628.2 L155.9,630.2 L156.3,632.1 L156.7,634.1 L157.2,636.0 L157.6,638.0 L158.1,640.0 L158.5,641.9 L159.0,643.8 L159.5,645.8 L160.1,647.7 L160.6,649.7 L161.1,651.6 L161.6,653.5 L162.1,655.5 L162.6,657.4 L163.2,659.3 L163.7,661.3 L164.2,663.2 L164.7,665.2 L165.2,667.1 L165.8,669.0 L166.3,671.0 L166.9,672.9 L167.4,674.8 L168.0,676.7 L168.6,678.6 L169.2,680.6 L169.7,682.5 L170.3,684.4 L170.9,686.3 L171.5,688.2 L172.0,690.2 L172.6,692.1 L173.2,694.0 L173.8,695.9 L174.4,697.8 L175.0,699.8 L175.6,701.7 L176.2,703.6 L176.8,705.5 L177.4,707.4 L178.0,709.3 L178.6,711.2 L179.2,713.1 L179.9,715.0 L180.5,716.9 L181.1,718.9 L181.7,720.8 L182.3,722.7 L182.8,724.6 L183.5,726.5 L184.1,728.4 L184.7,730.3 L185.4,732.2 L186.1,734.1 L186.9,735.9 L187.6,737.8 L188.4,739.6 L189.2,741.5 L190.0,743.3 L190.9,745.1 L191.8,746.8 L192.8,748.6 L193.8,750.3 L194.9,752.0 L195.9,753.8 L196.9,755.5 L198.0,757.2 L199.0,758.9 L200.0,760.6 L201.1,762.3 L202.1,764.0 L203.2,765.7 L204.3,767.4 L205.4,769.1 L206.6,770.7 L207.7,772.3 L208.9,773.9 L210.1,775.5 L211.4,777.1 L212.6,778.7 L213.9,780.2 L215.2,781.8 L216.5,783.3 L217.9,784.7 L219.3,786.2 L220.7,787.6 L222.2,788.9 L223.7,790.2 L225.2,791.5 L226.8,792.8 L228.4,794.0 L230.0,795.2 L231.6,796.4 L233.2,797.5 L234.9,798.6 L236.6,799.7 L238.3,800.6 L240.1,801.5 L241.9,802.3 L243.8,803.0 L245.7,803.7 L247.6,804.3 L249.5,805.0 L251.4,805.6 L253.3,806.2 L255.2,806.9 L257.1,807.5 L259.0,808.0 L260.9,808.5 L262.9,809.0 L264.9,809.4 L266.8,809.8 L268.8,810.1 L270.8,810.5 L272.7,810.9 L274.7,811.2 L276.7,811.6 L278.7,811.9 L280.6,812.2 L282.6,812.5 L284.6,812.8 L286.6,813.0 L288.6,813.3 L290.6,813.5 L292.6,813.8 L294.6,814.0 L296.5,814.3 L298.5,814.5 L300.5,814.7 L302.5,814.9 L304.5,815.1 L306.5,815.3 L308.5,815.5 L310.5,815.7 L312.5,815.9 L314.5,816.1 L316.5,816.3 L318.5,816.5 L320.5,816.6 L322.5,816.8 L324.5,816.9 L326.5,817.0 L328.5,817.0 L330.5,817.1 L332.5,817.2 L334.5,817.3 L336.5,817.4 L338.5,817.4 L340.5,817.5 L342.5,817.6 L344.5,817.7 L346.5,817.8 L348.5,817.8 L350.5,817.9 L352.5,818.0 L354.5,818.1 L356.5,818.2 L358.5,818.2 L360.5,818.3 L362.5,818.4 L364.5,818.5 L366.6,818.6 L368.6,818.7 L370.6,818.7 L372.6,818.8 L374.6,818.9 L376.6,819.0 L378.6,819.1 L380.6,819.2 L382.6,819.3 L384.6,819.3 L386.6,819.4 L388.6,819.5 L390.6,819.6 L392.6,819.7 L394.6,819.8 L396.6,819.8 L398.6,819.9 L400.6,820.0 L402.6,820.0 L404.6,820.0 L406.6,820.1 L408.6,820.1 L410.6,820.1 L412.6,820.1 L414.6,820.1 L416.6,820.2 L418.6,820.2 L420.7,820.2 L422.7,820.2 L424.7,820.2 L426.7,820.2 L428.7,820.3 L430.7,820.3 L432.7,820.3 L434.7,820.3 L436.7,820.3 L438.7,820.4 L440.7,820.4 L442.7,820.4 L444.7,820.4 L446.7,820.4 L448.7,820.4 L450.7,820.5 L452.7,820.5 L454.7,820.5 L456.7,820.5 L458.7,820.5 L460.7,820.6 L462.8,820.6 L464.8,820.6 L466.8,820.6 L468.8,820.6 L470.8,820.6 L472.8,820.7 L474.8,820.7 L476.8,820.7 L478.8,820.7 L480.8,820.7 L482.8,820.8 L484.8,820.8 L486.8,820.8 L488.8,820.8 L490.8,820.8 L492.8,820.8 L494.8,820.9 L496.8,820.9 L498.8,820.9 L500.8,820.9 L502.9,820.9 L504.9,821.0 L506.9,821.0 L508.9,821.0 L510.9,821.0 L512.9,821.0 L514.9,821.0 L516.9,821.1 L518.9,821.1 L520.9,821.1 L522.9,821.1 L524.9,821.1 L526.9,821.2 L528.9,821.2 L530.9,821.2 L532.9,821.2 L534.9,821.2 L536.9,821.2 L538.9,821.3 L540.9,821.3 L542.9,821.3 L545.0,821.3 L547.0,821.3 L549.0,821.4 L551.0,821.4 L553.0,821.4 L555.0,821.4 L557.0,821.4 L559.0,821.4 L561.0,821.5 L563.0,821.5 L565.0,821.5" stroke="#0000ff" stroke-width="2.6"/>
</g>
<rect x="77.4" y="475.7" width="488.1" height="351.5" fill="none" stroke="#2a2a2a" stroke-width="1.6"/>
<line x1="77.4" y1="827.2" x2="77.4" y2="832.2" stroke="#2a2a2a" stroke-width="1.4"/>
<text transform="translate(77.4,863.6) scale(0.92,1)" font-size="23" font-weight="bold" text-anchor="middle">30</text>
<line x1="199.4" y1="827.2" x2="199.4" y2="832.2" stroke="#2a2a2a" stroke-width="1.4"/>
<text transform="translate(199.4,863.6) scale(0.92,1)" font-size="23" font-weight="bold" text-anchor="middle">40</text>
<line x1="321.5" y1="827.2" x2="321.5" y2="832.2" stroke="#2a2a2a" stroke-width="1.4"/>
<text transform="translate(321.5,863.6) scale(0.92,1)" font-size="23" font-weight="bold" text-anchor="middle">50</text>
<line x1="443.5" y1="827.2" x2="443.5" y2="832.2" stroke="#2a2a2a" stroke-width="1.4"/>
<text transform="translate(443.5,863.6) scale(0.92,1)" font-size="23" font-weight="bold" text-anchor="middle">60</text>
<line x1="565.5" y1="827.2" x2="565.5" y2="832.2" stroke="#2a2a2a" stroke-width="1.4"/>
<text transform="translate(565.5,863.6) scale(0.92,1)" font-size="23" font-weight="bold" text-anchor="middle">70</text>
<line x1="72.4" y1="825.5" x2="77.4" y2="825.5" stroke="#2a2a2a" stroke-width="1.4"/>
<text transform="translate(60.8,833.1) scale(0.92,1)" font-size="23" font-weight="bold" text-anchor="end">0</text>
<line x1="72.4" y1="754.2" x2="77.4" y2="754.2" stroke="#2a2a2a" stroke-width="1.4"/>
<text transform="translate(60.8,761.8) scale(0.92,1)" font-size="23" font-weight="bold" text-anchor="end">10</text>
<line x1="72.4" y1="682.9" x2="77.4" y2="682.9" stroke="#2a2a2a" stroke-width="1.4"/>
<text transform="translate(60.8,690.5) scale(0.92,1)" font-size="23" font-weight="bold" text-anchor="end">20</text>
<line x1="72.4" y1="611.5" x2="77.4" y2="611.5" stroke="#2a2a2a" stroke-width="1.4"/>
<text transform="translate(60.8,619.1) scale(0.92,1)" font-size="23" font-weight="bold" text-anchor="end">30</text>
<line x1="72.4" y1="540.2" x2="77.4" y2="540.2" stroke="#2a2a2a" stroke-width="1.4"/>
<text transform="translate(60.8,547.8) scale(0.92,1)" font-size="23" font-weight="bold" text-anchor="end">40</text>
<text transform="translate(281.97,532.35) scale(0.9177,1)" style="font-size:25.31px;font-weight:bold;font-family:'Liberation Sans', sans-serif">Chol</text>
<text transform="translate(508.93,516.08) scale(1.0016,1)" style="font-size:41.67px;font-weight:normal;font-family:'Liberation Serif', serif">c</text>
<line x1="311.0" y1="579.8" x2="354.6" y2="579.8" stroke="#000" stroke-width="2.5"/>
<text transform="translate(364.30,586.80) scale(1.010,1)" style="font-size:19.25px">control</text>
<line x1="311.0" y1="602.4" x2="354.6" y2="602.4" stroke="#20e8f0" stroke-width="2.5"/>
<text transform="translate(364.30,609.40) scale(1.010,1)" style="font-size:19.25px">lipid:CU 64:1</text>
<line x1="311.0" y1="624.9" x2="354.6" y2="624.9" stroke="#f020f0" stroke-width="2.5"/>
<text transform="translate(364.30,631.90) scale(1.010,1)" style="font-size:19.25px">lipid:CU 32:1</text>
<line x1="311.0" y1="647.6" x2="354.6" y2="647.6" stroke="#f01010" stroke-width="2.5"/>
<text transform="translate(364.30,654.60) scale(1.010,1)" style="font-size:19.25px">lipid:CU 16:1</text>
<line x1="311.0" y1="670.4" x2="354.6" y2="670.4" stroke="#20e020" stroke-width="2.5"/>
<text transform="translate(364.30,677.40) scale(1.010,1)" style="font-size:19.25px">lipid:CU 8:1</text>
<line x1="311.0" y1="693.5" x2="354.6" y2="693.5" stroke="#1010e0" stroke-width="2.5"/>
<text transform="translate(364.30,700.50) scale(1.010,1)" style="font-size:19.25px">lipid:CU 4:1</text>
<text transform="translate(19.50,678.89) rotate(-90) scale(0.9834,1)" style="font-size:21.93px;font-weight:bold">[mN/m]</text>
<g transform="matrix(0,-1.0146,0.9646,0,3.20,705.90)"><path d="M0.4,6.2 C0.6,3.2 2.2,1.7 4.6,1.7 L20.4,1.7 M6.6,1.8 L6.6,10.5 C6.6,14.8 5.6,17 3.6,18.4 M14.2,1.8 L14.2,12.5 C14.2,17 15,19 16.8,18.9 C18.6,18.7 19.6,16.8 20.2,14.6" fill="none" stroke="#000" stroke-width="3.1" stroke-linecap="round"/><circle cx="3.9" cy="18.2" r="1.7" fill="#000"/></g>
<text transform="translate(259.47,889.37) scale(0.9792,1)" style="font-size:21.61px;font-weight:bold;font-family:'Liberation Sans', sans-serif">A/molecule</text>
<text transform="translate(378.67,887.03) scale(0.8737,1)" style="font-size:26.52px;font-weight:bold;font-family:'Liberation Sans', sans-serif">[</text>
<text transform="translate(386.22,886.80) scale(1.0608,1)" style="font-size:25.08px;font-weight:bold;font-family:'Liberation Sans', sans-serif">Å</text>
<text transform="translate(405.12,874.50) scale(0.9472,1)" style="font-size:17.43px;font-weight:bold;font-family:'Liberation Sans', sans-serif">2</text>
<text transform="translate(414.67,887.03) scale(0.9019,1)" style="font-size:26.52px;font-weight:bold;font-family:'Liberation Sans', sans-serif">]</text>
<clipPath id="clipd"><rect x="691.2" y="478.4" width="489.2" height="351.8"/></clipPath>
<g clip-path="url(#clipd)" fill="none" stroke-width="2.6" stroke-linejoin="round" stroke-linecap="round">
<path d="M705.8,503.2 L706.8,502.7 L707.8,502.2 L708.8,501.8 L709.8,501.5 L710.8,501.3 L711.8,501.1 L712.8,501.0 L713.8,500.9 L714.8,500.9 L715.8,501.0 L716.8,501.2 L717.8,501.4 L718.8,501.7 L719.8,502.0 L720.8,502.5 L721.8,503.0 L722.8,503.6 L723.8,504.2 L724.8,504.9 L725.8,505.7 L726.8,506.5 L727.8,507.5 L728.8,508.5 L729.8,509.5 L730.8,510.6 L731.8,511.8 L732.8,513.1 L733.8,514.5 L734.8,515.9 L735.8,517.3 L736.8,518.8 L737.8,520.4 L738.8,522.0 L739.8,523.7 L740.8,525.4 L741.8,527.1 L742.8,528.9 L743.8,530.7 L744.8,532.5 L745.8,534.4 L746.8,536.2 L747.8,538.1 L748.8,540.0 L749.8,541.9 L750.8,543.8 L751.8,545.7 L752.8,547.7 L753.8,549.6 L754.8,551.5 L755.8,553.3 L756.8,555.2 L757.8,557.0 L758.8,558.9 L759.8,560.7 L760.8,562.5 L761.8,564.2 L762.8,566.0 L763.8,567.7 L764.8,569.5 L765.8,571.2 L766.8,572.9 L767.8,574.6 L768.8,576.3 L769.8,578.0 L770.8,579.6 L771.8,581.3 L772.8,582.9 L773.8,584.6 L774.8,586.2 L775.8,587.9 L776.8,589.5 L777.8,591.2 L778.8,592.8 L779.8,594.4 L780.8,596.1 L781.8,597.7 L782.8,599.3 L783.8,601.0 L784.8,602.6 L785.8,604.3 L786.8,606.0 L787.8,607.6 L788.8,609.3 L789.8,611.0 L790.8,612.7 L791.8,614.3 L792.8,616.0 L793.8,617.7 L794.8,619.4 L795.8,621.1 L796.8,622.8 L797.8,624.5 L798.8,626.2 L799.8,627.9 L800.8,629.6 L801.8,631.2 L802.8,632.9 L803.8,634.6 L804.8,636.3 L805.8,637.9 L806.8,639.6 L807.8,641.2 L808.8,642.9 L809.8,644.5 L810.8,646.2 L811.8,647.8 L812.8,649.4 L813.8,651.0 L814.8,652.6 L815.8,654.1 L816.8,655.7 L817.8,657.3 L818.8,658.8 L819.8,660.3 L820.8,661.9 L821.8,663.4 L822.8,664.9 L823.8,666.4 L824.8,667.8 L825.8,669.3 L826.8,670.8 L827.8,672.2 L828.8,673.6 L829.8,675.1 L830.8,676.5 L831.8,677.9 L832.8,679.3 L833.8,680.7 L834.8,682.0 L835.8,683.4 L836.8,684.7 L837.8,686.1 L838.8,687.4 L839.8,688.7 L840.8,690.0 L841.8,691.3 L842.8,692.6 L843.8,693.9 L844.8,695.2 L845.8,696.4 L846.8,697.7 L847.8,698.9 L848.8,700.2 L849.8,701.4 L850.8,702.6 L851.8,703.8 L852.8,705.0 L853.8,706.2 L854.8,707.3 L855.8,708.5 L856.8,709.6 L857.8,710.8 L858.8,711.9 L859.8,713.0 L860.8,714.2 L861.8,715.3 L862.8,716.4 L863.8,717.4 L864.8,718.5 L865.8,719.6 L866.8,720.6 L867.8,721.7 L868.8,722.7 L869.8,723.8 L870.8,724.8 L871.8,725.8 L872.8,726.8 L873.8,727.8 L874.8,728.8 L875.8,729.7 L876.8,730.7 L877.8,731.7 L878.8,732.6 L879.8,733.6 L880.8,734.5 L881.8,735.4 L882.8,736.3 L883.8,737.2 L884.8,738.1 L885.8,739.0 L886.8,739.9 L887.8,740.8 L888.8,741.7 L889.8,742.5 L890.8,743.4 L891.8,744.2 L892.8,745.1 L893.8,745.9 L894.8,746.7 L895.8,747.5 L896.8,748.3 L897.8,749.1 L898.8,749.9 L899.8,750.7 L900.8,751.5 L901.8,752.2 L902.8,753.0 L903.8,753.7 L904.8,754.5 L905.8,755.2 L906.8,756.0 L907.8,756.7 L908.8,757.4 L909.8,758.1 L910.8,758.8 L911.8,759.5 L912.8,760.2 L913.8,760.9 L914.8,761.6 L915.8,762.2 L916.8,762.9 L917.8,763.6 L918.8,764.2 L919.8,764.9 L920.8,765.5 L921.8,766.1 L922.8,766.8 L923.8,767.4 L924.8,768.0 L925.8,768.6 L926.8,769.2 L927.8,769.8 L928.8,770.4 L929.8,771.0 L930.8,771.6 L931.8,772.2 L932.8,772.7 L933.8,773.3 L934.8,773.9 L935.8,774.4 L936.8,775.0 L937.8,775.5 L938.8,776.0 L939.8,776.6 L940.8,777.1 L941.8,777.6 L942.8,778.1 L943.8,778.7 L944.8,779.2 L945.8,779.7 L946.8,780.2 L947.8,780.7 L948.8,781.2 L949.8,781.6 L950.8,782.1 L951.8,782.6 L952.8,783.1 L953.8,783.6 L954.8,784.0 L955.8,784.5 L956.8,784.9 L957.8,785.4 L958.8,785.8 L959.8,786.3 L960.8,786.7 L961.8,787.2 L962.8,787.6 L963.8,788.0 L964.8,788.5 L965.8,788.9 L966.8,789.3 L967.8,789.7 L968.8,790.1 L969.8,790.5 L970.8,790.9 L971.8,791.3 L972.8,791.7 L973.8,792.1 L974.8,792.5 L975.8,792.9 L976.8,793.3 L977.8,793.7 L978.8,794.1 L979.8,794.5 L980.8,794.8 L981.8,795.2 L982.8,795.6 L983.8,796.0 L984.8,796.3 L985.8,796.7 L986.8,797.1 L987.8,797.4 L988.8,797.8 L989.8,798.1 L990.8,798.5 L991.8,798.8 L992.8,799.2 L993.8,799.5 L994.8,799.9 L995.8,800.2 L996.8,800.5 L997.8,800.9 L998.8,801.2 L999.8,801.5 L1000.8,801.9 L1001.8,802.2 L1002.8,802.5 L1003.8,802.8 L1004.8,803.1 L1005.8,803.5 L1006.8,803.8 L1007.8,804.1 L1008.8,804.4 L1009.8,804.7 L1010.8,805.0 L1011.8,805.3 L1012.8,805.6 L1013.8,805.9 L1014.8,806.2 L1015.8,806.5 L1016.8,806.8 L1017.8,807.1 L1018.8,807.3 L1019.8,807.6 L1020.8,807.9 L1021.8,808.2 L1022.8,808.4 L1023.8,808.7 L1024.8,809.0 L1025.8,809.3 L1026.8,809.5 L1027.8,809.8 L1028.8,810.0 L1029.8,810.3 L1030.8,810.6 L1031.8,810.8 L1032.8,811.1 L1033.8,811.3 L1034.8,811.6 L1035.8,811.8 L1036.8,812.1 L1037.8,812.3 L1038.8,812.5 L1039.8,812.8 L1040.8,813.0 L1041.8,813.2 L1042.8,813.5 L1043.8,813.7 L1044.8,813.9 L1045.8,814.1 L1046.8,814.4 L1047.8,814.6 L1048.8,814.8 L1049.8,815.0 L1050.8,815.2 L1051.8,815.4 L1052.8,815.7 L1053.8,815.9 L1054.8,816.1 L1055.8,816.3 L1056.8,816.5 L1057.8,816.7 L1058.8,816.9 L1059.8,817.1 L1060.8,817.3 L1061.8,817.4 L1062.8,817.6 L1063.8,817.8 L1064.8,818.0 L1065.8,818.2 L1066.8,818.4 L1067.8,818.6 L1068.8,818.7 L1069.8,818.9 L1070.8,819.1 L1071.8,819.3 L1072.8,819.4 L1073.8,819.6 L1074.8,819.8 L1075.8,819.9 L1076.8,820.1 L1077.8,820.2 L1078.8,820.4 L1079.8,820.6 L1080.8,820.7 L1081.8,820.9 L1082.8,821.0 L1083.8,821.2 L1084.8,821.3 L1085.8,821.5 L1086.8,821.6 L1087.8,821.7 L1088.8,821.9 L1089.8,822.0 L1090.8,822.2 L1091.8,822.3 L1092.8,822.4 L1093.8,822.6 L1094.8,822.7 L1095.8,822.8 L1096.8,822.9 L1097.8,823.1 L1098.8,823.2 L1099.8,823.3 L1100.8,823.4 L1101.8,823.5 L1102.8,823.7 L1103.8,823.8 L1104.8,823.9 L1105.8,824.0 L1106.8,824.1 L1107.8,824.2 L1108.8,824.3 L1109.8,824.4 L1110.8,824.5 L1111.8,824.6 L1112.8,824.7 L1113.8,824.8 L1114.8,824.9 L1115.8,825.0 L1116.8,825.1 L1117.8,825.2 L1118.8,825.3 L1119.8,825.4 L1120.8,825.5 L1121.8,825.5 L1122.8,825.6 L1123.8,825.7 L1124.8,825.8 L1125.8,825.9 L1126.8,825.9 L1127.8,826.0 L1128.8,826.1 L1129.8,826.2 L1130.8,826.2 L1131.8,826.3 L1132.8,826.4 L1133.8,826.4 L1134.8,826.5 L1135.8,826.6 L1136.8,826.6 L1137.8,826.7 L1138.8,826.8 L1139.8,826.8 L1140.8,826.9 L1141.8,826.9 L1142.8,827.0 L1143.8,827.0 L1144.8,827.1 L1145.8,827.1 L1146.8,827.2 L1147.8,827.2 L1148.8,827.3 L1149.8,827.3 L1150.8,827.4 L1151.8,827.4 L1152.8,827.5 L1153.8,827.5 L1154.8,827.5 L1155.8,827.6 L1156.8,827.6 L1157.8,827.6 L1158.8,827.7 L1159.8,827.7 L1160.8,827.7 L1161.8,827.8 L1162.8,827.8 L1163.8,827.8 L1164.8,827.9 L1165.8,827.9 L1166.8,827.9 L1167.8,827.9 L1168.8,827.9 L1169.8,828.0 L1170.8,828.0 L1171.8,828.0 L1172.8,828.0 L1173.8,828.0 L1174.8,828.0 L1175.8,828.1 L1176.8,828.1 L1177.8,828.1 L1178.8,828.1 L1179.8,828.1" stroke="#ff0000" stroke-width="2.6"/>
<path d="M706.7,510.4 L707.7,510.5 L708.7,510.5 L709.7,510.5 L710.7,510.6 L711.7,510.6 L712.7,510.7 L713.7,510.7 L714.7,510.8 L715.7,510.8 L716.7,510.8 L717.7,510.9 L718.7,510.9 L719.7,511.0 L720.7,511.0 L721.7,511.1 L722.7,511.1 L723.7,511.2 L724.7,511.2 L725.7,511.2 L726.7,511.2 L727.7,511.3 L728.7,511.3 L729.7,511.3 L730.7,511.3 L731.7,511.3 L732.7,511.3 L733.7,511.3 L734.7,511.3 L735.7,511.3 L736.7,511.3 L737.7,511.3 L738.7,511.4 L739.7,511.5 L740.7,511.7 L741.7,511.9 L742.7,512.2 L743.7,512.5 L744.7,513.0 L745.7,513.5 L746.7,514.0 L747.7,514.7 L748.7,515.4 L749.7,516.3 L750.7,517.2 L751.7,518.2 L752.7,519.3 L753.7,520.5 L754.7,521.8 L755.7,523.1 L756.7,524.5 L757.7,526.0 L758.7,527.6 L759.7,529.2 L760.7,530.9 L761.7,532.7 L762.7,534.6 L763.7,536.5 L764.7,538.5 L765.7,540.5 L766.7,542.6 L767.7,544.8 L768.7,546.9 L769.7,549.1 L770.7,551.4 L771.7,553.6 L772.7,555.9 L773.7,558.1 L774.7,560.4 L775.7,562.6 L776.7,564.8 L777.7,567.0 L778.7,569.2 L779.7,571.3 L780.7,573.4 L781.7,575.4 L782.7,577.5 L783.7,579.5 L784.7,581.4 L785.7,583.4 L786.7,585.3 L787.7,587.2 L788.7,589.1 L789.7,591.0 L790.7,592.9 L791.7,594.7 L792.7,596.6 L793.7,598.4 L794.7,600.3 L795.7,602.1 L796.7,604.0 L797.7,605.9 L798.7,607.7 L799.7,609.6 L800.7,611.5 L801.7,613.3 L802.7,615.2 L803.7,617.1 L804.7,619.0 L805.7,620.9 L806.7,622.7 L807.7,624.6 L808.7,626.5 L809.7,628.4 L810.7,630.2 L811.7,632.1 L812.7,634.0 L813.7,635.8 L814.7,637.7 L815.7,639.5 L816.7,641.4 L817.7,643.2 L818.7,645.0 L819.7,646.8 L820.7,648.6 L821.7,650.4 L822.7,652.2 L823.7,654.0 L824.7,655.7 L825.7,657.5 L826.7,659.2 L827.7,660.9 L828.7,662.6 L829.7,664.3 L830.7,666.0 L831.7,667.7 L832.7,669.3 L833.7,670.9 L834.7,672.6 L835.7,674.2 L836.7,675.7 L837.7,677.3 L838.7,678.8 L839.7,680.3 L840.7,681.9 L841.7,683.3 L842.7,684.8 L843.7,686.2 L844.7,687.7 L845.7,689.1 L846.7,690.5 L847.7,691.8 L848.7,693.2 L849.7,694.5 L850.7,695.8 L851.7,697.1 L852.7,698.4 L853.7,699.7 L854.7,700.9 L855.7,702.2 L856.7,703.4 L857.7,704.6 L858.7,705.8 L859.7,706.9 L860.7,708.1 L861.7,709.2 L862.7,710.3 L863.7,711.4 L864.7,712.5 L865.7,713.6 L866.7,714.7 L867.7,715.7 L868.7,716.8 L869.7,717.8 L870.7,718.8 L871.7,719.8 L872.7,720.8 L873.7,721.7 L874.7,722.7 L875.7,723.6 L876.7,724.6 L877.7,725.5 L878.7,726.4 L879.7,727.3 L880.7,728.2 L881.7,729.1 L882.7,729.9 L883.7,730.8 L884.7,731.6 L885.7,732.5 L886.7,733.3 L887.7,734.1 L888.7,734.9 L889.7,735.7 L890.7,736.5 L891.7,737.3 L892.7,738.0 L893.7,738.8 L894.7,739.6 L895.7,740.3 L896.7,741.0 L897.7,741.8 L898.7,742.5 L899.7,743.2 L900.7,743.9 L901.7,744.6 L902.7,745.3 L903.7,746.0 L904.7,746.7 L905.7,747.4 L906.7,748.1 L907.7,748.7 L908.7,749.4 L909.7,750.0 L910.7,750.7 L911.7,751.3 L912.7,752.0 L913.7,752.6 L914.7,753.3 L915.7,753.9 L916.7,754.5 L917.7,755.1 L918.7,755.8 L919.7,756.4 L920.7,757.0 L921.7,757.6 L922.7,758.2 L923.7,758.8 L924.7,759.5 L925.7,760.1 L926.7,760.7 L927.7,761.3 L928.7,761.9 L929.7,762.5 L930.7,763.0 L931.7,763.6 L932.7,764.2 L933.7,764.8 L934.7,765.4 L935.7,766.0 L936.7,766.5 L937.7,767.1 L938.7,767.7 L939.7,768.3 L940.7,768.8 L941.7,769.4 L942.7,770.0 L943.7,770.5 L944.7,771.1 L945.7,771.6 L946.7,772.2 L947.7,772.7 L948.7,773.3 L949.7,773.8 L950.7,774.3 L951.7,774.9 L952.7,775.4 L953.7,775.9 L954.7,776.5 L955.7,777.0 L956.7,777.5 L957.7,778.0 L958.7,778.6 L959.7,779.1 L960.7,779.6 L961.7,780.1 L962.7,780.6 L963.7,781.1 L964.7,781.6 L965.7,782.1 L966.7,782.6 L967.7,783.1 L968.7,783.6 L969.7,784.0 L970.7,784.5 L971.7,785.0 L972.7,785.5 L973.7,786.0 L974.7,786.4 L975.7,786.9 L976.7,787.4 L977.7,787.8 L978.7,788.3 L979.7,788.7 L980.7,789.2 L981.7,789.6 L982.7,790.1 L983.7,790.5 L984.7,791.0 L985.7,791.4 L986.7,791.8 L987.7,792.3 L988.7,792.7 L989.7,793.1 L990.7,793.5 L991.7,794.0 L992.7,794.4 L993.7,794.8 L994.7,795.2 L995.7,795.6 L996.7,796.0 L997.7,796.4 L998.7,796.8 L999.7,797.2 L1000.7,797.6 L1001.7,798.0 L1002.7,798.3 L1003.7,798.7 L1004.7,799.1 L1005.7,799.5 L1006.7,799.8 L1007.7,800.2 L1008.7,800.6 L1009.7,800.9 L1010.7,801.3 L1011.7,801.6 L1012.7,802.0 L1013.7,802.3 L1014.7,802.7 L1015.7,803.0 L1016.7,803.4 L1017.7,803.7 L1018.7,804.0 L1019.7,804.4 L1020.7,804.7 L1021.7,805.0 L1022.7,805.4 L1023.7,805.7 L1024.7,806.0 L1025.7,806.3 L1026.7,806.6 L1027.7,806.9 L1028.7,807.2 L1029.7,807.5 L1030.7,807.8 L1031.7,808.1 L1032.7,808.4 L1033.7,808.7 L1034.7,809.0 L1035.7,809.3 L1036.7,809.6 L1037.7,809.8 L1038.7,810.1 L1039.7,810.4 L1040.7,810.7 L1041.7,810.9 L1042.7,811.2 L1043.7,811.5 L1044.7,811.7 L1045.7,812.0 L1046.7,812.2 L1047.7,812.5 L1048.7,812.7 L1049.7,813.0 L1050.7,813.2 L1051.7,813.5 L1052.7,813.7 L1053.7,814.0 L1054.7,814.2 L1055.7,814.4 L1056.7,814.6 L1057.7,814.9 L1058.7,815.1 L1059.7,815.3 L1060.7,815.5 L1061.7,815.8 L1062.7,816.0 L1063.7,816.2 L1064.7,816.4 L1065.7,816.6 L1066.7,816.8 L1067.7,817.0 L1068.7,817.2 L1069.7,817.4 L1070.7,817.6 L1071.7,817.8 L1072.7,818.0 L1073.7,818.2 L1074.7,818.3 L1075.7,818.5 L1076.7,818.7 L1077.7,818.9 L1078.7,819.1 L1079.7,819.2 L1080.7,819.4 L1081.7,819.6 L1082.7,819.7 L1083.7,819.9 L1084.7,820.1 L1085.7,820.2 L1086.7,820.4 L1087.7,820.5 L1088.7,820.7 L1089.7,820.8 L1090.7,821.0 L1091.7,821.1 L1092.7,821.3 L1093.7,821.4 L1094.7,821.5 L1095.7,821.7 L1096.7,821.8 L1097.7,821.9 L1098.7,822.1 L1099.7,822.2 L1100.7,822.3 L1101.7,822.5 L1102.7,822.6 L1103.7,822.7 L1104.7,822.8 L1105.7,822.9 L1106.7,823.0 L1107.7,823.2 L1108.7,823.3 L1109.7,823.4 L1110.7,823.5 L1111.7,823.6 L1112.7,823.7 L1113.7,823.8 L1114.7,823.9 L1115.7,824.0 L1116.7,824.1 L1117.7,824.2 L1118.7,824.3 L1119.7,824.3 L1120.7,824.4 L1121.7,824.5 L1122.7,824.6 L1123.7,824.7 L1124.7,824.8 L1125.7,824.8 L1126.7,824.9 L1127.7,825.0 L1128.7,825.1 L1129.7,825.1 L1130.7,825.2 L1131.7,825.3 L1132.7,825.3 L1133.7,825.4 L1134.7,825.4 L1135.7,825.5 L1136.7,825.6 L1137.7,825.6 L1138.7,825.7 L1139.7,825.7 L1140.7,825.8 L1141.7,825.8 L1142.7,825.9 L1143.7,825.9 L1144.7,826.0 L1145.7,826.0 L1146.7,826.0 L1147.7,826.1 L1148.7,826.1 L1149.7,826.1 L1150.7,826.2 L1151.7,826.2 L1152.7,826.2 L1153.7,826.3 L1154.7,826.3 L1155.7,826.3 L1156.7,826.4 L1157.7,826.4 L1158.7,826.4 L1159.7,826.4 L1160.7,826.4 L1161.7,826.5 L1162.7,826.5 L1163.7,826.5 L1164.7,826.5 L1165.7,826.5 L1166.7,826.5 L1167.7,826.5 L1168.7,826.5 L1169.7,826.5 L1170.7,826.5 L1171.7,826.6 L1172.7,826.6 L1173.7,826.6 L1174.7,826.6 L1175.7,826.6 L1176.7,826.5 L1177.7,826.5 L1178.7,826.5 L1179.7,826.5" stroke="#00ff00" stroke-width="2.6"/>
<path d="M705.4,507.5 L706.4,507.0 L707.4,506.6 L708.4,506.2 L709.4,505.8 L710.4,505.5 L711.4,505.1 L712.4,504.8 L713.4,504.6 L714.4,504.3 L715.4,504.1 L716.4,503.9 L717.4,503.7 L718.4,503.6 L719.4,503.5 L720.4,503.4 L721.4,503.3 L722.4,503.3 L723.4,503.3 L724.4,503.4 L725.4,503.4 L726.4,503.5 L727.4,503.7 L728.4,503.8 L729.4,504.0 L730.4,504.2 L731.4,504.5 L732.4,504.8 L733.4,505.1 L734.4,505.4 L735.4,505.8 L736.4,506.3 L737.4,506.7 L738.4,507.2 L739.4,507.7 L740.4,508.3 L741.4,508.9 L742.4,509.6 L743.4,510.3 L744.4,511.1 L745.4,512.1 L746.4,513.1 L747.4,514.2 L748.4,515.4 L749.4,516.8 L750.4,518.2 L751.4,519.6 L752.4,521.2 L753.4,522.8 L754.4,524.5 L755.4,526.2 L756.4,527.9 L757.4,529.6 L758.4,531.4 L759.4,533.2 L760.4,535.1 L761.4,536.9 L762.4,538.8 L763.4,540.7 L764.4,542.6 L765.4,544.5 L766.4,546.5 L767.4,548.5 L768.4,550.4 L769.4,552.4 L770.4,554.4 L771.4,556.4 L772.4,558.4 L773.4,560.4 L774.4,562.5 L775.4,564.5 L776.4,566.5 L777.4,568.5 L778.4,570.5 L779.4,572.6 L780.4,574.6 L781.4,576.6 L782.4,578.6 L783.4,580.6 L784.4,582.6 L785.4,584.6 L786.4,586.5 L787.4,588.5 L788.4,590.5 L789.4,592.4 L790.4,594.3 L791.4,596.3 L792.4,598.2 L793.4,600.1 L794.4,602.0 L795.4,603.9 L796.4,605.8 L797.4,607.7 L798.4,609.5 L799.4,611.4 L800.4,613.2 L801.4,615.0 L802.4,616.9 L803.4,618.7 L804.4,620.5 L805.4,622.3 L806.4,624.1 L807.4,625.8 L808.4,627.6 L809.4,629.4 L810.4,631.1 L811.4,632.8 L812.4,634.6 L813.4,636.3 L814.4,638.0 L815.4,639.7 L816.4,641.3 L817.4,643.0 L818.4,644.7 L819.4,646.3 L820.4,647.9 L821.4,649.5 L822.4,651.2 L823.4,652.8 L824.4,654.3 L825.4,655.9 L826.4,657.5 L827.4,659.0 L828.4,660.5 L829.4,662.1 L830.4,663.6 L831.4,665.1 L832.4,666.6 L833.4,668.0 L834.4,669.5 L835.4,670.9 L836.4,672.4 L837.4,673.8 L838.4,675.2 L839.4,676.6 L840.4,678.0 L841.4,679.3 L842.4,680.7 L843.4,682.0 L844.4,683.4 L845.4,684.7 L846.4,686.0 L847.4,687.3 L848.4,688.6 L849.4,689.9 L850.4,691.1 L851.4,692.4 L852.4,693.6 L853.4,694.8 L854.4,696.0 L855.4,697.2 L856.4,698.4 L857.4,699.6 L858.4,700.8 L859.4,701.9 L860.4,703.1 L861.4,704.2 L862.4,705.3 L863.4,706.5 L864.4,707.6 L865.4,708.6 L866.4,709.7 L867.4,710.8 L868.4,711.9 L869.4,712.9 L870.4,714.0 L871.4,715.0 L872.4,716.0 L873.4,717.0 L874.4,718.0 L875.4,719.0 L876.4,720.0 L877.4,721.0 L878.4,721.9 L879.4,722.9 L880.4,723.8 L881.4,724.7 L882.4,725.7 L883.4,726.6 L884.4,727.5 L885.4,728.4 L886.4,729.3 L887.4,730.1 L888.4,731.0 L889.4,731.9 L890.4,732.7 L891.4,733.6 L892.4,734.4 L893.4,735.2 L894.4,736.1 L895.4,736.9 L896.4,737.7 L897.4,738.5 L898.4,739.2 L899.4,740.0 L900.4,740.8 L901.4,741.5 L902.4,742.3 L903.4,743.1 L904.4,743.8 L905.4,744.5 L906.4,745.2 L907.4,746.0 L908.4,746.7 L909.4,747.4 L910.4,748.1 L911.4,748.8 L912.4,749.4 L913.4,750.1 L914.4,750.8 L915.4,751.4 L916.4,752.1 L917.4,752.7 L918.4,753.4 L919.4,754.0 L920.4,754.6 L921.4,755.3 L922.4,755.9 L923.4,756.5 L924.4,757.1 L925.4,757.7 L926.4,758.3 L927.4,758.9 L928.4,759.5 L929.4,760.0 L930.4,760.6 L931.4,761.2 L932.4,761.7 L933.4,762.3 L934.4,762.8 L935.4,763.4 L936.4,763.9 L937.4,764.4 L938.4,765.0 L939.4,765.5 L940.4,766.0 L941.4,766.5 L942.4,767.0 L943.4,767.5 L944.4,768.0 L945.4,768.5 L946.4,769.0 L947.4,769.5 L948.4,770.0 L949.4,770.5 L950.4,770.9 L951.4,771.4 L952.4,771.9 L953.4,772.3 L954.4,772.8 L955.4,773.3 L956.4,773.7 L957.4,774.2 L958.4,774.6 L959.4,775.1 L960.4,775.5 L961.4,775.9 L962.4,776.4 L963.4,776.8 L964.4,777.2 L965.4,777.7 L966.4,778.1 L967.4,778.5 L968.4,778.9 L969.4,779.3 L970.4,779.7 L971.4,780.1 L972.4,780.6 L973.4,781.0 L974.4,781.4 L975.4,781.8 L976.4,782.2 L977.4,782.6 L978.4,783.0 L979.4,783.4 L980.4,783.7 L981.4,784.1 L982.4,784.5 L983.4,784.9 L984.4,785.3 L985.4,785.7 L986.4,786.1 L987.4,786.5 L988.4,786.8 L989.4,787.2 L990.4,787.6 L991.4,788.0 L992.4,788.3 L993.4,788.7 L994.4,789.1 L995.4,789.5 L996.4,789.8 L997.4,790.2 L998.4,790.6 L999.4,790.9 L1000.4,791.3 L1001.4,791.6 L1002.4,792.0 L1003.4,792.3 L1004.4,792.7 L1005.4,793.1 L1006.4,793.4 L1007.4,793.8 L1008.4,794.1 L1009.4,794.4 L1010.4,794.8 L1011.4,795.1 L1012.4,795.5 L1013.4,795.8 L1014.4,796.2 L1015.4,796.5 L1016.4,796.8 L1017.4,797.2 L1018.4,797.5 L1019.4,797.8 L1020.4,798.1 L1021.4,798.5 L1022.4,798.8 L1023.4,799.1 L1024.4,799.4 L1025.4,799.8 L1026.4,800.1 L1027.4,800.4 L1028.4,800.7 L1029.4,801.0 L1030.4,801.3 L1031.4,801.6 L1032.4,801.9 L1033.4,802.2 L1034.4,802.5 L1035.4,802.8 L1036.4,803.1 L1037.4,803.4 L1038.4,803.7 L1039.4,804.0 L1040.4,804.3 L1041.4,804.6 L1042.4,804.9 L1043.4,805.2 L1044.4,805.5 L1045.4,805.8 L1046.4,806.0 L1047.4,806.3 L1048.4,806.6 L1049.4,806.9 L1050.4,807.2 L1051.4,807.4 L1052.4,807.7 L1053.4,808.0 L1054.4,808.2 L1055.4,808.5 L1056.4,808.8 L1057.4,809.0 L1058.4,809.3 L1059.4,809.5 L1060.4,809.8 L1061.4,810.0 L1062.4,810.3 L1063.4,810.5 L1064.4,810.8 L1065.4,811.0 L1066.4,811.3 L1067.4,811.5 L1068.4,811.8 L1069.4,812.0 L1070.4,812.2 L1071.4,812.5 L1072.4,812.7 L1073.4,812.9 L1074.4,813.2 L1075.4,813.4 L1076.4,813.6 L1077.4,813.9 L1078.4,814.1 L1079.4,814.3 L1080.4,814.5 L1081.4,814.7 L1082.4,814.9 L1083.4,815.2 L1084.4,815.4 L1085.4,815.6 L1086.4,815.8 L1087.4,816.0 L1088.4,816.2 L1089.4,816.4 L1090.4,816.6 L1091.4,816.8 L1092.4,817.0 L1093.4,817.2 L1094.4,817.4 L1095.4,817.5 L1096.4,817.7 L1097.4,817.9 L1098.4,818.1 L1099.4,818.3 L1100.4,818.4 L1101.4,818.6 L1102.4,818.8 L1103.4,819.0 L1104.4,819.1 L1105.4,819.3 L1106.4,819.5 L1107.4,819.6 L1108.4,819.8 L1109.4,820.0 L1110.4,820.1 L1111.4,820.3 L1112.4,820.4 L1113.4,820.6 L1114.4,820.7 L1115.4,820.9 L1116.4,821.0 L1117.4,821.2 L1118.4,821.3 L1119.4,821.4 L1120.4,821.6 L1121.4,821.7 L1122.4,821.8 L1123.4,822.0 L1124.4,822.1 L1125.4,822.2 L1126.4,822.4 L1127.4,822.5 L1128.4,822.6 L1129.4,822.7 L1130.4,822.8 L1131.4,822.9 L1132.4,823.1 L1133.4,823.2 L1134.4,823.3 L1135.4,823.4 L1136.4,823.5 L1137.4,823.6 L1138.4,823.7 L1139.4,823.8 L1140.4,823.9 L1141.4,824.0 L1142.4,824.0 L1143.4,824.1 L1144.4,824.2 L1145.4,824.3 L1146.4,824.4 L1147.4,824.5 L1148.4,824.5 L1149.4,824.6 L1150.4,824.7 L1151.4,824.8 L1152.4,824.8 L1153.4,824.9 L1154.4,825.0 L1155.4,825.0 L1156.4,825.1 L1157.4,825.1 L1158.4,825.2 L1159.4,825.2 L1160.4,825.3 L1161.4,825.3 L1162.4,825.4 L1163.4,825.4 L1164.4,825.5 L1165.4,825.5 L1166.4,825.5 L1167.4,825.6 L1168.4,825.6 L1169.4,825.6 L1170.4,825.7 L1171.4,825.7 L1172.4,825.7 L1173.4,825.7 L1174.4,825.7 L1175.4,825.8 L1176.4,825.8 L1177.4,825.8 L1178.4,825.8 L1179.4,825.8" stroke="#0000ff" stroke-width="2.6"/>
<path d="M705.4,508.8 L706.4,508.4 L707.4,508.0 L708.4,507.7 L709.4,507.3 L710.4,507.0 L711.4,506.7 L712.4,506.3 L713.4,506.0 L714.4,505.7 L715.4,505.5 L716.4,505.2 L717.4,505.0 L718.4,504.8 L719.4,504.7 L720.4,504.6 L721.4,504.5 L722.4,504.4 L723.4,504.5 L724.4,504.5 L725.4,504.6 L726.4,504.7 L727.4,504.9 L728.4,505.2 L729.4,505.5 L730.4,505.9 L731.4,506.3 L732.4,506.9 L733.4,507.4 L734.4,508.1 L735.4,508.8 L736.4,509.6 L737.4,510.5 L738.4,511.4 L739.4,512.5 L740.4,513.5 L741.4,514.7 L742.4,515.9 L743.4,517.2 L744.4,518.5 L745.4,519.9 L746.4,521.3 L747.4,522.7 L748.4,524.3 L749.4,525.8 L750.4,527.4 L751.4,529.0 L752.4,530.7 L753.4,532.4 L754.4,534.1 L755.4,535.9 L756.4,537.7 L757.4,539.5 L758.4,541.3 L759.4,543.1 L760.4,545.0 L761.4,546.8 L762.4,548.7 L763.4,550.6 L764.4,552.4 L765.4,554.3 L766.4,556.1 L767.4,558.0 L768.4,559.8 L769.4,561.7 L770.4,563.5 L771.4,565.3 L772.4,567.1 L773.4,568.8 L774.4,570.6 L775.4,572.3 L776.4,574.0 L777.4,575.7 L778.4,577.3 L779.4,579.0 L780.4,580.6 L781.4,582.3 L782.4,583.9 L783.4,585.5 L784.4,587.1 L785.4,588.7 L786.4,590.2 L787.4,591.8 L788.4,593.4 L789.4,594.9 L790.4,596.5 L791.4,598.0 L792.4,599.6 L793.4,601.1 L794.4,602.7 L795.4,604.2 L796.4,605.7 L797.4,607.2 L798.4,608.8 L799.4,610.3 L800.4,611.8 L801.4,613.4 L802.4,614.9 L803.4,616.4 L804.4,617.9 L805.4,619.5 L806.4,621.0 L807.4,622.6 L808.4,624.1 L809.4,625.7 L810.4,627.2 L811.4,628.8 L812.4,630.4 L813.4,632.0 L814.4,633.6 L815.4,635.2 L816.4,636.8 L817.4,638.4 L818.4,640.0 L819.4,641.7 L820.4,643.3 L821.4,644.9 L822.4,646.6 L823.4,648.2 L824.4,649.9 L825.4,651.5 L826.4,653.2 L827.4,654.8 L828.4,656.4 L829.4,658.0 L830.4,659.6 L831.4,661.2 L832.4,662.8 L833.4,664.4 L834.4,665.9 L835.4,667.4 L836.4,668.9 L837.4,670.3 L838.4,671.8 L839.4,673.2 L840.4,674.6 L841.4,675.9 L842.4,677.3 L843.4,678.6 L844.4,679.9 L845.4,681.2 L846.4,682.4 L847.4,683.7 L848.4,684.9 L849.4,686.1 L850.4,687.3 L851.4,688.4 L852.4,689.6 L853.4,690.7 L854.4,691.9 L855.4,693.0 L856.4,694.1 L857.4,695.2 L858.4,696.2 L859.4,697.3 L860.4,698.4 L861.4,699.4 L862.4,700.5 L863.4,701.5 L864.4,702.5 L865.4,703.5 L866.4,704.5 L867.4,705.6 L868.4,706.6 L869.4,707.6 L870.4,708.6 L871.4,709.6 L872.4,710.6 L873.4,711.6 L874.4,712.6 L875.4,713.6 L876.4,714.5 L877.4,715.5 L878.4,716.5 L879.4,717.5 L880.4,718.5 L881.4,719.5 L882.4,720.5 L883.4,721.5 L884.4,722.5 L885.4,723.4 L886.4,724.4 L887.4,725.4 L888.4,726.3 L889.4,727.3 L890.4,728.2 L891.4,729.2 L892.4,730.1 L893.4,731.0 L894.4,732.0 L895.4,732.9 L896.4,733.8 L897.4,734.7 L898.4,735.6 L899.4,736.4 L900.4,737.3 L901.4,738.2 L902.4,739.0 L903.4,739.8 L904.4,740.7 L905.4,741.5 L906.4,742.3 L907.4,743.1 L908.4,743.9 L909.4,744.6 L910.4,745.4 L911.4,746.2 L912.4,746.9 L913.4,747.7 L914.4,748.4 L915.4,749.1 L916.4,749.8 L917.4,750.5 L918.4,751.2 L919.4,751.9 L920.4,752.6 L921.4,753.3 L922.4,754.0 L923.4,754.6 L924.4,755.3 L925.4,755.9 L926.4,756.5 L927.4,757.2 L928.4,757.8 L929.4,758.4 L930.4,759.0 L931.4,759.6 L932.4,760.2 L933.4,760.8 L934.4,761.4 L935.4,761.9 L936.4,762.5 L937.4,763.1 L938.4,763.6 L939.4,764.2 L940.4,764.7 L941.4,765.3 L942.4,765.8 L943.4,766.3 L944.4,766.8 L945.4,767.3 L946.4,767.9 L947.4,768.4 L948.4,768.9 L949.4,769.3 L950.4,769.8 L951.4,770.3 L952.4,770.8 L953.4,771.3 L954.4,771.7 L955.4,772.2 L956.4,772.7 L957.4,773.1 L958.4,773.6 L959.4,774.0 L960.4,774.5 L961.4,774.9 L962.4,775.4 L963.4,775.8 L964.4,776.2 L965.4,776.6 L966.4,777.1 L967.4,777.5 L968.4,777.9 L969.4,778.3 L970.4,778.7 L971.4,779.2 L972.4,779.6 L973.4,780.0 L974.4,780.4 L975.4,780.8 L976.4,781.2 L977.4,781.6 L978.4,782.0 L979.4,782.4 L980.4,782.8 L981.4,783.2 L982.4,783.5 L983.4,783.9 L984.4,784.3 L985.4,784.7 L986.4,785.1 L987.4,785.5 L988.4,785.8 L989.4,786.2 L990.4,786.6 L991.4,787.0 L992.4,787.4 L993.4,787.7 L994.4,788.1 L995.4,788.5 L996.4,788.8 L997.4,789.2 L998.4,789.6 L999.4,789.9 L1000.4,790.3 L1001.4,790.6 L1002.4,791.0 L1003.4,791.4 L1004.4,791.7 L1005.4,792.1 L1006.4,792.4 L1007.4,792.8 L1008.4,793.1 L1009.4,793.5 L1010.4,793.8 L1011.4,794.2 L1012.4,794.5 L1013.4,794.8 L1014.4,795.2 L1015.4,795.5 L1016.4,795.8 L1017.4,796.2 L1018.4,796.5 L1019.4,796.8 L1020.4,797.2 L1021.4,797.5 L1022.4,797.8 L1023.4,798.1 L1024.4,798.5 L1025.4,798.8 L1026.4,799.1 L1027.4,799.4 L1028.4,799.7 L1029.4,800.1 L1030.4,800.4 L1031.4,800.7 L1032.4,801.0 L1033.4,801.3 L1034.4,801.6 L1035.4,801.9 L1036.4,802.2 L1037.4,802.5 L1038.4,802.8 L1039.4,803.1 L1040.4,803.4 L1041.4,803.7 L1042.4,804.0 L1043.4,804.2 L1044.4,804.5 L1045.4,804.8 L1046.4,805.1 L1047.4,805.4 L1048.4,805.7 L1049.4,805.9 L1050.4,806.2 L1051.4,806.5 L1052.4,806.8 L1053.4,807.0 L1054.4,807.3 L1055.4,807.6 L1056.4,807.8 L1057.4,808.1 L1058.4,808.4 L1059.4,808.6 L1060.4,808.9 L1061.4,809.1 L1062.4,809.4 L1063.4,809.6 L1064.4,809.9 L1065.4,810.1 L1066.4,810.4 L1067.4,810.6 L1068.4,810.9 L1069.4,811.1 L1070.4,811.3 L1071.4,811.6 L1072.4,811.8 L1073.4,812.0 L1074.4,812.3 L1075.4,812.5 L1076.4,812.7 L1077.4,813.0 L1078.4,813.2 L1079.4,813.4 L1080.4,813.6 L1081.4,813.8 L1082.4,814.1 L1083.4,814.3 L1084.4,814.5 L1085.4,814.7 L1086.4,814.9 L1087.4,815.1 L1088.4,815.3 L1089.4,815.5 L1090.4,815.7 L1091.4,815.9 L1092.4,816.1 L1093.4,816.3 L1094.4,816.5 L1095.4,816.7 L1096.4,816.9 L1097.4,817.0 L1098.4,817.2 L1099.4,817.4 L1100.4,817.6 L1101.4,817.8 L1102.4,817.9 L1103.4,818.1 L1104.4,818.3 L1105.4,818.5 L1106.4,818.6 L1107.4,818.8 L1108.4,819.0 L1109.4,819.1 L1110.4,819.3 L1111.4,819.4 L1112.4,819.6 L1113.4,819.7 L1114.4,819.9 L1115.4,820.0 L1116.4,820.2 L1117.4,820.3 L1118.4,820.5 L1119.4,820.6 L1120.4,820.8 L1121.4,820.9 L1122.4,821.0 L1123.4,821.2 L1124.4,821.3 L1125.4,821.4 L1126.4,821.5 L1127.4,821.7 L1128.4,821.8 L1129.4,821.9 L1130.4,822.0 L1131.4,822.1 L1132.4,822.3 L1133.4,822.4 L1134.4,822.5 L1135.4,822.6 L1136.4,822.7 L1137.4,822.8 L1138.4,822.9 L1139.4,823.0 L1140.4,823.1 L1141.4,823.2 L1142.4,823.3 L1143.4,823.4 L1144.4,823.4 L1145.4,823.5 L1146.4,823.6 L1147.4,823.7 L1148.4,823.8 L1149.4,823.8 L1150.4,823.9 L1151.4,824.0 L1152.4,824.1 L1153.4,824.1 L1154.4,824.2 L1155.4,824.2 L1156.4,824.3 L1157.4,824.4 L1158.4,824.4 L1159.4,824.5 L1160.4,824.5 L1161.4,824.6 L1162.4,824.6 L1163.4,824.7 L1164.4,824.7 L1165.4,824.7 L1166.4,824.8 L1167.4,824.8 L1168.4,824.9 L1169.4,824.9 L1170.4,824.9 L1171.4,824.9 L1172.4,825.0 L1173.4,825.0 L1174.4,825.0 L1175.4,825.0 L1176.4,825.0 L1177.4,825.0 L1178.4,825.1 L1179.4,825.1" stroke="#00ffff" stroke-width="2.6"/>
<path d="M705.4,496.6 L706.4,495.7 L707.4,494.8 L708.4,494.1 L709.4,493.4 L710.4,492.7 L711.4,492.1 L712.4,491.6 L713.4,491.2 L714.4,490.8 L715.4,490.5 L716.4,490.3 L717.4,490.2 L718.4,490.1 L719.4,490.1 L720.4,490.2 L721.4,490.5 L722.4,490.8 L723.4,491.2 L724.4,491.7 L725.4,492.3 L726.4,493.0 L727.4,493.8 L728.4,494.7 L729.4,495.7 L730.4,496.9 L731.4,498.1 L732.4,499.4 L733.4,500.8 L734.4,502.3 L735.4,503.9 L736.4,505.5 L737.4,507.2 L738.4,509.0 L739.4,510.8 L740.4,512.7 L741.4,514.6 L742.4,516.5 L743.4,518.4 L744.4,520.4 L745.4,522.4 L746.4,524.4 L747.4,526.4 L748.4,528.4 L749.4,530.4 L750.4,532.4 L751.4,534.4 L752.4,536.3 L753.4,538.2 L754.4,540.1 L755.4,541.9 L756.4,543.8 L757.4,545.6 L758.4,547.4 L759.4,549.2 L760.4,550.9 L761.4,552.7 L762.4,554.5 L763.4,556.2 L764.4,558.0 L765.4,559.7 L766.4,561.4 L767.4,563.2 L768.4,564.9 L769.4,566.7 L770.4,568.5 L771.4,570.2 L772.4,572.0 L773.4,573.8 L774.4,575.5 L775.4,577.3 L776.4,579.0 L777.4,580.7 L778.4,582.4 L779.4,584.0 L780.4,585.6 L781.4,587.2 L782.4,588.7 L783.4,590.3 L784.4,591.8 L785.4,593.3 L786.4,594.8 L787.4,596.2 L788.4,597.6 L789.4,599.0 L790.4,600.4 L791.4,601.8 L792.4,603.2 L793.4,604.5 L794.4,605.9 L795.4,607.2 L796.4,608.5 L797.4,609.8 L798.4,611.1 L799.4,612.4 L800.4,613.7 L801.4,615.0 L802.4,616.2 L803.4,617.5 L804.4,618.8 L805.4,620.0 L806.4,621.3 L807.4,622.6 L808.4,623.9 L809.4,625.1 L810.4,626.4 L811.4,627.7 L812.4,629.0 L813.4,630.3 L814.4,631.6 L815.4,632.9 L816.4,634.2 L817.4,635.5 L818.4,636.9 L819.4,638.3 L820.4,639.6 L821.4,641.0 L822.4,642.4 L823.4,643.8 L824.4,645.3 L825.4,646.7 L826.4,648.1 L827.4,649.6 L828.4,651.0 L829.4,652.4 L830.4,653.9 L831.4,655.3 L832.4,656.8 L833.4,658.2 L834.4,659.7 L835.4,661.1 L836.4,662.6 L837.4,664.0 L838.4,665.4 L839.4,666.8 L840.4,668.2 L841.4,669.6 L842.4,671.0 L843.4,672.3 L844.4,673.7 L845.4,675.0 L846.4,676.3 L847.4,677.6 L848.4,679.0 L849.4,680.2 L850.4,681.5 L851.4,682.8 L852.4,684.1 L853.4,685.3 L854.4,686.5 L855.4,687.8 L856.4,689.0 L857.4,690.2 L858.4,691.4 L859.4,692.6 L860.4,693.8 L861.4,694.9 L862.4,696.1 L863.4,697.2 L864.4,698.4 L865.4,699.5 L866.4,700.6 L867.4,701.7 L868.4,702.8 L869.4,703.9 L870.4,705.0 L871.4,706.0 L872.4,707.1 L873.4,708.2 L874.4,709.2 L875.4,710.2 L876.4,711.2 L877.4,712.3 L878.4,713.3 L879.4,714.3 L880.4,715.2 L881.4,716.2 L882.4,717.2 L883.4,718.1 L884.4,719.1 L885.4,720.0 L886.4,721.0 L887.4,721.9 L888.4,722.8 L889.4,723.7 L890.4,724.6 L891.4,725.5 L892.4,726.4 L893.4,727.3 L894.4,728.1 L895.4,729.0 L896.4,729.9 L897.4,730.7 L898.4,731.5 L899.4,732.4 L900.4,733.2 L901.4,734.0 L902.4,734.8 L903.4,735.6 L904.4,736.4 L905.4,737.2 L906.4,738.0 L907.4,738.7 L908.4,739.5 L909.4,740.3 L910.4,741.0 L911.4,741.8 L912.4,742.5 L913.4,743.2 L914.4,744.0 L915.4,744.7 L916.4,745.4 L917.4,746.1 L918.4,746.8 L919.4,747.5 L920.4,748.2 L921.4,748.8 L922.4,749.5 L923.4,750.2 L924.4,750.9 L925.4,751.5 L926.4,752.2 L927.4,752.8 L928.4,753.5 L929.4,754.1 L930.4,754.7 L931.4,755.3 L932.4,756.0 L933.4,756.6 L934.4,757.2 L935.4,757.8 L936.4,758.4 L937.4,759.0 L938.4,759.6 L939.4,760.2 L940.4,760.7 L941.4,761.3 L942.4,761.9 L943.4,762.5 L944.4,763.0 L945.4,763.6 L946.4,764.1 L947.4,764.7 L948.4,765.2 L949.4,765.8 L950.4,766.3 L951.4,766.8 L952.4,767.4 L953.4,767.9 L954.4,768.4 L955.4,768.9 L956.4,769.4 L957.4,770.0 L958.4,770.5 L959.4,771.0 L960.4,771.5 L961.4,772.0 L962.4,772.5 L963.4,773.0 L964.4,773.4 L965.4,773.9 L966.4,774.4 L967.4,774.9 L968.4,775.4 L969.4,775.8 L970.4,776.3 L971.4,776.8 L972.4,777.2 L973.4,777.7 L974.4,778.2 L975.4,778.6 L976.4,779.1 L977.4,779.5 L978.4,780.0 L979.4,780.4 L980.4,780.9 L981.4,781.3 L982.4,781.7 L983.4,782.2 L984.4,782.6 L985.4,783.0 L986.4,783.5 L987.4,783.9 L988.4,784.3 L989.4,784.7 L990.4,785.1 L991.4,785.5 L992.4,786.0 L993.4,786.4 L994.4,786.8 L995.4,787.2 L996.4,787.6 L997.4,788.0 L998.4,788.4 L999.4,788.7 L1000.4,789.1 L1001.4,789.5 L1002.4,789.9 L1003.4,790.3 L1004.4,790.7 L1005.4,791.0 L1006.4,791.4 L1007.4,791.8 L1008.4,792.1 L1009.4,792.5 L1010.4,792.9 L1011.4,793.2 L1012.4,793.6 L1013.4,793.9 L1014.4,794.3 L1015.4,794.6 L1016.4,795.0 L1017.4,795.3 L1018.4,795.7 L1019.4,796.0 L1020.4,796.3 L1021.4,796.7 L1022.4,797.0 L1023.4,797.3 L1024.4,797.7 L1025.4,798.0 L1026.4,798.3 L1027.4,798.6 L1028.4,798.9 L1029.4,799.3 L1030.4,799.6 L1031.4,799.9 L1032.4,800.2 L1033.4,800.5 L1034.4,800.8 L1035.4,801.1 L1036.4,801.4 L1037.4,801.7 L1038.4,802.0 L1039.4,802.3 L1040.4,802.6 L1041.4,802.8 L1042.4,803.1 L1043.4,803.4 L1044.4,803.7 L1045.4,804.0 L1046.4,804.2 L1047.4,804.5 L1048.4,804.8 L1049.4,805.1 L1050.4,805.3 L1051.4,805.6 L1052.4,805.9 L1053.4,806.1 L1054.4,806.4 L1055.4,806.6 L1056.4,806.9 L1057.4,807.1 L1058.4,807.4 L1059.4,807.6 L1060.4,807.9 L1061.4,808.1 L1062.4,808.4 L1063.4,808.6 L1064.4,808.8 L1065.4,809.1 L1066.4,809.3 L1067.4,809.5 L1068.4,809.8 L1069.4,810.0 L1070.4,810.2 L1071.4,810.4 L1072.4,810.7 L1073.4,810.9 L1074.4,811.1 L1075.4,811.3 L1076.4,811.5 L1077.4,811.7 L1078.4,812.0 L1079.4,812.2 L1080.4,812.4 L1081.4,812.6 L1082.4,812.8 L1083.4,813.0 L1084.4,813.2 L1085.4,813.4 L1086.4,813.6 L1087.4,813.8 L1088.4,813.9 L1089.4,814.1 L1090.4,814.3 L1091.4,814.5 L1092.4,814.7 L1093.4,814.9 L1094.4,815.1 L1095.4,815.2 L1096.4,815.4 L1097.4,815.6 L1098.4,815.8 L1099.4,815.9 L1100.4,816.1 L1101.4,816.3 L1102.4,816.4 L1103.4,816.6 L1104.4,816.8 L1105.4,816.9 L1106.4,817.1 L1107.4,817.2 L1108.4,817.4 L1109.4,817.6 L1110.4,817.7 L1111.4,817.9 L1112.4,818.0 L1113.4,818.2 L1114.4,818.3 L1115.4,818.5 L1116.4,818.6 L1117.4,818.7 L1118.4,818.9 L1119.4,819.0 L1120.4,819.2 L1121.4,819.3 L1122.4,819.4 L1123.4,819.6 L1124.4,819.7 L1125.4,819.8 L1126.4,820.0 L1127.4,820.1 L1128.4,820.2 L1129.4,820.3 L1130.4,820.5 L1131.4,820.6 L1132.4,820.7 L1133.4,820.8 L1134.4,821.0 L1135.4,821.1 L1136.4,821.2 L1137.4,821.3 L1138.4,821.4 L1139.4,821.5 L1140.4,821.6 L1141.4,821.7 L1142.4,821.8 L1143.4,822.0 L1144.4,822.1 L1145.4,822.2 L1146.4,822.3 L1147.4,822.4 L1148.4,822.5 L1149.4,822.6 L1150.4,822.7 L1151.4,822.8 L1152.4,822.9 L1153.4,822.9 L1154.4,823.0 L1155.4,823.1 L1156.4,823.2 L1157.4,823.3 L1158.4,823.4 L1159.4,823.5 L1160.4,823.6 L1161.4,823.7 L1162.4,823.7 L1163.4,823.8 L1164.4,823.9 L1165.4,824.0 L1166.4,824.1 L1167.4,824.1 L1168.4,824.2 L1169.4,824.3 L1170.4,824.4 L1171.4,824.4 L1172.4,824.5 L1173.4,824.6 L1174.4,824.7 L1175.4,824.7 L1176.4,824.8 L1177.4,824.9 L1178.4,824.9 L1179.4,825.0" stroke="#000000" stroke-width="2.6"/>
<path d="M705.0,504.5 L706.0,504.1 L707.0,503.8 L708.0,503.5 L709.0,503.2 L710.0,502.9 L711.0,502.7 L712.0,502.6 L713.0,502.4 L714.0,502.3 L715.0,502.3 L716.0,502.3 L717.0,502.4 L718.0,502.6 L719.0,502.7 L720.0,503.0 L721.0,503.3 L722.0,503.7 L723.0,504.2 L724.0,504.7 L725.0,505.3 L726.0,506.0 L727.0,506.8 L728.0,507.6 L729.0,508.5 L730.0,509.5 L731.0,510.6 L732.0,511.7 L733.0,512.9 L734.0,514.1 L735.0,515.4 L736.0,516.8 L737.0,518.2 L738.0,519.7 L739.0,521.2 L740.0,522.8 L741.0,524.4 L742.0,526.0 L743.0,527.7 L744.0,529.4 L745.0,531.1 L746.0,532.9 L747.0,534.6 L748.0,536.4 L749.0,538.2 L750.0,540.1 L751.0,541.9 L752.0,543.7 L753.0,545.5 L754.0,547.4 L755.0,549.2 L756.0,551.0 L757.0,552.8 L758.0,554.5 L759.0,556.3 L760.0,558.0 L761.0,559.8 L762.0,561.5 L763.0,563.1 L764.0,564.8 L765.0,566.5 L766.0,568.1 L767.0,569.7 L768.0,571.3 L769.0,573.0 L770.0,574.6 L771.0,576.1 L772.0,577.7 L773.0,579.3 L774.0,580.9 L775.0,582.5 L776.0,584.0 L777.0,585.6 L778.0,587.2 L779.0,588.8 L780.0,590.3 L781.0,591.9 L782.0,593.5 L783.0,595.1 L784.0,596.7 L785.0,598.3 L786.0,600.0 L787.0,601.6 L788.0,603.2 L789.0,604.9 L790.0,606.6 L791.0,608.3 L792.0,609.9 L793.0,611.6 L794.0,613.4 L795.0,615.1 L796.0,616.8 L797.0,618.5 L798.0,620.2 L799.0,621.9 L800.0,623.6 L801.0,625.3 L802.0,627.0 L803.0,628.7 L804.0,630.4 L805.0,632.1 L806.0,633.8 L807.0,635.5 L808.0,637.1 L809.0,638.7 L810.0,640.4 L811.0,642.0 L812.0,643.6 L813.0,645.1 L814.0,646.7 L815.0,648.2 L816.0,649.7 L817.0,651.2 L818.0,652.6 L819.0,654.0 L820.0,655.4 L821.0,656.8 L822.0,658.2 L823.0,659.5 L824.0,660.8 L825.0,662.1 L826.0,663.3 L827.0,664.6 L828.0,665.8 L829.0,667.0 L830.0,668.2 L831.0,669.4 L832.0,670.6 L833.0,671.7 L834.0,672.9 L835.0,674.0 L836.0,675.2 L837.0,676.3 L838.0,677.4 L839.0,678.5 L840.0,679.6 L841.0,680.7 L842.0,681.8 L843.0,682.9 L844.0,684.0 L845.0,685.1 L846.0,686.2 L847.0,687.3 L848.0,688.4 L849.0,689.5 L850.0,690.5 L851.0,691.6 L852.0,692.7 L853.0,693.7 L854.0,694.8 L855.0,695.9 L856.0,696.9 L857.0,697.9 L858.0,699.0 L859.0,700.0 L860.0,701.0 L861.0,702.1 L862.0,703.1 L863.0,704.1 L864.0,705.1 L865.0,706.1 L866.0,707.1 L867.0,708.0 L868.0,709.0 L869.0,710.0 L870.0,711.0 L871.0,711.9 L872.0,712.8 L873.0,713.8 L874.0,714.7 L875.0,715.6 L876.0,716.6 L877.0,717.5 L878.0,718.4 L879.0,719.2 L880.0,720.1 L881.0,721.0 L882.0,721.9 L883.0,722.7 L884.0,723.6 L885.0,724.4 L886.0,725.3 L887.0,726.1 L888.0,726.9 L889.0,727.7 L890.0,728.6 L891.0,729.4 L892.0,730.2 L893.0,730.9 L894.0,731.7 L895.0,732.5 L896.0,733.3 L897.0,734.0 L898.0,734.8 L899.0,735.5 L900.0,736.3 L901.0,737.0 L902.0,737.7 L903.0,738.5 L904.0,739.2 L905.0,739.9 L906.0,740.6 L907.0,741.3 L908.0,742.0 L909.0,742.7 L910.0,743.4 L911.0,744.0 L912.0,744.7 L913.0,745.4 L914.0,746.0 L915.0,746.7 L916.0,747.3 L917.0,747.9 L918.0,748.6 L919.0,749.2 L920.0,749.8 L921.0,750.4 L922.0,751.1 L923.0,751.7 L924.0,752.3 L925.0,752.9 L926.0,753.5 L927.0,754.0 L928.0,754.6 L929.0,755.2 L930.0,755.8 L931.0,756.3 L932.0,756.9 L933.0,757.5 L934.0,758.0 L935.0,758.6 L936.0,759.1 L937.0,759.6 L938.0,760.2 L939.0,760.7 L940.0,761.2 L941.0,761.7 L942.0,762.3 L943.0,762.8 L944.0,763.3 L945.0,763.8 L946.0,764.3 L947.0,764.8 L948.0,765.3 L949.0,765.7 L950.0,766.2 L951.0,766.7 L952.0,767.2 L953.0,767.7 L954.0,768.1 L955.0,768.6 L956.0,769.1 L957.0,769.5 L958.0,770.0 L959.0,770.4 L960.0,770.9 L961.0,771.3 L962.0,771.8 L963.0,772.2 L964.0,772.6 L965.0,773.1 L966.0,773.5 L967.0,773.9 L968.0,774.3 L969.0,774.8 L970.0,775.2 L971.0,775.6 L972.0,776.0 L973.0,776.4 L974.0,776.8 L975.0,777.2 L976.0,777.6 L977.0,778.0 L978.0,778.4 L979.0,778.8 L980.0,779.2 L981.0,779.6 L982.0,780.0 L983.0,780.4 L984.0,780.8 L985.0,781.1 L986.0,781.5 L987.0,781.9 L988.0,782.3 L989.0,782.7 L990.0,783.0 L991.0,783.4 L992.0,783.8 L993.0,784.1 L994.0,784.5 L995.0,784.9 L996.0,785.2 L997.0,785.6 L998.0,786.0 L999.0,786.3 L1000.0,786.7 L1001.0,787.0 L1002.0,787.4 L1003.0,787.8 L1004.0,788.1 L1005.0,788.5 L1006.0,788.8 L1007.0,789.2 L1008.0,789.5 L1009.0,789.9 L1010.0,790.2 L1011.0,790.5 L1012.0,790.9 L1013.0,791.2 L1014.0,791.6 L1015.0,791.9 L1016.0,792.2 L1017.0,792.6 L1018.0,792.9 L1019.0,793.2 L1020.0,793.6 L1021.0,793.9 L1022.0,794.2 L1023.0,794.6 L1024.0,794.9 L1025.0,795.2 L1026.0,795.5 L1027.0,795.9 L1028.0,796.2 L1029.0,796.5 L1030.0,796.8 L1031.0,797.1 L1032.0,797.4 L1033.0,797.8 L1034.0,798.1 L1035.0,798.4 L1036.0,798.7 L1037.0,799.0 L1038.0,799.3 L1039.0,799.6 L1040.0,799.9 L1041.0,800.2 L1042.0,800.5 L1043.0,800.8 L1044.0,801.1 L1045.0,801.4 L1046.0,801.7 L1047.0,802.0 L1048.0,802.3 L1049.0,802.5 L1050.0,802.8 L1051.0,803.1 L1052.0,803.4 L1053.0,803.7 L1054.0,804.0 L1055.0,804.2 L1056.0,804.5 L1057.0,804.8 L1058.0,805.1 L1059.0,805.3 L1060.0,805.6 L1061.0,805.9 L1062.0,806.1 L1063.0,806.4 L1064.0,806.6 L1065.0,806.9 L1066.0,807.2 L1067.0,807.4 L1068.0,807.7 L1069.0,807.9 L1070.0,808.2 L1071.0,808.4 L1072.0,808.7 L1073.0,808.9 L1074.0,809.2 L1075.0,809.4 L1076.0,809.7 L1077.0,809.9 L1078.0,810.1 L1079.0,810.4 L1080.0,810.6 L1081.0,810.8 L1082.0,811.1 L1083.0,811.3 L1084.0,811.5 L1085.0,811.7 L1086.0,812.0 L1087.0,812.2 L1088.0,812.4 L1089.0,812.6 L1090.0,812.8 L1091.0,813.0 L1092.0,813.2 L1093.0,813.5 L1094.0,813.7 L1095.0,813.9 L1096.0,814.1 L1097.0,814.3 L1098.0,814.5 L1099.0,814.7 L1100.0,814.9 L1101.0,815.0 L1102.0,815.2 L1103.0,815.4 L1104.0,815.6 L1105.0,815.8 L1106.0,816.0 L1107.0,816.2 L1108.0,816.3 L1109.0,816.5 L1110.0,816.7 L1111.0,816.9 L1112.0,817.0 L1113.0,817.2 L1114.0,817.4 L1115.0,817.5 L1116.0,817.7 L1117.0,817.9 L1118.0,818.0 L1119.0,818.2 L1120.0,818.3 L1121.0,818.5 L1122.0,818.6 L1123.0,818.8 L1124.0,818.9 L1125.0,819.1 L1126.0,819.2 L1127.0,819.3 L1128.0,819.5 L1129.0,819.6 L1130.0,819.7 L1131.0,819.9 L1132.0,820.0 L1133.0,820.1 L1134.0,820.3 L1135.0,820.4 L1136.0,820.5 L1137.0,820.6 L1138.0,820.7 L1139.0,820.8 L1140.0,820.9 L1141.0,821.1 L1142.0,821.2 L1143.0,821.3 L1144.0,821.4 L1145.0,821.5 L1146.0,821.6 L1147.0,821.7 L1148.0,821.7 L1149.0,821.8 L1150.0,821.9 L1151.0,822.0 L1152.0,822.1 L1153.0,822.2 L1154.0,822.2 L1155.0,822.3 L1156.0,822.4 L1157.0,822.5 L1158.0,822.5 L1159.0,822.6 L1160.0,822.7 L1161.0,822.7 L1162.0,822.8 L1163.0,822.8 L1164.0,822.9 L1165.0,822.9 L1166.0,823.0 L1167.0,823.0 L1168.0,823.1 L1169.0,823.1 L1170.0,823.2 L1171.0,823.2 L1172.0,823.2 L1173.0,823.3 L1174.0,823.3 L1175.0,823.3 L1176.0,823.4 L1177.0,823.4 L1178.0,823.4 L1179.0,823.4 L1180.0,823.4" stroke="#ff00ff" stroke-width="2.6"/>
</g>
<rect x="691.2" y="478.4" width="489.2" height="351.8" fill="none" stroke="#2a2a2a" stroke-width="1.6"/>
<line x1="735.7" y1="830.2" x2="735.7" y2="835.2" stroke="#2a2a2a" stroke-width="1.4"/>
<text transform="translate(735.7,866.6) scale(0.92,1)" font-size="23" font-weight="bold" text-anchor="middle">50</text>
<line x1="824.6" y1="830.2" x2="824.6" y2="835.2" stroke="#2a2a2a" stroke-width="1.4"/>
<text transform="translate(824.6,866.6) scale(0.92,1)" font-size="23" font-weight="bold" text-anchor="middle">60</text>
<line x1="913.6" y1="830.2" x2="913.6" y2="835.2" stroke="#2a2a2a" stroke-width="1.4"/>
<text transform="translate(913.6,866.6) scale(0.92,1)" font-size="23" font-weight="bold" text-anchor="middle">70</text>
<line x1="1002.5" y1="830.2" x2="1002.5" y2="835.2" stroke="#2a2a2a" stroke-width="1.4"/>
<text transform="translate(1002.5,866.6) scale(0.92,1)" font-size="23" font-weight="bold" text-anchor="middle">80</text>
<line x1="1091.5" y1="830.2" x2="1091.5" y2="835.2" stroke="#2a2a2a" stroke-width="1.4"/>
<text transform="translate(1091.5,866.6) scale(0.92,1)" font-size="23" font-weight="bold" text-anchor="middle">90</text>
<line x1="1180.4" y1="830.2" x2="1180.4" y2="835.2" stroke="#2a2a2a" stroke-width="1.4"/>
<text transform="translate(1180.4,866.6) scale(0.92,1)" font-size="23" font-weight="bold" text-anchor="middle">100</text>
<line x1="686.2" y1="830.2" x2="691.2" y2="830.2" stroke="#2a2a2a" stroke-width="1.4"/>
<text transform="translate(674.6,837.8) scale(0.92,1)" font-size="23" font-weight="bold" text-anchor="end">0</text>
<line x1="686.2" y1="758.2" x2="691.2" y2="758.2" stroke="#2a2a2a" stroke-width="1.4"/>
<text transform="translate(674.6,765.8) scale(0.92,1)" font-size="23" font-weight="bold" text-anchor="end">10</text>
<line x1="686.2" y1="686.2" x2="691.2" y2="686.2" stroke="#2a2a2a" stroke-width="1.4"/>
<text transform="translate(674.6,693.9) scale(0.92,1)" font-size="23" font-weight="bold" text-anchor="end">20</text>
<line x1="686.2" y1="614.3" x2="691.2" y2="614.3" stroke="#2a2a2a" stroke-width="1.4"/>
<text transform="translate(674.6,621.9) scale(0.92,1)" font-size="23" font-weight="bold" text-anchor="end">30</text>
<line x1="686.2" y1="542.3" x2="691.2" y2="542.3" stroke="#2a2a2a" stroke-width="1.4"/>
<text transform="translate(674.6,549.9) scale(0.92,1)" font-size="23" font-weight="bold" text-anchor="end">40</text>
<text transform="translate(816.52,524.75) scale(0.9583,1)" style="font-size:25.44px;font-weight:bold;font-family:'Liberation Sans', sans-serif">model cells membranes</text>
<text transform="translate(888.57,557.92) scale(0.9720,1)" style="font-size:28.31px;font-weight:bold;font-family:'Liberation Sans', sans-serif">SK-N-SH</text>
<text transform="translate(1130.46,520.85) scale(1.0167,1)" style="font-size:40.43px;font-weight:normal;font-family:'Liberation Serif', serif">d</text>
<line x1="964.5" y1="582.1" x2="1007.2" y2="582.1" stroke="#000" stroke-width="2.5"/>
<text transform="translate(1018.20,589.10) scale(1.010,1)" style="font-size:19.25px">control</text>
<line x1="964.5" y1="604.9" x2="1007.2" y2="604.9" stroke="#20e8f0" stroke-width="2.5"/>
<text transform="translate(1018.20,611.90) scale(1.010,1)" style="font-size:19.25px">lipid:CU 64:1</text>
<line x1="964.5" y1="627.9" x2="1007.2" y2="627.9" stroke="#f020f0" stroke-width="2.5"/>
<text transform="translate(1018.20,634.90) scale(1.010,1)" style="font-size:19.25px">lipid:CU 32:1</text>
<line x1="964.5" y1="650.5" x2="1007.2" y2="650.5" stroke="#20e020" stroke-width="2.5"/>
<text transform="translate(1018.20,657.50) scale(1.010,1)" style="font-size:19.25px">lipid:CU 16:1</text>
<line x1="964.5" y1="673.1" x2="1007.2" y2="673.1" stroke="#f01010" stroke-width="2.5"/>
<text transform="translate(1018.20,680.10) scale(1.010,1)" style="font-size:19.25px">lipid:CU 8:1</text>
<line x1="964.5" y1="695.8" x2="1007.2" y2="695.8" stroke="#1010e0" stroke-width="2.5"/>
<text transform="translate(1018.20,702.80) scale(1.010,1)" style="font-size:19.25px">lipid:CU 4:1</text>
<text transform="translate(632.81,680.66) rotate(-90) scale(0.9883,1)" style="font-size:21.39px;font-weight:bold">[mN/m]</text>
<g transform="matrix(0,-0.9903,0.9646,0,618.20,707.70)"><path d="M0.4,6.2 C0.6,3.2 2.2,1.7 4.6,1.7 L20.4,1.7 M6.6,1.8 L6.6,10.5 C6.6,14.8 5.6,17 3.6,18.4 M14.2,1.8 L14.2,12.5 C14.2,17 15,19 16.8,18.9 C18.6,18.7 19.6,16.8 20.2,14.6" fill="none" stroke="#000" stroke-width="3.1" stroke-linecap="round"/><circle cx="3.9" cy="18.2" r="1.7" fill="#000"/></g>
<text transform="translate(854.07,893.07) scale(0.9765,1)" style="font-size:21.61px;font-weight:bold;font-family:'Liberation Sans', sans-serif">A/molecule</text>
<text transform="translate(972.94,890.73) scale(0.8712,1)" style="font-size:26.52px;font-weight:bold;font-family:'Liberation Sans', sans-serif">[</text>
<text transform="translate(980.46,890.50) scale(1.0578,1)" style="font-size:25.08px;font-weight:bold;font-family:'Liberation Sans', sans-serif">Å</text>
<text transform="translate(999.32,878.20) scale(0.9445,1)" style="font-size:17.43px;font-weight:bold;font-family:'Liberation Sans', sans-serif">2</text>
<text transform="translate(1008.84,890.73) scale(0.8993,1)" style="font-size:26.52px;font-weight:bold;font-family:'Liberation Sans', sans-serif">]</text>
<clipPath id="clipe"><rect x="688.7" y="952.2" width="489.3" height="351.8"/></clipPath>
<g clip-path="url(#clipe)" fill="none" stroke-width="2.6" stroke-linejoin="round" stroke-linecap="round">
<path d="M711.7,979.3 L712.7,978.8 L713.7,978.5 L714.7,978.5 L715.7,978.8 L716.7,979.3 L717.7,980.1 L718.7,981.0 L719.7,982.2 L720.7,983.6 L721.7,985.2 L722.7,986.9 L723.7,988.9 L724.7,991.0 L725.7,993.2 L726.7,995.5 L727.7,998.0 L728.7,1000.6 L729.7,1003.3 L730.7,1006.0 L731.7,1008.9 L732.7,1011.8 L733.7,1014.7 L734.7,1017.7 L735.7,1020.7 L736.7,1023.7 L737.7,1026.8 L738.7,1029.8 L739.7,1032.8 L740.7,1035.7 L741.7,1038.7 L742.7,1041.5 L743.7,1044.4 L744.7,1047.2 L745.7,1049.9 L746.7,1052.5 L747.7,1055.1 L748.7,1057.6 L749.7,1060.0 L750.7,1062.4 L751.7,1064.7 L752.7,1067.0 L753.7,1069.1 L754.7,1071.3 L755.7,1073.3 L756.7,1075.4 L757.7,1077.3 L758.7,1079.3 L759.7,1081.2 L760.7,1083.1 L761.7,1084.9 L762.7,1086.7 L763.7,1088.5 L764.7,1090.3 L765.7,1092.1 L766.7,1093.8 L767.7,1095.6 L768.7,1097.3 L769.7,1099.0 L770.7,1100.8 L771.7,1102.5 L772.7,1104.3 L773.7,1106.0 L774.7,1107.8 L775.7,1109.6 L776.7,1111.4 L777.7,1113.3 L778.7,1115.1 L779.7,1117.0 L780.7,1119.0 L781.7,1120.9 L782.7,1122.9 L783.7,1124.8 L784.7,1126.8 L785.7,1128.8 L786.7,1130.8 L787.7,1132.7 L788.7,1134.7 L789.7,1136.7 L790.7,1138.6 L791.7,1140.5 L792.7,1142.4 L793.7,1144.3 L794.7,1146.2 L795.7,1148.0 L796.7,1149.8 L797.7,1151.6 L798.7,1153.3 L799.7,1155.0 L800.7,1156.6 L801.7,1158.2 L802.7,1159.7 L803.7,1161.2 L804.7,1162.7 L805.7,1164.1 L806.7,1165.6 L807.7,1167.0 L808.7,1168.4 L809.7,1169.7 L810.7,1171.1 L811.7,1172.4 L812.7,1173.8 L813.7,1175.1 L814.7,1176.4 L815.7,1177.8 L816.7,1179.1 L817.7,1180.5 L818.7,1181.8 L819.7,1183.2 L820.7,1184.6 L821.7,1186.0 L822.7,1187.4 L823.7,1188.8 L824.7,1190.2 L825.7,1191.6 L826.7,1192.9 L827.7,1194.3 L828.7,1195.7 L829.7,1197.1 L830.7,1198.5 L831.7,1199.9 L832.7,1201.3 L833.7,1202.6 L834.7,1204.0 L835.7,1205.3 L836.7,1206.7 L837.7,1208.0 L838.7,1209.3 L839.7,1210.6 L840.7,1211.9 L841.7,1213.1 L842.7,1214.4 L843.7,1215.6 L844.7,1216.8 L845.7,1218.0 L846.7,1219.2 L847.7,1220.3 L848.7,1221.4 L849.7,1222.5 L850.7,1223.6 L851.7,1224.6 L852.7,1225.7 L853.7,1226.7 L854.7,1227.7 L855.7,1228.7 L856.7,1229.6 L857.7,1230.6 L858.7,1231.5 L859.7,1232.4 L860.7,1233.3 L861.7,1234.2 L862.7,1235.0 L863.7,1235.9 L864.7,1236.7 L865.7,1237.5 L866.7,1238.3 L867.7,1239.1 L868.7,1239.9 L869.7,1240.6 L870.7,1241.4 L871.7,1242.1 L872.7,1242.9 L873.7,1243.6 L874.7,1244.3 L875.7,1245.0 L876.7,1245.7 L877.7,1246.4 L878.7,1247.1 L879.7,1247.8 L880.7,1248.4 L881.7,1249.1 L882.7,1249.8 L883.7,1250.4 L884.7,1251.1 L885.7,1251.7 L886.7,1252.3 L887.7,1253.0 L888.7,1253.6 L889.7,1254.2 L890.7,1254.8 L891.7,1255.4 L892.7,1256.0 L893.7,1256.6 L894.7,1257.2 L895.7,1257.8 L896.7,1258.4 L897.7,1259.0 L898.7,1259.5 L899.7,1260.1 L900.7,1260.7 L901.7,1261.2 L902.7,1261.8 L903.7,1262.3 L904.7,1262.9 L905.7,1263.4 L906.7,1263.9 L907.7,1264.4 L908.7,1265.0 L909.7,1265.5 L910.7,1266.0 L911.7,1266.5 L912.7,1267.0 L913.7,1267.5 L914.7,1268.0 L915.7,1268.5 L916.7,1268.9 L917.7,1269.4 L918.7,1269.9 L919.7,1270.3 L920.7,1270.8 L921.7,1271.3 L922.7,1271.7 L923.7,1272.1 L924.7,1272.6 L925.7,1273.0 L926.7,1273.5 L927.7,1273.9 L928.7,1274.3 L929.7,1274.7 L930.7,1275.1 L931.7,1275.5 L932.7,1275.9 L933.7,1276.3 L934.7,1276.7 L935.7,1277.1 L936.7,1277.5 L937.7,1277.9 L938.7,1278.3 L939.7,1278.6 L940.7,1279.0 L941.7,1279.4 L942.7,1279.7 L943.7,1280.1 L944.7,1280.5 L945.7,1280.8 L946.7,1281.1 L947.7,1281.5 L948.7,1281.8 L949.7,1282.2 L950.7,1282.5 L951.7,1282.8 L952.7,1283.1 L953.7,1283.4 L954.7,1283.8 L955.7,1284.1 L956.7,1284.4 L957.7,1284.7 L958.7,1285.0 L959.7,1285.3 L960.7,1285.6 L961.7,1285.8 L962.7,1286.1 L963.7,1286.4 L964.7,1286.7 L965.7,1286.9 L966.7,1287.2 L967.7,1287.5 L968.7,1287.7 L969.7,1288.0 L970.7,1288.3 L971.7,1288.5 L972.7,1288.7 L973.7,1289.0 L974.7,1289.2 L975.7,1289.5 L976.7,1289.7 L977.7,1289.9 L978.7,1290.2 L979.7,1290.4 L980.7,1290.6 L981.7,1290.8 L982.7,1291.0 L983.7,1291.2 L984.7,1291.5 L985.7,1291.7 L986.7,1291.9 L987.7,1292.1 L988.7,1292.3 L989.7,1292.5 L990.7,1292.6 L991.7,1292.8 L992.7,1293.0 L993.7,1293.2 L994.7,1293.4 L995.7,1293.5 L996.7,1293.7 L997.7,1293.9 L998.7,1294.1 L999.7,1294.2 L1000.7,1294.4 L1001.7,1294.5 L1002.7,1294.7 L1003.7,1294.8 L1004.7,1295.0 L1005.7,1295.1 L1006.7,1295.3 L1007.7,1295.4 L1008.7,1295.6 L1009.7,1295.7 L1010.7,1295.8 L1011.7,1296.0 L1012.7,1296.1 L1013.7,1296.2 L1014.7,1296.4 L1015.7,1296.5 L1016.7,1296.6 L1017.7,1296.7 L1018.7,1296.8 L1019.7,1297.0 L1020.7,1297.1 L1021.7,1297.2 L1022.7,1297.3 L1023.7,1297.4 L1024.7,1297.5 L1025.7,1297.6 L1026.7,1297.7 L1027.7,1297.8 L1028.7,1297.9 L1029.7,1298.0 L1030.7,1298.1 L1031.7,1298.1 L1032.7,1298.2 L1033.7,1298.3 L1034.7,1298.4 L1035.7,1298.5 L1036.7,1298.6 L1037.7,1298.6 L1038.7,1298.7 L1039.7,1298.8 L1040.7,1298.8 L1041.7,1298.9 L1042.7,1299.0 L1043.7,1299.0 L1044.7,1299.1 L1045.7,1299.2 L1046.7,1299.2 L1047.7,1299.3 L1048.7,1299.3 L1049.7,1299.4 L1050.7,1299.5 L1051.7,1299.5 L1052.7,1299.6 L1053.7,1299.6 L1054.7,1299.7 L1055.7,1299.7 L1056.7,1299.7 L1057.7,1299.8 L1058.7,1299.8 L1059.7,1299.9 L1060.7,1299.9 L1061.7,1299.9 L1062.7,1300.0 L1063.7,1300.0 L1064.7,1300.1 L1065.7,1300.1 L1066.7,1300.1 L1067.7,1300.1 L1068.7,1300.2 L1069.7,1300.2 L1070.7,1300.2 L1071.7,1300.3 L1072.7,1300.3 L1073.7,1300.3 L1074.7,1300.3 L1075.7,1300.4 L1076.7,1300.4 L1077.7,1300.4 L1078.7,1300.4 L1079.7,1300.4 L1080.7,1300.4 L1081.7,1300.5 L1082.7,1300.5 L1083.7,1300.5 L1084.7,1300.5 L1085.7,1300.5 L1086.7,1300.5 L1087.7,1300.5 L1088.7,1300.6 L1089.7,1300.6 L1090.7,1300.6 L1091.7,1300.6 L1092.7,1300.6 L1093.7,1300.6 L1094.7,1300.6 L1095.7,1300.6 L1096.7,1300.6 L1097.7,1300.6 L1098.7,1300.6 L1099.7,1300.6 L1100.7,1300.7 L1101.7,1300.7 L1102.7,1300.7 L1103.7,1300.7 L1104.7,1300.7 L1105.7,1300.7 L1106.7,1300.7 L1107.7,1300.7 L1108.7,1300.7 L1109.7,1300.7 L1110.7,1300.7 L1111.7,1300.7 L1112.7,1300.7 L1113.7,1300.7 L1114.7,1300.7 L1115.7,1300.7 L1116.7,1300.7 L1117.7,1300.7 L1118.7,1300.7 L1119.7,1300.7 L1120.7,1300.7 L1121.7,1300.7 L1122.7,1300.7 L1123.7,1300.7 L1124.7,1300.7 L1125.7,1300.7 L1126.7,1300.7 L1127.7,1300.7 L1128.7,1300.7 L1129.7,1300.7 L1130.7,1300.7 L1131.7,1300.7 L1132.7,1300.7 L1133.7,1300.8 L1134.7,1300.8 L1135.7,1300.8 L1136.7,1300.8 L1137.7,1300.8 L1138.7,1300.8 L1139.7,1300.8 L1140.7,1300.8 L1141.7,1300.8 L1142.7,1300.8 L1143.7,1300.8 L1144.7,1300.8 L1145.7,1300.9 L1146.7,1300.9 L1147.7,1300.9 L1148.7,1300.9 L1149.7,1300.9 L1150.7,1300.9 L1151.7,1300.9 L1152.7,1301.0 L1153.7,1301.0 L1154.7,1301.0 L1155.7,1301.0 L1156.7,1301.0 L1157.7,1301.1 L1158.7,1301.1 L1159.7,1301.1 L1160.7,1301.1 L1161.7,1301.2 L1162.7,1301.2 L1163.7,1301.2 L1164.7,1301.2 L1165.7,1301.3 L1166.7,1301.3 L1167.7,1301.3 L1168.7,1301.4 L1169.7,1301.4 L1170.7,1301.4 L1171.7,1301.5 L1172.7,1301.5 L1173.7,1301.5 L1174.7,1301.6 L1175.7,1301.6 L1176.7,1301.7 L1177.7,1301.7" stroke="#000000" stroke-width="2.3"/>
<path d="M717.0,968.7 L718.0,968.1 L719.0,967.9 L720.0,967.9 L721.0,968.1 L722.0,968.6 L723.0,969.3 L724.0,970.2 L725.0,971.4 L726.0,972.7 L727.0,974.3 L728.0,976.2 L729.0,978.2 L730.0,980.4 L731.0,982.8 L732.0,985.4 L733.0,988.1 L734.0,991.0 L735.0,994.1 L736.0,997.2 L737.0,1000.5 L738.0,1003.8 L739.0,1007.3 L740.0,1010.7 L741.0,1014.2 L742.0,1017.7 L743.0,1021.3 L744.0,1024.7 L745.0,1028.2 L746.0,1031.6 L747.0,1034.9 L748.0,1038.2 L749.0,1041.4 L750.0,1044.5 L751.0,1047.4 L752.0,1050.3 L753.0,1053.0 L754.0,1055.7 L755.0,1058.2 L756.0,1060.8 L757.0,1063.2 L758.0,1065.6 L759.0,1068.0 L760.0,1070.3 L761.0,1072.6 L762.0,1074.9 L763.0,1077.2 L764.0,1079.5 L765.0,1081.8 L766.0,1084.1 L767.0,1086.5 L768.0,1088.9 L769.0,1091.3 L770.0,1093.8 L771.0,1096.3 L772.0,1098.9 L773.0,1101.5 L774.0,1104.1 L775.0,1106.7 L776.0,1109.4 L777.0,1112.1 L778.0,1114.9 L779.0,1117.6 L780.0,1120.4 L781.0,1123.1 L782.0,1125.9 L783.0,1128.6 L784.0,1131.3 L785.0,1134.0 L786.0,1136.6 L787.0,1139.2 L788.0,1141.7 L789.0,1144.2 L790.0,1146.5 L791.0,1148.8 L792.0,1151.1 L793.0,1153.3 L794.0,1155.4 L795.0,1157.5 L796.0,1159.5 L797.0,1161.5 L798.0,1163.5 L799.0,1165.4 L800.0,1167.3 L801.0,1169.2 L802.0,1171.0 L803.0,1172.8 L804.0,1174.6 L805.0,1176.3 L806.0,1178.0 L807.0,1179.7 L808.0,1181.3 L809.0,1182.9 L810.0,1184.5 L811.0,1186.1 L812.0,1187.6 L813.0,1189.2 L814.0,1190.7 L815.0,1192.2 L816.0,1193.6 L817.0,1195.1 L818.0,1196.5 L819.0,1197.9 L820.0,1199.3 L821.0,1200.6 L822.0,1202.0 L823.0,1203.3 L824.0,1204.6 L825.0,1205.9 L826.0,1207.2 L827.0,1208.4 L828.0,1209.7 L829.0,1210.9 L830.0,1212.1 L831.0,1213.2 L832.0,1214.4 L833.0,1215.6 L834.0,1216.7 L835.0,1217.8 L836.0,1218.9 L837.0,1220.0 L838.0,1221.0 L839.0,1222.1 L840.0,1223.1 L841.0,1224.1 L842.0,1225.1 L843.0,1226.1 L844.0,1227.1 L845.0,1228.1 L846.0,1229.0 L847.0,1230.0 L848.0,1230.9 L849.0,1231.8 L850.0,1232.7 L851.0,1233.6 L852.0,1234.4 L853.0,1235.3 L854.0,1236.2 L855.0,1237.0 L856.0,1237.8 L857.0,1238.6 L858.0,1239.4 L859.0,1240.2 L860.0,1241.0 L861.0,1241.8 L862.0,1242.6 L863.0,1243.3 L864.0,1244.1 L865.0,1244.8 L866.0,1245.5 L867.0,1246.2 L868.0,1246.9 L869.0,1247.6 L870.0,1248.3 L871.0,1249.0 L872.0,1249.7 L873.0,1250.4 L874.0,1251.0 L875.0,1251.7 L876.0,1252.4 L877.0,1253.0 L878.0,1253.6 L879.0,1254.3 L880.0,1254.9 L881.0,1255.5 L882.0,1256.2 L883.0,1256.8 L884.0,1257.4 L885.0,1258.0 L886.0,1258.6 L887.0,1259.2 L888.0,1259.8 L889.0,1260.3 L890.0,1260.9 L891.0,1261.5 L892.0,1262.1 L893.0,1262.6 L894.0,1263.2 L895.0,1263.7 L896.0,1264.3 L897.0,1264.8 L898.0,1265.4 L899.0,1265.9 L900.0,1266.4 L901.0,1267.0 L902.0,1267.5 L903.0,1268.0 L904.0,1268.5 L905.0,1269.0 L906.0,1269.5 L907.0,1270.0 L908.0,1270.5 L909.0,1271.0 L910.0,1271.5 L911.0,1272.0 L912.0,1272.4 L913.0,1272.9 L914.0,1273.4 L915.0,1273.8 L916.0,1274.3 L917.0,1274.7 L918.0,1275.2 L919.0,1275.6 L920.0,1276.1 L921.0,1276.5 L922.0,1276.9 L923.0,1277.3 L924.0,1277.8 L925.0,1278.2 L926.0,1278.6 L927.0,1279.0 L928.0,1279.4 L929.0,1279.8 L930.0,1280.2 L931.0,1280.6 L932.0,1281.0 L933.0,1281.3 L934.0,1281.7 L935.0,1282.1 L936.0,1282.5 L937.0,1282.8 L938.0,1283.2 L939.0,1283.5 L940.0,1283.9 L941.0,1284.2 L942.0,1284.6 L943.0,1284.9 L944.0,1285.2 L945.0,1285.6 L946.0,1285.9 L947.0,1286.2 L948.0,1286.5 L949.0,1286.8 L950.0,1287.2 L951.0,1287.5 L952.0,1287.8 L953.0,1288.1 L954.0,1288.4 L955.0,1288.6 L956.0,1288.9 L957.0,1289.2 L958.0,1289.5 L959.0,1289.8 L960.0,1290.0 L961.0,1290.3 L962.0,1290.6 L963.0,1290.8 L964.0,1291.1 L965.0,1291.3 L966.0,1291.6 L967.0,1291.8 L968.0,1292.1 L969.0,1292.3 L970.0,1292.5 L971.0,1292.8 L972.0,1293.0 L973.0,1293.2 L974.0,1293.4 L975.0,1293.6 L976.0,1293.8 L977.0,1294.0 L978.0,1294.3 L979.0,1294.5 L980.0,1294.6 L981.0,1294.8 L982.0,1295.0 L983.0,1295.2 L984.0,1295.4 L985.0,1295.6 L986.0,1295.8 L987.0,1295.9 L988.0,1296.1 L989.0,1296.3 L990.0,1296.4 L991.0,1296.6 L992.0,1296.8 L993.0,1296.9 L994.0,1297.1 L995.0,1297.2 L996.0,1297.4 L997.0,1297.5 L998.0,1297.6 L999.0,1297.8 L1000.0,1297.9 L1001.0,1298.1 L1002.0,1298.2 L1003.0,1298.3 L1004.0,1298.4 L1005.0,1298.6 L1006.0,1298.7 L1007.0,1298.8 L1008.0,1298.9 L1009.0,1299.0 L1010.0,1299.1 L1011.0,1299.2 L1012.0,1299.3 L1013.0,1299.4 L1014.0,1299.5 L1015.0,1299.6 L1016.0,1299.7 L1017.0,1299.8 L1018.0,1299.9 L1019.0,1300.0 L1020.0,1300.1 L1021.0,1300.1 L1022.0,1300.2 L1023.0,1300.3 L1024.0,1300.4 L1025.0,1300.4 L1026.0,1300.5 L1027.0,1300.6 L1028.0,1300.6 L1029.0,1300.7 L1030.0,1300.8 L1031.0,1300.8 L1032.0,1300.9 L1033.0,1300.9 L1034.0,1301.0 L1035.0,1301.1 L1036.0,1301.1 L1037.0,1301.2 L1038.0,1301.2 L1039.0,1301.2 L1040.0,1301.3 L1041.0,1301.3 L1042.0,1301.4 L1043.0,1301.4 L1044.0,1301.4 L1045.0,1301.5 L1046.0,1301.5 L1047.0,1301.5 L1048.0,1301.6 L1049.0,1301.6 L1050.0,1301.6 L1051.0,1301.6 L1052.0,1301.7 L1053.0,1301.7 L1054.0,1301.7 L1055.0,1301.7 L1056.0,1301.8 L1057.0,1301.8 L1058.0,1301.8 L1059.0,1301.8 L1060.0,1301.8 L1061.0,1301.8 L1062.0,1301.8 L1063.0,1301.8 L1064.0,1301.9 L1065.0,1301.9 L1066.0,1301.9 L1067.0,1301.9 L1068.0,1301.9 L1069.0,1301.9 L1070.0,1301.9 L1071.0,1301.9 L1072.0,1301.9 L1073.0,1301.9 L1074.0,1301.9 L1075.0,1301.9 L1076.0,1301.9 L1077.0,1301.9 L1078.0,1301.9 L1079.0,1301.9 L1080.0,1301.9 L1081.0,1301.9 L1082.0,1301.9 L1083.0,1301.8 L1084.0,1301.8 L1085.0,1301.8 L1086.0,1301.8 L1087.0,1301.8 L1088.0,1301.8 L1089.0,1301.8 L1090.0,1301.8 L1091.0,1301.8 L1092.0,1301.8 L1093.0,1301.7 L1094.0,1301.7 L1095.0,1301.7 L1096.0,1301.7 L1097.0,1301.7 L1098.0,1301.7 L1099.0,1301.7 L1100.0,1301.7 L1101.0,1301.6 L1102.0,1301.6 L1103.0,1301.6 L1104.0,1301.6 L1105.0,1301.6 L1106.0,1301.6 L1107.0,1301.6 L1108.0,1301.5 L1109.0,1301.5 L1110.0,1301.5 L1111.0,1301.5 L1112.0,1301.5 L1113.0,1301.5 L1114.0,1301.5 L1115.0,1301.5 L1116.0,1301.4 L1117.0,1301.4 L1118.0,1301.4 L1119.0,1301.4 L1120.0,1301.4 L1121.0,1301.4 L1122.0,1301.4 L1123.0,1301.4 L1124.0,1301.4 L1125.0,1301.4 L1126.0,1301.4 L1127.0,1301.3 L1128.0,1301.3 L1129.0,1301.3 L1130.0,1301.3 L1131.0,1301.3 L1132.0,1301.3 L1133.0,1301.3 L1134.0,1301.3 L1135.0,1301.3 L1136.0,1301.3 L1137.0,1301.3 L1138.0,1301.3 L1139.0,1301.3 L1140.0,1301.3 L1141.0,1301.3 L1142.0,1301.3 L1143.0,1301.3 L1144.0,1301.4 L1145.0,1301.4 L1146.0,1301.4 L1147.0,1301.4 L1148.0,1301.4 L1149.0,1301.4 L1150.0,1301.4 L1151.0,1301.4 L1152.0,1301.5 L1153.0,1301.5 L1154.0,1301.5 L1155.0,1301.5 L1156.0,1301.5 L1157.0,1301.6 L1158.0,1301.6 L1159.0,1301.6 L1160.0,1301.6 L1161.0,1301.7 L1162.0,1301.7 L1163.0,1301.7 L1164.0,1301.8 L1165.0,1301.8 L1166.0,1301.8 L1167.0,1301.9 L1168.0,1301.9 L1169.0,1302.0 L1170.0,1302.0 L1171.0,1302.1 L1172.0,1302.1 L1173.0,1302.2 L1174.0,1302.2 L1175.0,1302.3 L1176.0,1302.3 L1177.0,1302.4 L1178.0,1302.4" stroke="#ff0000" stroke-width="2.3"/>
<path d="M718.3,982.6 L719.3,981.6 L720.3,980.7 L721.3,980.0 L722.3,979.5 L723.3,979.0 L724.3,978.7 L725.3,978.5 L726.3,978.4 L727.3,978.4 L728.3,978.5 L729.3,978.6 L730.3,978.8 L731.3,979.1 L732.3,979.3 L733.3,979.7 L734.3,980.1 L735.3,980.7 L736.3,981.3 L737.3,982.1 L738.3,982.9 L739.3,984.0 L740.3,985.1 L741.3,986.5 L742.3,988.0 L743.3,989.6 L744.3,991.4 L745.3,993.3 L746.3,995.3 L747.3,997.4 L748.3,999.7 L749.3,1002.1 L750.3,1004.6 L751.3,1007.1 L752.3,1009.8 L753.3,1012.6 L754.3,1015.4 L755.3,1018.4 L756.3,1021.5 L757.3,1024.6 L758.3,1027.8 L759.3,1031.1 L760.3,1034.4 L761.3,1037.7 L762.3,1041.0 L763.3,1044.3 L764.3,1047.4 L765.3,1050.5 L766.3,1053.5 L767.3,1056.4 L768.3,1059.3 L769.3,1062.0 L770.3,1064.6 L771.3,1067.2 L772.3,1069.8 L773.3,1072.3 L774.3,1074.7 L775.3,1077.2 L776.3,1079.6 L777.3,1082.1 L778.3,1084.5 L779.3,1087.0 L780.3,1089.5 L781.3,1092.1 L782.3,1094.8 L783.3,1097.5 L784.3,1100.2 L785.3,1103.0 L786.3,1105.8 L787.3,1108.6 L788.3,1111.4 L789.3,1114.2 L790.3,1116.9 L791.3,1119.5 L792.3,1122.1 L793.3,1124.6 L794.3,1127.1 L795.3,1129.5 L796.3,1131.8 L797.3,1134.1 L798.3,1136.4 L799.3,1138.6 L800.3,1140.8 L801.3,1142.9 L802.3,1145.0 L803.3,1147.1 L804.3,1149.2 L805.3,1151.2 L806.3,1153.1 L807.3,1155.1 L808.3,1157.0 L809.3,1158.8 L810.3,1160.7 L811.3,1162.5 L812.3,1164.2 L813.3,1165.9 L814.3,1167.6 L815.3,1169.3 L816.3,1170.9 L817.3,1172.6 L818.3,1174.2 L819.3,1175.8 L820.3,1177.4 L821.3,1179.0 L822.3,1180.6 L823.3,1182.2 L824.3,1183.8 L825.3,1185.4 L826.3,1187.0 L827.3,1188.6 L828.3,1190.2 L829.3,1191.8 L830.3,1193.4 L831.3,1195.0 L832.3,1196.6 L833.3,1198.1 L834.3,1199.6 L835.3,1201.1 L836.3,1202.5 L837.3,1203.9 L838.3,1205.3 L839.3,1206.7 L840.3,1208.0 L841.3,1209.3 L842.3,1210.6 L843.3,1211.8 L844.3,1213.1 L845.3,1214.3 L846.3,1215.5 L847.3,1216.6 L848.3,1217.8 L849.3,1218.9 L850.3,1220.0 L851.3,1221.1 L852.3,1222.2 L853.3,1223.2 L854.3,1224.2 L855.3,1225.3 L856.3,1226.3 L857.3,1227.2 L858.3,1228.2 L859.3,1229.2 L860.3,1230.1 L861.3,1231.1 L862.3,1232.0 L863.3,1232.9 L864.3,1233.8 L865.3,1234.7 L866.3,1235.6 L867.3,1236.5 L868.3,1237.3 L869.3,1238.2 L870.3,1239.0 L871.3,1239.9 L872.3,1240.7 L873.3,1241.5 L874.3,1242.4 L875.3,1243.2 L876.3,1244.0 L877.3,1244.7 L878.3,1245.5 L879.3,1246.3 L880.3,1247.1 L881.3,1247.8 L882.3,1248.5 L883.3,1249.3 L884.3,1250.0 L885.3,1250.7 L886.3,1251.5 L887.3,1252.2 L888.3,1252.9 L889.3,1253.5 L890.3,1254.2 L891.3,1254.9 L892.3,1255.6 L893.3,1256.2 L894.3,1256.9 L895.3,1257.5 L896.3,1258.2 L897.3,1258.8 L898.3,1259.4 L899.3,1260.0 L900.3,1260.7 L901.3,1261.3 L902.3,1261.9 L903.3,1262.4 L904.3,1263.0 L905.3,1263.6 L906.3,1264.2 L907.3,1264.7 L908.3,1265.3 L909.3,1265.9 L910.3,1266.4 L911.3,1267.0 L912.3,1267.5 L913.3,1268.0 L914.3,1268.5 L915.3,1269.1 L916.3,1269.6 L917.3,1270.1 L918.3,1270.6 L919.3,1271.1 L920.3,1271.6 L921.3,1272.1 L922.3,1272.6 L923.3,1273.0 L924.3,1273.5 L925.3,1274.0 L926.3,1274.4 L927.3,1274.9 L928.3,1275.3 L929.3,1275.8 L930.3,1276.2 L931.3,1276.7 L932.3,1277.1 L933.3,1277.6 L934.3,1278.0 L935.3,1278.4 L936.3,1278.8 L937.3,1279.2 L938.3,1279.7 L939.3,1280.1 L940.3,1280.5 L941.3,1280.9 L942.3,1281.3 L943.3,1281.7 L944.3,1282.1 L945.3,1282.5 L946.3,1282.8 L947.3,1283.2 L948.3,1283.6 L949.3,1284.0 L950.3,1284.4 L951.3,1284.7 L952.3,1285.1 L953.3,1285.5 L954.3,1285.8 L955.3,1286.2 L956.3,1286.5 L957.3,1286.9 L958.3,1287.2 L959.3,1287.6 L960.3,1287.9 L961.3,1288.2 L962.3,1288.6 L963.3,1288.9 L964.3,1289.2 L965.3,1289.5 L966.3,1289.9 L967.3,1290.2 L968.3,1290.5 L969.3,1290.8 L970.3,1291.1 L971.3,1291.4 L972.3,1291.7 L973.3,1292.0 L974.3,1292.3 L975.3,1292.6 L976.3,1292.8 L977.3,1293.1 L978.3,1293.4 L979.3,1293.7 L980.3,1293.9 L981.3,1294.2 L982.3,1294.5 L983.3,1294.7 L984.3,1295.0 L985.3,1295.2 L986.3,1295.4 L987.3,1295.7 L988.3,1295.9 L989.3,1296.2 L990.3,1296.4 L991.3,1296.6 L992.3,1296.8 L993.3,1297.1 L994.3,1297.3 L995.3,1297.5 L996.3,1297.7 L997.3,1297.9 L998.3,1298.1 L999.3,1298.3 L1000.3,1298.5 L1001.3,1298.6 L1002.3,1298.8 L1003.3,1299.0 L1004.3,1299.2 L1005.3,1299.3 L1006.3,1299.5 L1007.3,1299.7 L1008.3,1299.8 L1009.3,1300.0 L1010.3,1300.1 L1011.3,1300.3 L1012.3,1300.4 L1013.3,1300.5 L1014.3,1300.7 L1015.3,1300.8 L1016.3,1300.9 L1017.3,1301.1 L1018.3,1301.2 L1019.3,1301.3 L1020.3,1301.4 L1021.3,1301.5 L1022.3,1301.6 L1023.3,1301.7 L1024.3,1301.8 L1025.3,1301.9 L1026.3,1302.0 L1027.3,1302.0 L1028.3,1302.1 L1029.3,1302.2 L1030.3,1302.3 L1031.3,1302.3 L1032.3,1302.4 L1033.3,1302.5 L1034.3,1302.5 L1035.3,1302.6 L1036.3,1302.7 L1037.3,1302.7 L1038.3,1302.8 L1039.3,1302.8 L1040.3,1302.9 L1041.3,1302.9 L1042.3,1302.9 L1043.3,1303.0 L1044.3,1303.0 L1045.3,1303.0 L1046.3,1303.1 L1047.3,1303.1 L1048.3,1303.1 L1049.3,1303.2 L1050.3,1303.2 L1051.3,1303.2 L1052.3,1303.2 L1053.3,1303.3 L1054.3,1303.3 L1055.3,1303.3 L1056.3,1303.3 L1057.3,1303.3 L1058.3,1303.3 L1059.3,1303.3 L1060.3,1303.3 L1061.3,1303.4 L1062.3,1303.4 L1063.3,1303.4 L1064.3,1303.4 L1065.3,1303.4 L1066.3,1303.4 L1067.3,1303.4 L1068.3,1303.4 L1069.3,1303.4 L1070.3,1303.4 L1071.3,1303.4 L1072.3,1303.4 L1073.3,1303.4 L1074.3,1303.4 L1075.3,1303.4 L1076.3,1303.4 L1077.3,1303.4 L1078.3,1303.4 L1079.3,1303.4 L1080.3,1303.4 L1081.3,1303.4 L1082.3,1303.4 L1083.3,1303.4 L1084.3,1303.4 L1085.3,1303.4 L1086.3,1303.4 L1087.3,1303.4 L1088.3,1303.4 L1089.3,1303.4 L1090.3,1303.4 L1091.3,1303.4 L1092.3,1303.4 L1093.3,1303.4 L1094.3,1303.4 L1095.3,1303.4 L1096.3,1303.4 L1097.3,1303.4 L1098.3,1303.4 L1099.3,1303.4 L1100.3,1303.4 L1101.3,1303.4 L1102.3,1303.4 L1103.3,1303.4 L1104.3,1303.4 L1105.3,1303.4 L1106.3,1303.4 L1107.3,1303.4 L1108.3,1303.5 L1109.3,1303.5 L1110.3,1303.5 L1111.3,1303.5 L1112.3,1303.5 L1113.3,1303.5 L1114.3,1303.5 L1115.3,1303.5 L1116.3,1303.5 L1117.3,1303.5 L1118.3,1303.5 L1119.3,1303.5 L1120.3,1303.5 L1121.3,1303.5 L1122.3,1303.5 L1123.3,1303.5 L1124.3,1303.5 L1125.3,1303.5 L1126.3,1303.5 L1127.3,1303.5 L1128.3,1303.5 L1129.3,1303.5 L1130.3,1303.5 L1131.3,1303.5 L1132.3,1303.5 L1133.3,1303.5 L1134.3,1303.5 L1135.3,1303.5 L1136.3,1303.5 L1137.3,1303.5 L1138.3,1303.5 L1139.3,1303.5 L1140.3,1303.5 L1141.3,1303.5 L1142.3,1303.5 L1143.3,1303.5 L1144.3,1303.5 L1145.3,1303.5 L1146.3,1303.6 L1147.3,1303.6 L1148.3,1303.6 L1149.3,1303.6 L1150.3,1303.6 L1151.3,1303.6 L1152.3,1303.6 L1153.3,1303.6 L1154.3,1303.6 L1155.3,1303.6 L1156.3,1303.5 L1157.3,1303.5 L1158.3,1303.5 L1159.3,1303.5 L1160.3,1303.5 L1161.3,1303.5 L1162.3,1303.5 L1163.3,1303.5 L1164.3,1303.5 L1165.3,1303.5 L1166.3,1303.5 L1167.3,1303.5 L1168.3,1303.5 L1169.3,1303.5 L1170.3,1303.5 L1171.3,1303.5 L1172.3,1303.5 L1173.3,1303.5 L1174.3,1303.5 L1175.3,1303.5 L1176.3,1303.5 L1177.3,1303.5" stroke="#0000ff" stroke-width="2.3"/>
</g>
<rect x="688.7" y="952.2" width="489.3" height="351.8" fill="none" stroke="#2a2a2a" stroke-width="1.6"/>
<line x1="688.7" y1="1304.0" x2="688.7" y2="1309.0" stroke="#2a2a2a" stroke-width="1.4"/>
<text transform="translate(688.7,1340.4) scale(0.92,1)" font-size="23" font-weight="bold" text-anchor="middle">40</text>
<line x1="770.2" y1="1304.0" x2="770.2" y2="1309.0" stroke="#2a2a2a" stroke-width="1.4"/>
<text transform="translate(770.2,1340.4) scale(0.92,1)" font-size="23" font-weight="bold" text-anchor="middle">50</text>
<line x1="851.8" y1="1304.0" x2="851.8" y2="1309.0" stroke="#2a2a2a" stroke-width="1.4"/>
<text transform="translate(851.8,1340.4) scale(0.92,1)" font-size="23" font-weight="bold" text-anchor="middle">60</text>
<line x1="933.4" y1="1304.0" x2="933.4" y2="1309.0" stroke="#2a2a2a" stroke-width="1.4"/>
<text transform="translate(933.4,1340.4) scale(0.92,1)" font-size="23" font-weight="bold" text-anchor="middle">70</text>
<line x1="1014.9" y1="1304.0" x2="1014.9" y2="1309.0" stroke="#2a2a2a" stroke-width="1.4"/>
<text transform="translate(1014.9,1340.4) scale(0.92,1)" font-size="23" font-weight="bold" text-anchor="middle">80</text>
<line x1="1096.5" y1="1304.0" x2="1096.5" y2="1309.0" stroke="#2a2a2a" stroke-width="1.4"/>
<text transform="translate(1096.5,1340.4) scale(0.92,1)" font-size="23" font-weight="bold" text-anchor="middle">90</text>
<line x1="1178.0" y1="1304.0" x2="1178.0" y2="1309.0" stroke="#2a2a2a" stroke-width="1.4"/>
<text transform="translate(1178.0,1340.4) scale(0.92,1)" font-size="23" font-weight="bold" text-anchor="middle">100</text>
<line x1="683.7" y1="1304.0" x2="688.7" y2="1304.0" stroke="#2a2a2a" stroke-width="1.4"/>
<text transform="translate(672.1,1311.6) scale(0.92,1)" font-size="23" font-weight="bold" text-anchor="end">0</text>
<line x1="683.7" y1="1232.2" x2="688.7" y2="1232.2" stroke="#2a2a2a" stroke-width="1.4"/>
<text transform="translate(672.1,1239.8) scale(0.92,1)" font-size="23" font-weight="bold" text-anchor="end">10</text>
<line x1="683.7" y1="1160.3" x2="688.7" y2="1160.3" stroke="#2a2a2a" stroke-width="1.4"/>
<text transform="translate(672.1,1167.9) scale(0.92,1)" font-size="23" font-weight="bold" text-anchor="end">20</text>
<line x1="683.7" y1="1088.5" x2="688.7" y2="1088.5" stroke="#2a2a2a" stroke-width="1.4"/>
<text transform="translate(672.1,1096.1) scale(0.92,1)" font-size="23" font-weight="bold" text-anchor="end">30</text>
<line x1="683.7" y1="1016.7" x2="688.7" y2="1016.7" stroke="#2a2a2a" stroke-width="1.4"/>
<text transform="translate(672.1,1024.3) scale(0.92,1)" font-size="23" font-weight="bold" text-anchor="end">40</text>
<text transform="translate(816.82,1006.55) scale(0.9814,1)" style="font-size:24.76px;font-weight:bold;font-family:'Liberation Sans', sans-serif">model cells membranes</text>
<text transform="translate(908.85,1040.29) scale(0.9736,1)" style="font-size:30.77px;font-weight:bold;font-family:'Liberation Sans', sans-serif">HL-60</text>
<text transform="translate(1134.56,995.17) scale(0.9856,1)" style="font-size:42.92px;font-weight:normal;font-family:'Liberation Serif', serif">e</text>
<line x1="952.3" y1="1075.5" x2="995.1" y2="1075.5" stroke="#000" stroke-width="2.5"/>
<text transform="translate(1005.00,1082.50) scale(1.010,1)" style="font-size:19.25px">control</text>
<line x1="952.3" y1="1098.3" x2="995.1" y2="1098.3" stroke="#f01010" stroke-width="2.5"/>
<text transform="translate(1005.00,1105.30) scale(1.010,1)" style="font-size:19.25px">lipid:CU 8:1</text>
<line x1="952.3" y1="1121.0" x2="995.1" y2="1121.0" stroke="#1010e0" stroke-width="2.5"/>
<text transform="translate(1005.00,1128.00) scale(1.010,1)" style="font-size:19.25px">lipid:CU 4:1</text>
<text transform="translate(630.51,1155.28) rotate(-90) scale(1.0024,1)" style="font-size:21.39px;font-weight:bold">[mN/m]</text>
<g transform="matrix(0,-0.9709,0.9899,0,614.50,1181.80)"><path d="M0.4,6.2 C0.6,3.2 2.2,1.7 4.6,1.7 L20.4,1.7 M6.6,1.8 L6.6,10.5 C6.6,14.8 5.6,17 3.6,18.4 M14.2,1.8 L14.2,12.5 C14.2,17 15,19 16.8,18.9 C18.6,18.7 19.6,16.8 20.2,14.6" fill="none" stroke="#000" stroke-width="3.1" stroke-linecap="round"/><circle cx="3.9" cy="18.2" r="1.7" fill="#000"/></g>
<text transform="translate(851.96,1366.67) scale(1.0020,1)" style="font-size:21.61px;font-weight:bold;font-family:'Liberation Sans', sans-serif">A/molecule</text>
<text transform="translate(973.93,1364.33) scale(0.8940,1)" style="font-size:26.52px;font-weight:bold;font-family:'Liberation Sans', sans-serif">[</text>
<text transform="translate(981.65,1364.10) scale(1.0855,1)" style="font-size:25.08px;font-weight:bold;font-family:'Liberation Sans', sans-serif">Å</text>
<text transform="translate(1001.00,1351.80) scale(0.9692,1)" style="font-size:17.43px;font-weight:bold;font-family:'Liberation Sans', sans-serif">2</text>
<text transform="translate(1010.77,1364.33) scale(0.9228,1)" style="font-size:26.52px;font-weight:bold;font-family:'Liberation Sans', sans-serif">]</text>
</svg>
</body></html>
